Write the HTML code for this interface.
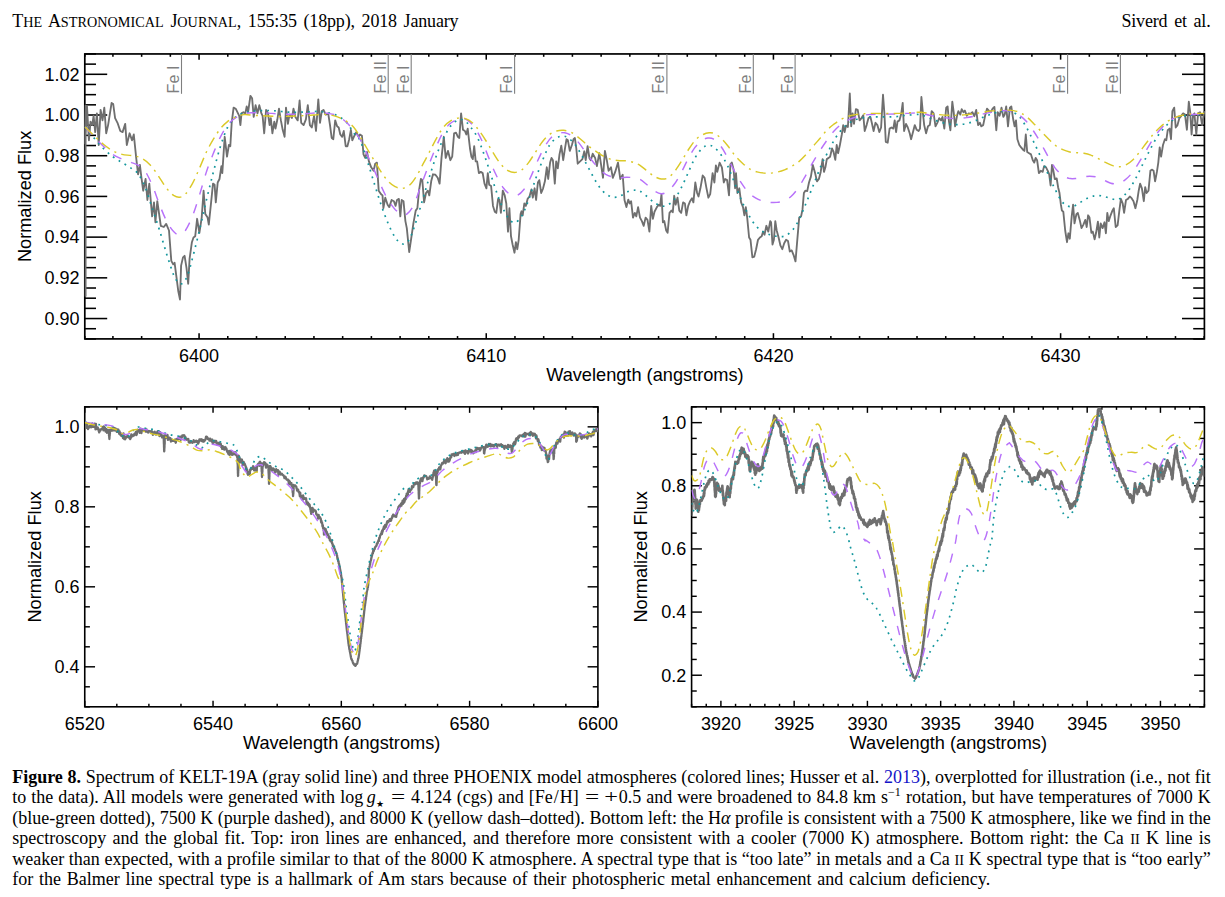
<!DOCTYPE html>
<html><head><meta charset="utf-8"><title>Figure 8</title>
<style>
html,body{margin:0;padding:0;background:#fff;}
body{width:1225px;height:897px;position:relative;overflow:hidden;font-family:"Liberation Serif",serif;color:#000;}
svg{position:absolute;left:0;top:0;}
svg text{font-family:"Liberation Sans",sans-serif;}
.hdr{position:absolute;top:11.1px;font-size:18px;line-height:20px;white-space:nowrap;word-spacing:2.4px;letter-spacing:-0.17px;}
.hdr .c{font-size:14.2px;letter-spacing:0.05px;}
.cl{position:absolute;left:12.2px;width:1198.6px;font-size:18px;letter-spacing:0;line-height:20px;height:20px;white-space:nowrap;text-align:justify;text-align-last:justify;}
.cl.last{text-align:left;text-align-last:left;word-spacing:1.3px;}
.m{display:inline-block;transform:scaleX(1.4);margin:0 3px;}
.st{font-size:8.5px;position:relative;top:4px;margin-left:0;font-family:"Liberation Sans",sans-serif;}
.cl sub,.cl sup{font-size:12px;line-height:0;}
.sc{font-size:14.4px;}
</style></head><body>
<div class="hdr" style="left:12.3px">T<span class="c">HE</span> A<span class="c">STRONOMICAL</span> J<span class="c">OURNAL</span>, 155:35 (18pp), 2018 January</div>
<div class="hdr" style="right:14.5px">Siverd et al.</div>
<svg width="1225" height="897" viewBox="0 0 1225 897">
<defs>
<clipPath id="ct"><rect x="84.0" y="54.0" width="1121.2" height="284.9"/></clipPath>
<clipPath id="cbl"><rect x="84.8" y="406.9" width="513.1" height="299.9"/></clipPath>
<clipPath id="cbr"><rect x="691.6" y="406.9" width="512.8" height="299.9"/></clipPath>
</defs>
<rect x="84.80" y="53.95" width="1119.60" height="284.95" fill="none" stroke="#000" stroke-width="1.70"/>
<line x1="84.80" y1="338.90" x2="84.80" y2="336.05" stroke="#000" stroke-width="1.55"/>
<line x1="84.80" y1="53.95" x2="84.80" y2="56.80" stroke="#000" stroke-width="1.55"/>
<line x1="112.92" y1="338.90" x2="112.92" y2="336.05" stroke="#000" stroke-width="1.55"/>
<line x1="112.92" y1="53.95" x2="112.92" y2="56.80" stroke="#000" stroke-width="1.55"/>
<line x1="141.64" y1="338.90" x2="141.64" y2="336.05" stroke="#000" stroke-width="1.55"/>
<line x1="141.64" y1="53.95" x2="141.64" y2="56.80" stroke="#000" stroke-width="1.55"/>
<line x1="170.35" y1="338.90" x2="170.35" y2="336.05" stroke="#000" stroke-width="1.55"/>
<line x1="170.35" y1="53.95" x2="170.35" y2="56.80" stroke="#000" stroke-width="1.55"/>
<line x1="199.07" y1="338.90" x2="199.07" y2="333.20" stroke="#000" stroke-width="1.55"/>
<line x1="199.07" y1="53.95" x2="199.07" y2="59.65" stroke="#000" stroke-width="1.55"/>
<text x="199.07" y="362.30" text-anchor="middle" font-size="18.00" fill="#000">6400</text>
<line x1="227.79" y1="338.90" x2="227.79" y2="336.05" stroke="#000" stroke-width="1.55"/>
<line x1="227.79" y1="53.95" x2="227.79" y2="56.80" stroke="#000" stroke-width="1.55"/>
<line x1="256.51" y1="338.90" x2="256.51" y2="336.05" stroke="#000" stroke-width="1.55"/>
<line x1="256.51" y1="53.95" x2="256.51" y2="56.80" stroke="#000" stroke-width="1.55"/>
<line x1="285.23" y1="338.90" x2="285.23" y2="336.05" stroke="#000" stroke-width="1.55"/>
<line x1="285.23" y1="53.95" x2="285.23" y2="56.80" stroke="#000" stroke-width="1.55"/>
<line x1="313.94" y1="338.90" x2="313.94" y2="336.05" stroke="#000" stroke-width="1.55"/>
<line x1="313.94" y1="53.95" x2="313.94" y2="56.80" stroke="#000" stroke-width="1.55"/>
<line x1="342.66" y1="338.90" x2="342.66" y2="336.05" stroke="#000" stroke-width="1.55"/>
<line x1="342.66" y1="53.95" x2="342.66" y2="56.80" stroke="#000" stroke-width="1.55"/>
<line x1="371.38" y1="338.90" x2="371.38" y2="336.05" stroke="#000" stroke-width="1.55"/>
<line x1="371.38" y1="53.95" x2="371.38" y2="56.80" stroke="#000" stroke-width="1.55"/>
<line x1="400.10" y1="338.90" x2="400.10" y2="336.05" stroke="#000" stroke-width="1.55"/>
<line x1="400.10" y1="53.95" x2="400.10" y2="56.80" stroke="#000" stroke-width="1.55"/>
<line x1="428.82" y1="338.90" x2="428.82" y2="336.05" stroke="#000" stroke-width="1.55"/>
<line x1="428.82" y1="53.95" x2="428.82" y2="56.80" stroke="#000" stroke-width="1.55"/>
<line x1="457.53" y1="338.90" x2="457.53" y2="336.05" stroke="#000" stroke-width="1.55"/>
<line x1="457.53" y1="53.95" x2="457.53" y2="56.80" stroke="#000" stroke-width="1.55"/>
<line x1="486.25" y1="338.90" x2="486.25" y2="333.20" stroke="#000" stroke-width="1.55"/>
<line x1="486.25" y1="53.95" x2="486.25" y2="59.65" stroke="#000" stroke-width="1.55"/>
<text x="486.25" y="362.30" text-anchor="middle" font-size="18.00" fill="#000">6410</text>
<line x1="514.97" y1="338.90" x2="514.97" y2="336.05" stroke="#000" stroke-width="1.55"/>
<line x1="514.97" y1="53.95" x2="514.97" y2="56.80" stroke="#000" stroke-width="1.55"/>
<line x1="543.69" y1="338.90" x2="543.69" y2="336.05" stroke="#000" stroke-width="1.55"/>
<line x1="543.69" y1="53.95" x2="543.69" y2="56.80" stroke="#000" stroke-width="1.55"/>
<line x1="572.41" y1="338.90" x2="572.41" y2="336.05" stroke="#000" stroke-width="1.55"/>
<line x1="572.41" y1="53.95" x2="572.41" y2="56.80" stroke="#000" stroke-width="1.55"/>
<line x1="601.12" y1="338.90" x2="601.12" y2="336.05" stroke="#000" stroke-width="1.55"/>
<line x1="601.12" y1="53.95" x2="601.12" y2="56.80" stroke="#000" stroke-width="1.55"/>
<line x1="629.84" y1="338.90" x2="629.84" y2="336.05" stroke="#000" stroke-width="1.55"/>
<line x1="629.84" y1="53.95" x2="629.84" y2="56.80" stroke="#000" stroke-width="1.55"/>
<line x1="658.56" y1="338.90" x2="658.56" y2="336.05" stroke="#000" stroke-width="1.55"/>
<line x1="658.56" y1="53.95" x2="658.56" y2="56.80" stroke="#000" stroke-width="1.55"/>
<line x1="687.28" y1="338.90" x2="687.28" y2="336.05" stroke="#000" stroke-width="1.55"/>
<line x1="687.28" y1="53.95" x2="687.28" y2="56.80" stroke="#000" stroke-width="1.55"/>
<line x1="715.99" y1="338.90" x2="715.99" y2="336.05" stroke="#000" stroke-width="1.55"/>
<line x1="715.99" y1="53.95" x2="715.99" y2="56.80" stroke="#000" stroke-width="1.55"/>
<line x1="744.71" y1="338.90" x2="744.71" y2="336.05" stroke="#000" stroke-width="1.55"/>
<line x1="744.71" y1="53.95" x2="744.71" y2="56.80" stroke="#000" stroke-width="1.55"/>
<line x1="773.43" y1="338.90" x2="773.43" y2="333.20" stroke="#000" stroke-width="1.55"/>
<line x1="773.43" y1="53.95" x2="773.43" y2="59.65" stroke="#000" stroke-width="1.55"/>
<text x="773.43" y="362.30" text-anchor="middle" font-size="18.00" fill="#000">6420</text>
<line x1="802.15" y1="338.90" x2="802.15" y2="336.05" stroke="#000" stroke-width="1.55"/>
<line x1="802.15" y1="53.95" x2="802.15" y2="56.80" stroke="#000" stroke-width="1.55"/>
<line x1="830.87" y1="338.90" x2="830.87" y2="336.05" stroke="#000" stroke-width="1.55"/>
<line x1="830.87" y1="53.95" x2="830.87" y2="56.80" stroke="#000" stroke-width="1.55"/>
<line x1="859.58" y1="338.90" x2="859.58" y2="336.05" stroke="#000" stroke-width="1.55"/>
<line x1="859.58" y1="53.95" x2="859.58" y2="56.80" stroke="#000" stroke-width="1.55"/>
<line x1="888.30" y1="338.90" x2="888.30" y2="336.05" stroke="#000" stroke-width="1.55"/>
<line x1="888.30" y1="53.95" x2="888.30" y2="56.80" stroke="#000" stroke-width="1.55"/>
<line x1="917.02" y1="338.90" x2="917.02" y2="336.05" stroke="#000" stroke-width="1.55"/>
<line x1="917.02" y1="53.95" x2="917.02" y2="56.80" stroke="#000" stroke-width="1.55"/>
<line x1="945.74" y1="338.90" x2="945.74" y2="336.05" stroke="#000" stroke-width="1.55"/>
<line x1="945.74" y1="53.95" x2="945.74" y2="56.80" stroke="#000" stroke-width="1.55"/>
<line x1="974.46" y1="338.90" x2="974.46" y2="336.05" stroke="#000" stroke-width="1.55"/>
<line x1="974.46" y1="53.95" x2="974.46" y2="56.80" stroke="#000" stroke-width="1.55"/>
<line x1="1003.17" y1="338.90" x2="1003.17" y2="336.05" stroke="#000" stroke-width="1.55"/>
<line x1="1003.17" y1="53.95" x2="1003.17" y2="56.80" stroke="#000" stroke-width="1.55"/>
<line x1="1031.89" y1="338.90" x2="1031.89" y2="336.05" stroke="#000" stroke-width="1.55"/>
<line x1="1031.89" y1="53.95" x2="1031.89" y2="56.80" stroke="#000" stroke-width="1.55"/>
<line x1="1060.61" y1="338.90" x2="1060.61" y2="333.20" stroke="#000" stroke-width="1.55"/>
<line x1="1060.61" y1="53.95" x2="1060.61" y2="59.65" stroke="#000" stroke-width="1.55"/>
<text x="1060.61" y="362.30" text-anchor="middle" font-size="18.00" fill="#000">6430</text>
<line x1="1089.33" y1="338.90" x2="1089.33" y2="336.05" stroke="#000" stroke-width="1.55"/>
<line x1="1089.33" y1="53.95" x2="1089.33" y2="56.80" stroke="#000" stroke-width="1.55"/>
<line x1="1118.05" y1="338.90" x2="1118.05" y2="336.05" stroke="#000" stroke-width="1.55"/>
<line x1="1118.05" y1="53.95" x2="1118.05" y2="56.80" stroke="#000" stroke-width="1.55"/>
<line x1="1146.76" y1="338.90" x2="1146.76" y2="336.05" stroke="#000" stroke-width="1.55"/>
<line x1="1146.76" y1="53.95" x2="1146.76" y2="56.80" stroke="#000" stroke-width="1.55"/>
<line x1="1175.48" y1="338.90" x2="1175.48" y2="336.05" stroke="#000" stroke-width="1.55"/>
<line x1="1175.48" y1="53.95" x2="1175.48" y2="56.80" stroke="#000" stroke-width="1.55"/>
<line x1="1204.20" y1="338.90" x2="1204.20" y2="336.05" stroke="#000" stroke-width="1.55"/>
<line x1="1204.20" y1="53.95" x2="1204.20" y2="56.80" stroke="#000" stroke-width="1.55"/>
<line x1="84.80" y1="338.90" x2="96.00" y2="338.90" stroke="#000" stroke-width="1.55"/>
<line x1="1204.40" y1="338.90" x2="1193.20" y2="338.90" stroke="#000" stroke-width="1.55"/>
<line x1="84.80" y1="328.72" x2="96.00" y2="328.72" stroke="#000" stroke-width="1.55"/>
<line x1="1204.40" y1="328.72" x2="1193.20" y2="328.72" stroke="#000" stroke-width="1.55"/>
<line x1="84.80" y1="318.55" x2="107.20" y2="318.55" stroke="#000" stroke-width="1.55"/>
<line x1="1204.40" y1="318.55" x2="1182.00" y2="318.55" stroke="#000" stroke-width="1.55"/>
<text x="79.60" y="324.85" text-anchor="end" font-size="18.00" fill="#000">0.90</text>
<line x1="84.80" y1="308.37" x2="96.00" y2="308.37" stroke="#000" stroke-width="1.55"/>
<line x1="1204.40" y1="308.37" x2="1193.20" y2="308.37" stroke="#000" stroke-width="1.55"/>
<line x1="84.80" y1="298.19" x2="96.00" y2="298.19" stroke="#000" stroke-width="1.55"/>
<line x1="1204.40" y1="298.19" x2="1193.20" y2="298.19" stroke="#000" stroke-width="1.55"/>
<line x1="84.80" y1="288.02" x2="96.00" y2="288.02" stroke="#000" stroke-width="1.55"/>
<line x1="1204.40" y1="288.02" x2="1193.20" y2="288.02" stroke="#000" stroke-width="1.55"/>
<line x1="84.80" y1="277.84" x2="107.20" y2="277.84" stroke="#000" stroke-width="1.55"/>
<line x1="1204.40" y1="277.84" x2="1182.00" y2="277.84" stroke="#000" stroke-width="1.55"/>
<text x="79.60" y="284.14" text-anchor="end" font-size="18.00" fill="#000">0.92</text>
<line x1="84.80" y1="267.66" x2="96.00" y2="267.66" stroke="#000" stroke-width="1.55"/>
<line x1="1204.40" y1="267.66" x2="1193.20" y2="267.66" stroke="#000" stroke-width="1.55"/>
<line x1="84.80" y1="257.49" x2="96.00" y2="257.49" stroke="#000" stroke-width="1.55"/>
<line x1="1204.40" y1="257.49" x2="1193.20" y2="257.49" stroke="#000" stroke-width="1.55"/>
<line x1="84.80" y1="247.31" x2="96.00" y2="247.31" stroke="#000" stroke-width="1.55"/>
<line x1="1204.40" y1="247.31" x2="1193.20" y2="247.31" stroke="#000" stroke-width="1.55"/>
<line x1="84.80" y1="237.13" x2="107.20" y2="237.13" stroke="#000" stroke-width="1.55"/>
<line x1="1204.40" y1="237.13" x2="1182.00" y2="237.13" stroke="#000" stroke-width="1.55"/>
<text x="79.60" y="243.43" text-anchor="end" font-size="18.00" fill="#000">0.94</text>
<line x1="84.80" y1="226.96" x2="96.00" y2="226.96" stroke="#000" stroke-width="1.55"/>
<line x1="1204.40" y1="226.96" x2="1193.20" y2="226.96" stroke="#000" stroke-width="1.55"/>
<line x1="84.80" y1="216.78" x2="96.00" y2="216.78" stroke="#000" stroke-width="1.55"/>
<line x1="1204.40" y1="216.78" x2="1193.20" y2="216.78" stroke="#000" stroke-width="1.55"/>
<line x1="84.80" y1="206.60" x2="96.00" y2="206.60" stroke="#000" stroke-width="1.55"/>
<line x1="1204.40" y1="206.60" x2="1193.20" y2="206.60" stroke="#000" stroke-width="1.55"/>
<line x1="84.80" y1="196.42" x2="107.20" y2="196.42" stroke="#000" stroke-width="1.55"/>
<line x1="1204.40" y1="196.42" x2="1182.00" y2="196.42" stroke="#000" stroke-width="1.55"/>
<text x="79.60" y="202.72" text-anchor="end" font-size="18.00" fill="#000">0.96</text>
<line x1="84.80" y1="186.25" x2="96.00" y2="186.25" stroke="#000" stroke-width="1.55"/>
<line x1="1204.40" y1="186.25" x2="1193.20" y2="186.25" stroke="#000" stroke-width="1.55"/>
<line x1="84.80" y1="176.07" x2="96.00" y2="176.07" stroke="#000" stroke-width="1.55"/>
<line x1="1204.40" y1="176.07" x2="1193.20" y2="176.07" stroke="#000" stroke-width="1.55"/>
<line x1="84.80" y1="165.89" x2="96.00" y2="165.89" stroke="#000" stroke-width="1.55"/>
<line x1="1204.40" y1="165.89" x2="1193.20" y2="165.89" stroke="#000" stroke-width="1.55"/>
<line x1="84.80" y1="155.72" x2="107.20" y2="155.72" stroke="#000" stroke-width="1.55"/>
<line x1="1204.40" y1="155.72" x2="1182.00" y2="155.72" stroke="#000" stroke-width="1.55"/>
<text x="79.60" y="162.02" text-anchor="end" font-size="18.00" fill="#000">0.98</text>
<line x1="84.80" y1="145.54" x2="96.00" y2="145.54" stroke="#000" stroke-width="1.55"/>
<line x1="1204.40" y1="145.54" x2="1193.20" y2="145.54" stroke="#000" stroke-width="1.55"/>
<line x1="84.80" y1="135.36" x2="96.00" y2="135.36" stroke="#000" stroke-width="1.55"/>
<line x1="1204.40" y1="135.36" x2="1193.20" y2="135.36" stroke="#000" stroke-width="1.55"/>
<line x1="84.80" y1="125.19" x2="96.00" y2="125.19" stroke="#000" stroke-width="1.55"/>
<line x1="1204.40" y1="125.19" x2="1193.20" y2="125.19" stroke="#000" stroke-width="1.55"/>
<line x1="84.80" y1="115.01" x2="107.20" y2="115.01" stroke="#000" stroke-width="1.55"/>
<line x1="1204.40" y1="115.01" x2="1182.00" y2="115.01" stroke="#000" stroke-width="1.55"/>
<text x="79.60" y="121.31" text-anchor="end" font-size="18.00" fill="#000">1.00</text>
<line x1="84.80" y1="104.83" x2="96.00" y2="104.83" stroke="#000" stroke-width="1.55"/>
<line x1="1204.40" y1="104.83" x2="1193.20" y2="104.83" stroke="#000" stroke-width="1.55"/>
<line x1="84.80" y1="94.66" x2="96.00" y2="94.66" stroke="#000" stroke-width="1.55"/>
<line x1="1204.40" y1="94.66" x2="1193.20" y2="94.66" stroke="#000" stroke-width="1.55"/>
<line x1="84.80" y1="84.48" x2="96.00" y2="84.48" stroke="#000" stroke-width="1.55"/>
<line x1="1204.40" y1="84.48" x2="1193.20" y2="84.48" stroke="#000" stroke-width="1.55"/>
<line x1="84.80" y1="74.30" x2="107.20" y2="74.30" stroke="#000" stroke-width="1.55"/>
<line x1="1204.40" y1="74.30" x2="1182.00" y2="74.30" stroke="#000" stroke-width="1.55"/>
<text x="79.60" y="80.60" text-anchor="end" font-size="18.00" fill="#000">1.02</text>
<line x1="84.80" y1="64.13" x2="96.00" y2="64.13" stroke="#000" stroke-width="1.55"/>
<line x1="1204.40" y1="64.13" x2="1193.20" y2="64.13" stroke="#000" stroke-width="1.55"/>
<line x1="84.80" y1="53.95" x2="96.00" y2="53.95" stroke="#000" stroke-width="1.55"/>
<line x1="1204.40" y1="53.95" x2="1193.20" y2="53.95" stroke="#000" stroke-width="1.55"/>
<text x="644.90" y="381.00" text-anchor="middle" font-size="18.20" fill="#000">Wavelength (angstroms)</text>
<text x="31.00" y="196.42" text-anchor="middle" font-size="18.20" fill="#000" transform="rotate(-90 31.00 196.42)">Normalized Flux</text>
<rect x="84.75" y="406.85" width="513.15" height="299.95" fill="none" stroke="#000" stroke-width="1.60"/>
<line x1="84.75" y1="706.80" x2="84.75" y2="700.80" stroke="#000" stroke-width="1.45"/>
<line x1="84.75" y1="406.85" x2="84.75" y2="412.85" stroke="#000" stroke-width="1.45"/>
<text x="84.75" y="729.60" text-anchor="middle" font-size="18.00" fill="#000">6520</text>
<line x1="116.82" y1="706.80" x2="116.82" y2="703.80" stroke="#000" stroke-width="1.45"/>
<line x1="116.82" y1="406.85" x2="116.82" y2="409.85" stroke="#000" stroke-width="1.45"/>
<line x1="148.89" y1="706.80" x2="148.89" y2="703.80" stroke="#000" stroke-width="1.45"/>
<line x1="148.89" y1="406.85" x2="148.89" y2="409.85" stroke="#000" stroke-width="1.45"/>
<line x1="180.97" y1="706.80" x2="180.97" y2="703.80" stroke="#000" stroke-width="1.45"/>
<line x1="180.97" y1="406.85" x2="180.97" y2="409.85" stroke="#000" stroke-width="1.45"/>
<line x1="213.04" y1="706.80" x2="213.04" y2="700.80" stroke="#000" stroke-width="1.45"/>
<line x1="213.04" y1="406.85" x2="213.04" y2="412.85" stroke="#000" stroke-width="1.45"/>
<text x="213.04" y="729.60" text-anchor="middle" font-size="18.00" fill="#000">6540</text>
<line x1="245.11" y1="706.80" x2="245.11" y2="703.80" stroke="#000" stroke-width="1.45"/>
<line x1="245.11" y1="406.85" x2="245.11" y2="409.85" stroke="#000" stroke-width="1.45"/>
<line x1="277.18" y1="706.80" x2="277.18" y2="703.80" stroke="#000" stroke-width="1.45"/>
<line x1="277.18" y1="406.85" x2="277.18" y2="409.85" stroke="#000" stroke-width="1.45"/>
<line x1="309.25" y1="706.80" x2="309.25" y2="703.80" stroke="#000" stroke-width="1.45"/>
<line x1="309.25" y1="406.85" x2="309.25" y2="409.85" stroke="#000" stroke-width="1.45"/>
<line x1="341.32" y1="706.80" x2="341.32" y2="700.80" stroke="#000" stroke-width="1.45"/>
<line x1="341.32" y1="406.85" x2="341.32" y2="412.85" stroke="#000" stroke-width="1.45"/>
<text x="341.32" y="729.60" text-anchor="middle" font-size="18.00" fill="#000">6560</text>
<line x1="373.40" y1="706.80" x2="373.40" y2="703.80" stroke="#000" stroke-width="1.45"/>
<line x1="373.40" y1="406.85" x2="373.40" y2="409.85" stroke="#000" stroke-width="1.45"/>
<line x1="405.47" y1="706.80" x2="405.47" y2="703.80" stroke="#000" stroke-width="1.45"/>
<line x1="405.47" y1="406.85" x2="405.47" y2="409.85" stroke="#000" stroke-width="1.45"/>
<line x1="437.54" y1="706.80" x2="437.54" y2="703.80" stroke="#000" stroke-width="1.45"/>
<line x1="437.54" y1="406.85" x2="437.54" y2="409.85" stroke="#000" stroke-width="1.45"/>
<line x1="469.61" y1="706.80" x2="469.61" y2="700.80" stroke="#000" stroke-width="1.45"/>
<line x1="469.61" y1="406.85" x2="469.61" y2="412.85" stroke="#000" stroke-width="1.45"/>
<text x="469.61" y="729.60" text-anchor="middle" font-size="18.00" fill="#000">6580</text>
<line x1="501.68" y1="706.80" x2="501.68" y2="703.80" stroke="#000" stroke-width="1.45"/>
<line x1="501.68" y1="406.85" x2="501.68" y2="409.85" stroke="#000" stroke-width="1.45"/>
<line x1="533.76" y1="706.80" x2="533.76" y2="703.80" stroke="#000" stroke-width="1.45"/>
<line x1="533.76" y1="406.85" x2="533.76" y2="409.85" stroke="#000" stroke-width="1.45"/>
<line x1="565.83" y1="706.80" x2="565.83" y2="703.80" stroke="#000" stroke-width="1.45"/>
<line x1="565.83" y1="406.85" x2="565.83" y2="409.85" stroke="#000" stroke-width="1.45"/>
<line x1="597.90" y1="706.80" x2="597.90" y2="700.80" stroke="#000" stroke-width="1.45"/>
<line x1="597.90" y1="406.85" x2="597.90" y2="412.85" stroke="#000" stroke-width="1.45"/>
<text x="597.90" y="729.60" text-anchor="middle" font-size="18.00" fill="#000">6600</text>
<line x1="84.75" y1="706.80" x2="89.90" y2="706.80" stroke="#000" stroke-width="1.45"/>
<line x1="597.90" y1="706.80" x2="592.75" y2="706.80" stroke="#000" stroke-width="1.45"/>
<line x1="84.75" y1="686.80" x2="89.90" y2="686.80" stroke="#000" stroke-width="1.45"/>
<line x1="597.90" y1="686.80" x2="592.75" y2="686.80" stroke="#000" stroke-width="1.45"/>
<line x1="84.75" y1="666.81" x2="95.05" y2="666.81" stroke="#000" stroke-width="1.45"/>
<line x1="597.90" y1="666.81" x2="587.60" y2="666.81" stroke="#000" stroke-width="1.45"/>
<text x="79.55" y="673.11" text-anchor="end" font-size="18.00" fill="#000">0.4</text>
<line x1="84.75" y1="646.81" x2="89.90" y2="646.81" stroke="#000" stroke-width="1.45"/>
<line x1="597.90" y1="646.81" x2="592.75" y2="646.81" stroke="#000" stroke-width="1.45"/>
<line x1="84.75" y1="626.81" x2="89.90" y2="626.81" stroke="#000" stroke-width="1.45"/>
<line x1="597.90" y1="626.81" x2="592.75" y2="626.81" stroke="#000" stroke-width="1.45"/>
<line x1="84.75" y1="606.82" x2="89.90" y2="606.82" stroke="#000" stroke-width="1.45"/>
<line x1="597.90" y1="606.82" x2="592.75" y2="606.82" stroke="#000" stroke-width="1.45"/>
<line x1="84.75" y1="586.82" x2="95.05" y2="586.82" stroke="#000" stroke-width="1.45"/>
<line x1="597.90" y1="586.82" x2="587.60" y2="586.82" stroke="#000" stroke-width="1.45"/>
<text x="79.55" y="593.12" text-anchor="end" font-size="18.00" fill="#000">0.6</text>
<line x1="84.75" y1="566.82" x2="89.90" y2="566.82" stroke="#000" stroke-width="1.45"/>
<line x1="597.90" y1="566.82" x2="592.75" y2="566.82" stroke="#000" stroke-width="1.45"/>
<line x1="84.75" y1="546.83" x2="89.90" y2="546.83" stroke="#000" stroke-width="1.45"/>
<line x1="597.90" y1="546.83" x2="592.75" y2="546.83" stroke="#000" stroke-width="1.45"/>
<line x1="84.75" y1="526.83" x2="89.90" y2="526.83" stroke="#000" stroke-width="1.45"/>
<line x1="597.90" y1="526.83" x2="592.75" y2="526.83" stroke="#000" stroke-width="1.45"/>
<line x1="84.75" y1="506.83" x2="95.05" y2="506.83" stroke="#000" stroke-width="1.45"/>
<line x1="597.90" y1="506.83" x2="587.60" y2="506.83" stroke="#000" stroke-width="1.45"/>
<text x="79.55" y="513.13" text-anchor="end" font-size="18.00" fill="#000">0.8</text>
<line x1="84.75" y1="486.84" x2="89.90" y2="486.84" stroke="#000" stroke-width="1.45"/>
<line x1="597.90" y1="486.84" x2="592.75" y2="486.84" stroke="#000" stroke-width="1.45"/>
<line x1="84.75" y1="466.84" x2="89.90" y2="466.84" stroke="#000" stroke-width="1.45"/>
<line x1="597.90" y1="466.84" x2="592.75" y2="466.84" stroke="#000" stroke-width="1.45"/>
<line x1="84.75" y1="446.84" x2="89.90" y2="446.84" stroke="#000" stroke-width="1.45"/>
<line x1="597.90" y1="446.84" x2="592.75" y2="446.84" stroke="#000" stroke-width="1.45"/>
<line x1="84.75" y1="426.85" x2="95.05" y2="426.85" stroke="#000" stroke-width="1.45"/>
<line x1="597.90" y1="426.85" x2="587.60" y2="426.85" stroke="#000" stroke-width="1.45"/>
<text x="79.55" y="433.15" text-anchor="end" font-size="18.00" fill="#000">1.0</text>
<line x1="84.75" y1="406.85" x2="89.90" y2="406.85" stroke="#000" stroke-width="1.45"/>
<line x1="597.90" y1="406.85" x2="592.75" y2="406.85" stroke="#000" stroke-width="1.45"/>
<text x="341.62" y="748.50" text-anchor="middle" font-size="18.20" fill="#000">Wavelength (angstroms)</text>
<text x="41.00" y="556.83" text-anchor="middle" font-size="18.20" fill="#000" transform="rotate(-90 41.00 556.83)">Normalized Flux</text>
<rect x="691.60" y="406.85" width="512.80" height="299.95" fill="none" stroke="#000" stroke-width="1.60"/>
<line x1="691.60" y1="706.80" x2="691.60" y2="703.80" stroke="#000" stroke-width="1.45"/>
<line x1="691.60" y1="406.85" x2="691.60" y2="409.85" stroke="#000" stroke-width="1.45"/>
<line x1="706.25" y1="706.80" x2="706.25" y2="703.80" stroke="#000" stroke-width="1.45"/>
<line x1="706.25" y1="406.85" x2="706.25" y2="409.85" stroke="#000" stroke-width="1.45"/>
<line x1="720.90" y1="706.80" x2="720.90" y2="700.80" stroke="#000" stroke-width="1.45"/>
<line x1="720.90" y1="406.85" x2="720.90" y2="412.85" stroke="#000" stroke-width="1.45"/>
<text x="720.90" y="729.60" text-anchor="middle" font-size="18.00" fill="#000">3920</text>
<line x1="735.55" y1="706.80" x2="735.55" y2="703.80" stroke="#000" stroke-width="1.45"/>
<line x1="735.55" y1="406.85" x2="735.55" y2="409.85" stroke="#000" stroke-width="1.45"/>
<line x1="750.21" y1="706.80" x2="750.21" y2="703.80" stroke="#000" stroke-width="1.45"/>
<line x1="750.21" y1="406.85" x2="750.21" y2="409.85" stroke="#000" stroke-width="1.45"/>
<line x1="764.86" y1="706.80" x2="764.86" y2="703.80" stroke="#000" stroke-width="1.45"/>
<line x1="764.86" y1="406.85" x2="764.86" y2="409.85" stroke="#000" stroke-width="1.45"/>
<line x1="779.51" y1="706.80" x2="779.51" y2="703.80" stroke="#000" stroke-width="1.45"/>
<line x1="779.51" y1="406.85" x2="779.51" y2="409.85" stroke="#000" stroke-width="1.45"/>
<line x1="794.16" y1="706.80" x2="794.16" y2="700.80" stroke="#000" stroke-width="1.45"/>
<line x1="794.16" y1="406.85" x2="794.16" y2="412.85" stroke="#000" stroke-width="1.45"/>
<text x="794.16" y="729.60" text-anchor="middle" font-size="18.00" fill="#000">3925</text>
<line x1="808.81" y1="706.80" x2="808.81" y2="703.80" stroke="#000" stroke-width="1.45"/>
<line x1="808.81" y1="406.85" x2="808.81" y2="409.85" stroke="#000" stroke-width="1.45"/>
<line x1="823.46" y1="706.80" x2="823.46" y2="703.80" stroke="#000" stroke-width="1.45"/>
<line x1="823.46" y1="406.85" x2="823.46" y2="409.85" stroke="#000" stroke-width="1.45"/>
<line x1="838.11" y1="706.80" x2="838.11" y2="703.80" stroke="#000" stroke-width="1.45"/>
<line x1="838.11" y1="406.85" x2="838.11" y2="409.85" stroke="#000" stroke-width="1.45"/>
<line x1="852.77" y1="706.80" x2="852.77" y2="703.80" stroke="#000" stroke-width="1.45"/>
<line x1="852.77" y1="406.85" x2="852.77" y2="409.85" stroke="#000" stroke-width="1.45"/>
<line x1="867.42" y1="706.80" x2="867.42" y2="700.80" stroke="#000" stroke-width="1.45"/>
<line x1="867.42" y1="406.85" x2="867.42" y2="412.85" stroke="#000" stroke-width="1.45"/>
<text x="867.42" y="729.60" text-anchor="middle" font-size="18.00" fill="#000">3930</text>
<line x1="882.07" y1="706.80" x2="882.07" y2="703.80" stroke="#000" stroke-width="1.45"/>
<line x1="882.07" y1="406.85" x2="882.07" y2="409.85" stroke="#000" stroke-width="1.45"/>
<line x1="896.72" y1="706.80" x2="896.72" y2="703.80" stroke="#000" stroke-width="1.45"/>
<line x1="896.72" y1="406.85" x2="896.72" y2="409.85" stroke="#000" stroke-width="1.45"/>
<line x1="911.37" y1="706.80" x2="911.37" y2="703.80" stroke="#000" stroke-width="1.45"/>
<line x1="911.37" y1="406.85" x2="911.37" y2="409.85" stroke="#000" stroke-width="1.45"/>
<line x1="926.02" y1="706.80" x2="926.02" y2="703.80" stroke="#000" stroke-width="1.45"/>
<line x1="926.02" y1="406.85" x2="926.02" y2="409.85" stroke="#000" stroke-width="1.45"/>
<line x1="940.67" y1="706.80" x2="940.67" y2="700.80" stroke="#000" stroke-width="1.45"/>
<line x1="940.67" y1="406.85" x2="940.67" y2="412.85" stroke="#000" stroke-width="1.45"/>
<text x="940.67" y="729.60" text-anchor="middle" font-size="18.00" fill="#000">3935</text>
<line x1="955.33" y1="706.80" x2="955.33" y2="703.80" stroke="#000" stroke-width="1.45"/>
<line x1="955.33" y1="406.85" x2="955.33" y2="409.85" stroke="#000" stroke-width="1.45"/>
<line x1="969.98" y1="706.80" x2="969.98" y2="703.80" stroke="#000" stroke-width="1.45"/>
<line x1="969.98" y1="406.85" x2="969.98" y2="409.85" stroke="#000" stroke-width="1.45"/>
<line x1="984.63" y1="706.80" x2="984.63" y2="703.80" stroke="#000" stroke-width="1.45"/>
<line x1="984.63" y1="406.85" x2="984.63" y2="409.85" stroke="#000" stroke-width="1.45"/>
<line x1="999.28" y1="706.80" x2="999.28" y2="703.80" stroke="#000" stroke-width="1.45"/>
<line x1="999.28" y1="406.85" x2="999.28" y2="409.85" stroke="#000" stroke-width="1.45"/>
<line x1="1013.93" y1="706.80" x2="1013.93" y2="700.80" stroke="#000" stroke-width="1.45"/>
<line x1="1013.93" y1="406.85" x2="1013.93" y2="412.85" stroke="#000" stroke-width="1.45"/>
<text x="1013.93" y="729.60" text-anchor="middle" font-size="18.00" fill="#000">3940</text>
<line x1="1028.58" y1="706.80" x2="1028.58" y2="703.80" stroke="#000" stroke-width="1.45"/>
<line x1="1028.58" y1="406.85" x2="1028.58" y2="409.85" stroke="#000" stroke-width="1.45"/>
<line x1="1043.23" y1="706.80" x2="1043.23" y2="703.80" stroke="#000" stroke-width="1.45"/>
<line x1="1043.23" y1="406.85" x2="1043.23" y2="409.85" stroke="#000" stroke-width="1.45"/>
<line x1="1057.89" y1="706.80" x2="1057.89" y2="703.80" stroke="#000" stroke-width="1.45"/>
<line x1="1057.89" y1="406.85" x2="1057.89" y2="409.85" stroke="#000" stroke-width="1.45"/>
<line x1="1072.54" y1="706.80" x2="1072.54" y2="703.80" stroke="#000" stroke-width="1.45"/>
<line x1="1072.54" y1="406.85" x2="1072.54" y2="409.85" stroke="#000" stroke-width="1.45"/>
<line x1="1087.19" y1="706.80" x2="1087.19" y2="700.80" stroke="#000" stroke-width="1.45"/>
<line x1="1087.19" y1="406.85" x2="1087.19" y2="412.85" stroke="#000" stroke-width="1.45"/>
<text x="1087.19" y="729.60" text-anchor="middle" font-size="18.00" fill="#000">3945</text>
<line x1="1101.84" y1="706.80" x2="1101.84" y2="703.80" stroke="#000" stroke-width="1.45"/>
<line x1="1101.84" y1="406.85" x2="1101.84" y2="409.85" stroke="#000" stroke-width="1.45"/>
<line x1="1116.49" y1="706.80" x2="1116.49" y2="703.80" stroke="#000" stroke-width="1.45"/>
<line x1="1116.49" y1="406.85" x2="1116.49" y2="409.85" stroke="#000" stroke-width="1.45"/>
<line x1="1131.14" y1="706.80" x2="1131.14" y2="703.80" stroke="#000" stroke-width="1.45"/>
<line x1="1131.14" y1="406.85" x2="1131.14" y2="409.85" stroke="#000" stroke-width="1.45"/>
<line x1="1145.79" y1="706.80" x2="1145.79" y2="703.80" stroke="#000" stroke-width="1.45"/>
<line x1="1145.79" y1="406.85" x2="1145.79" y2="409.85" stroke="#000" stroke-width="1.45"/>
<line x1="1160.45" y1="706.80" x2="1160.45" y2="700.80" stroke="#000" stroke-width="1.45"/>
<line x1="1160.45" y1="406.85" x2="1160.45" y2="412.85" stroke="#000" stroke-width="1.45"/>
<text x="1160.45" y="729.60" text-anchor="middle" font-size="18.00" fill="#000">3950</text>
<line x1="1175.10" y1="706.80" x2="1175.10" y2="703.80" stroke="#000" stroke-width="1.45"/>
<line x1="1175.10" y1="406.85" x2="1175.10" y2="409.85" stroke="#000" stroke-width="1.45"/>
<line x1="1189.75" y1="706.80" x2="1189.75" y2="703.80" stroke="#000" stroke-width="1.45"/>
<line x1="1189.75" y1="406.85" x2="1189.75" y2="409.85" stroke="#000" stroke-width="1.45"/>
<line x1="1204.40" y1="706.80" x2="1204.40" y2="703.80" stroke="#000" stroke-width="1.45"/>
<line x1="1204.40" y1="406.85" x2="1204.40" y2="409.85" stroke="#000" stroke-width="1.45"/>
<line x1="691.60" y1="706.80" x2="696.75" y2="706.80" stroke="#000" stroke-width="1.45"/>
<line x1="1204.40" y1="706.80" x2="1199.25" y2="706.80" stroke="#000" stroke-width="1.45"/>
<line x1="691.60" y1="691.01" x2="696.75" y2="691.01" stroke="#000" stroke-width="1.45"/>
<line x1="1204.40" y1="691.01" x2="1199.25" y2="691.01" stroke="#000" stroke-width="1.45"/>
<line x1="691.60" y1="675.23" x2="701.90" y2="675.23" stroke="#000" stroke-width="1.45"/>
<line x1="1204.40" y1="675.23" x2="1194.10" y2="675.23" stroke="#000" stroke-width="1.45"/>
<text x="686.40" y="681.53" text-anchor="end" font-size="18.00" fill="#000">0.2</text>
<line x1="691.60" y1="659.44" x2="696.75" y2="659.44" stroke="#000" stroke-width="1.45"/>
<line x1="1204.40" y1="659.44" x2="1199.25" y2="659.44" stroke="#000" stroke-width="1.45"/>
<line x1="691.60" y1="643.65" x2="696.75" y2="643.65" stroke="#000" stroke-width="1.45"/>
<line x1="1204.40" y1="643.65" x2="1199.25" y2="643.65" stroke="#000" stroke-width="1.45"/>
<line x1="691.60" y1="627.87" x2="696.75" y2="627.87" stroke="#000" stroke-width="1.45"/>
<line x1="1204.40" y1="627.87" x2="1199.25" y2="627.87" stroke="#000" stroke-width="1.45"/>
<line x1="691.60" y1="612.08" x2="701.90" y2="612.08" stroke="#000" stroke-width="1.45"/>
<line x1="1204.40" y1="612.08" x2="1194.10" y2="612.08" stroke="#000" stroke-width="1.45"/>
<text x="686.40" y="618.38" text-anchor="end" font-size="18.00" fill="#000">0.4</text>
<line x1="691.60" y1="596.29" x2="696.75" y2="596.29" stroke="#000" stroke-width="1.45"/>
<line x1="1204.40" y1="596.29" x2="1199.25" y2="596.29" stroke="#000" stroke-width="1.45"/>
<line x1="691.60" y1="580.51" x2="696.75" y2="580.51" stroke="#000" stroke-width="1.45"/>
<line x1="1204.40" y1="580.51" x2="1199.25" y2="580.51" stroke="#000" stroke-width="1.45"/>
<line x1="691.60" y1="564.72" x2="696.75" y2="564.72" stroke="#000" stroke-width="1.45"/>
<line x1="1204.40" y1="564.72" x2="1199.25" y2="564.72" stroke="#000" stroke-width="1.45"/>
<line x1="691.60" y1="548.93" x2="701.90" y2="548.93" stroke="#000" stroke-width="1.45"/>
<line x1="1204.40" y1="548.93" x2="1194.10" y2="548.93" stroke="#000" stroke-width="1.45"/>
<text x="686.40" y="555.23" text-anchor="end" font-size="18.00" fill="#000">0.6</text>
<line x1="691.60" y1="533.14" x2="696.75" y2="533.14" stroke="#000" stroke-width="1.45"/>
<line x1="1204.40" y1="533.14" x2="1199.25" y2="533.14" stroke="#000" stroke-width="1.45"/>
<line x1="691.60" y1="517.36" x2="696.75" y2="517.36" stroke="#000" stroke-width="1.45"/>
<line x1="1204.40" y1="517.36" x2="1199.25" y2="517.36" stroke="#000" stroke-width="1.45"/>
<line x1="691.60" y1="501.57" x2="696.75" y2="501.57" stroke="#000" stroke-width="1.45"/>
<line x1="1204.40" y1="501.57" x2="1199.25" y2="501.57" stroke="#000" stroke-width="1.45"/>
<line x1="691.60" y1="485.78" x2="701.90" y2="485.78" stroke="#000" stroke-width="1.45"/>
<line x1="1204.40" y1="485.78" x2="1194.10" y2="485.78" stroke="#000" stroke-width="1.45"/>
<text x="686.40" y="492.08" text-anchor="end" font-size="18.00" fill="#000">0.8</text>
<line x1="691.60" y1="470.00" x2="696.75" y2="470.00" stroke="#000" stroke-width="1.45"/>
<line x1="1204.40" y1="470.00" x2="1199.25" y2="470.00" stroke="#000" stroke-width="1.45"/>
<line x1="691.60" y1="454.21" x2="696.75" y2="454.21" stroke="#000" stroke-width="1.45"/>
<line x1="1204.40" y1="454.21" x2="1199.25" y2="454.21" stroke="#000" stroke-width="1.45"/>
<line x1="691.60" y1="438.42" x2="696.75" y2="438.42" stroke="#000" stroke-width="1.45"/>
<line x1="1204.40" y1="438.42" x2="1199.25" y2="438.42" stroke="#000" stroke-width="1.45"/>
<line x1="691.60" y1="422.64" x2="701.90" y2="422.64" stroke="#000" stroke-width="1.45"/>
<line x1="1204.40" y1="422.64" x2="1194.10" y2="422.64" stroke="#000" stroke-width="1.45"/>
<text x="686.40" y="428.94" text-anchor="end" font-size="18.00" fill="#000">1.0</text>
<line x1="691.60" y1="406.85" x2="696.75" y2="406.85" stroke="#000" stroke-width="1.45"/>
<line x1="1204.40" y1="406.85" x2="1199.25" y2="406.85" stroke="#000" stroke-width="1.45"/>
<text x="948.30" y="748.50" text-anchor="middle" font-size="18.20" fill="#000">Wavelength (angstroms)</text>
<text x="647.50" y="556.83" text-anchor="middle" font-size="18.20" fill="#000" transform="rotate(-90 647.50 556.83)">Normalized Flux</text>
<line x1="181.50" y1="53.95" x2="181.50" y2="93.80" stroke="#7f7f7f" stroke-width="1.10"/>
<text x="178.90" y="93.50" font-size="16.2" fill="#7f7f7f" transform="rotate(-90 178.90 93.50)">Fe I</text>
<line x1="388.20" y1="53.95" x2="388.20" y2="93.80" stroke="#7f7f7f" stroke-width="1.10"/>
<text x="385.60" y="93.50" font-size="16.2" fill="#7f7f7f" transform="rotate(-90 385.60 93.50)">Fe II</text>
<line x1="411.20" y1="53.95" x2="411.20" y2="93.80" stroke="#7f7f7f" stroke-width="1.10"/>
<text x="408.60" y="93.50" font-size="16.2" fill="#7f7f7f" transform="rotate(-90 408.60 93.50)">Fe I</text>
<line x1="514.60" y1="53.95" x2="514.60" y2="93.80" stroke="#7f7f7f" stroke-width="1.10"/>
<text x="512.00" y="93.50" font-size="16.2" fill="#7f7f7f" transform="rotate(-90 512.00 93.50)">Fe I</text>
<line x1="666.90" y1="53.95" x2="666.90" y2="93.80" stroke="#7f7f7f" stroke-width="1.10"/>
<text x="664.30" y="93.50" font-size="16.2" fill="#7f7f7f" transform="rotate(-90 664.30 93.50)">Fe II</text>
<line x1="753.30" y1="53.95" x2="753.30" y2="93.80" stroke="#7f7f7f" stroke-width="1.10"/>
<text x="750.70" y="93.50" font-size="16.2" fill="#7f7f7f" transform="rotate(-90 750.70 93.50)">Fe I</text>
<line x1="795.10" y1="53.95" x2="795.10" y2="93.80" stroke="#7f7f7f" stroke-width="1.10"/>
<text x="792.50" y="93.50" font-size="16.2" fill="#7f7f7f" transform="rotate(-90 792.50 93.50)">Fe I</text>
<line x1="1067.60" y1="53.95" x2="1067.60" y2="93.80" stroke="#7f7f7f" stroke-width="1.10"/>
<text x="1065.00" y="93.50" font-size="16.2" fill="#7f7f7f" transform="rotate(-90 1065.00 93.50)">Fe I</text>
<line x1="1120.40" y1="53.95" x2="1120.40" y2="93.80" stroke="#7f7f7f" stroke-width="1.10"/>
<text x="1117.80" y="93.50" font-size="16.2" fill="#7f7f7f" transform="rotate(-90 1117.80 93.50)">Fe II</text>
<path d="M85.6 296.5 L85.6 105.5 L85.2 127.5 L85.2 143.8 L87.0 106.4 L88.9 140.3 L90.5 121.6 L92.2 125.1 L93.6 115.8 L95.2 132.1 L96.9 113.4 L98.7 145.0 L100.6 109.9 L102.5 120.4 L104.3 107.6 L106.2 133.3 L108.1 125.1 L111.6 102.9 L113.2 104.0 L115.1 118.1 L117.5 122.8 L120.3 131.0 L122.6 132.1 L125.2 123.9 L126.8 145.0 L129.6 133.3 L132.0 140.3 L133.8 134.5 L136.2 157.9 L138.1 174.3 L139.9 164.9 L141.3 176.6 L143.2 190.7 L145.6 179.0 L147.4 200.0 L149.3 183.6 L152.1 216.4 L154.0 202.4 L155.4 222.3 L157.3 201.2 L160.8 225.8 L163.8 227.0 L166.2 223.9 L169.0 230.5 L171.3 260.9 L173.2 264.4 L174.6 262.8 L176.5 277.3 L178.3 291.3 L180.0 299.5 L181.1 265.6 L183.0 257.4 L184.6 255.8 L186.5 267.9 L188.2 283.8 L189.6 258.6 L191.9 242.2 L193.5 237.5 L195.2 236.3 L197.1 218.8 L199.4 232.8 L201.7 217.6 L203.6 190.7 L205.3 214.1 L207.6 217.6 L208.8 224.6 L211.1 202.4 L213.0 183.6 L214.6 184.8 L215.8 202.4 L217.7 182.5 L219.5 179.0 L221.4 166.1 L222.3 173.1 L224.7 136.8 L227.0 156.7 L228.9 145.0 L230.3 146.2 L231.7 122.8 L233.6 107.6 L235.7 108.7 L238.0 113.4 L239.2 115.8 L240.4 125.1 L241.5 113.4 L243.4 112.2 L245.3 113.4 L246.7 106.4 L248.1 112.2 L250.4 95.9 L252.1 98.2 L253.7 116.9 L255.6 105.2 L257.5 113.4 L259.3 105.2 L261.4 113.4 L262.6 115.8 L264.2 133.3 L266.1 109.9 L268.0 113.4 L269.6 125.1 L270.8 118.1 L272.4 133.3 L274.3 121.6 L275.5 128.6 L277.4 119.3 L279.0 108.7 L280.9 120.4 L282.7 129.8 L284.6 136.8 L286.0 107.6 L287.9 123.9 L289.5 114.6 L291.9 118.1 L293.5 108.7 L295.4 116.9 L297.7 120.4 L299.6 100.5 L301.2 122.8 L303.6 125.1 L305.9 119.3 L307.8 105.2 L309.9 125.1 L311.8 127.5 L314.1 115.8 L316.0 131.0 L318.3 99.4 L320.0 122.8 L321.8 111.1 L323.5 109.9 L325.8 114.6 L328.2 113.4 L330.0 125.1 L331.7 138.0 L333.3 139.2 L335.2 120.4 L337.1 126.3 L338.7 127.5 L340.3 134.5 L342.2 136.8 L343.8 131.0 L345.7 146.2 L347.4 146.2 L349.2 139.2 L350.9 129.8 L352.3 140.3 L354.4 135.7 L356.3 132.1 L358.6 136.8 L360.0 134.5 L361.9 135.7 L363.5 154.4 L365.2 157.9 L367.0 152.0 L368.9 161.4 L371.2 167.3 L373.6 170.8 L375.2 163.7 L376.9 162.6 L378.7 190.7 L381.1 194.2 L382.5 195.4 L383.4 208.2 L385.3 197.7 L387.6 204.7 L389.3 207.1 L391.6 200.0 L393.9 201.2 L395.6 205.9 L397.0 200.0 L398.9 198.9 L400.3 216.4 L401.7 200.0 L403.5 201.2 L405.4 221.1 L406.8 228.1 L409.2 252.0 L411.0 239.8 L413.4 223.4 L415.7 210.6 L417.4 208.2 L419.0 190.7 L420.9 179.0 L422.3 180.1 L424.1 202.4 L426.0 193.0 L427.9 190.7 L429.3 195.4 L431.2 181.3 L433.0 174.3 L435.4 174.7 L437.7 177.8 L439.6 183.6 L441.5 157.9 L443.8 136.8 L445.7 157.9 L448.0 150.9 L450.4 160.2 L452.2 156.7 L454.1 133.3 L456.0 132.6 L457.9 136.8 L459.3 138.0 L461.1 113.4 L463.0 129.8 L464.9 131.0 L466.3 134.5 L467.7 128.6 L470.0 148.5 L471.4 156.7 L472.8 159.1 L474.2 146.2 L475.7 161.4 L477.1 161.4 L478.9 173.1 L480.8 171.9 L482.7 173.1 L484.5 183.6 L486.4 188.3 L487.8 173.1 L489.2 184.8 L491.1 186.0 L493.0 205.9 L494.8 211.7 L496.3 212.9 L498.1 198.9 L499.5 200.0 L500.9 212.9 L502.8 190.7 L504.7 195.4 L506.3 203.5 L508.0 231.6 L509.4 208.2 L511.0 236.3 L512.6 244.5 L514.5 252.7 L515.9 242.2 L517.3 249.2 L518.7 239.8 L520.6 214.1 L521.5 211.3 L522.7 215.3 L524.3 203.5 L525.8 205.9 L527.6 198.9 L529.5 196.5 L531.4 189.5 L532.8 197.7 L534.6 188.3 L536.1 200.0 L537.9 182.5 L539.3 180.1 L541.2 193.0 L543.1 188.3 L544.9 181.3 L546.8 167.3 L548.2 179.0 L550.1 162.6 L551.5 157.9 L552.9 160.2 L554.8 183.6 L556.2 161.4 L557.8 168.4 L559.5 154.4 L561.3 145.7 L563.2 160.2 L564.8 149.7 L566.5 139.2 L567.9 140.3 L569.8 150.9 L571.9 145.0 L573.5 139.2 L574.9 138.0 L576.3 148.5 L577.7 163.7 L580.1 161.4 L582.4 159.1 L584.3 151.3 L585.7 160.2 L587.6 146.2 L589.4 157.9 L590.8 160.2 L592.7 153.7 L595.1 157.9 L596.9 166.1 L599.3 153.2 L601.1 164.9 L603.0 177.8 L604.9 150.9 L606.8 160.2 L608.6 170.8 L611.0 167.3 L612.8 177.8 L615.2 171.9 L618.0 162.6 L620.3 179.0 L622.7 174.7 L624.5 200.0 L626.4 207.1 L628.3 199.6 L629.7 203.5 L631.1 201.2 L633.0 217.6 L634.8 212.9 L636.3 216.4 L638.1 207.1 L640.0 217.6 L641.9 221.1 L643.7 225.8 L645.6 217.6 L647.5 219.9 L649.4 231.6 L651.2 205.9 L652.9 218.8 L654.5 211.7 L656.9 207.1 L658.7 204.7 L660.1 205.9 L661.5 194.2 L662.9 222.3 L664.3 221.1 L666.2 230.5 L667.6 232.8 L669.5 212.9 L671.4 210.6 L672.8 212.2 L674.2 195.8 L675.6 204.7 L677.5 197.7 L679.3 210.6 L681.2 212.9 L683.1 202.4 L684.9 203.5 L686.4 215.3 L688.2 205.9 L690.1 201.2 L692.0 198.2 L693.4 202.4 L695.3 182.5 L697.1 193.0 L698.5 196.5 L700.4 188.3 L702.7 175.5 L704.6 177.8 L706.5 188.3 L708.4 197.7 L710.2 194.2 L712.6 173.1 L714.4 182.5 L715.9 165.4 L717.3 171.9 L719.6 162.6 L721.9 167.3 L723.8 182.5 L725.2 179.0 L727.1 180.1 L729.0 195.4 L730.4 164.4 L731.8 162.6 L733.6 169.6 L735.1 188.3 L736.0 173.1 L737.4 193.0 L739.3 188.3 L741.1 202.4 L743.0 207.1 L744.4 215.3 L745.8 207.1 L747.2 217.6 L749.1 237.5 L750.5 239.8 L752.4 257.4 L754.2 256.7 L756.1 249.2 L758.0 239.8 L759.9 237.5 L761.7 236.3 L763.1 231.6 L764.5 234.7 L766.4 225.8 L768.3 231.6 L770.2 221.1 L771.1 222.3 L772.5 244.5 L773.9 239.8 L775.3 221.1 L776.7 230.5 L778.6 237.5 L780.5 245.7 L782.3 249.2 L784.2 243.3 L786.1 239.8 L788.0 241.0 L789.8 251.5 L791.7 250.4 L793.6 255.1 L795.5 261.4 L797.3 239.8 L799.2 217.6 L801.1 216.4 L802.5 209.4 L803.9 193.0 L805.3 190.7 L807.2 191.1 L809.0 182.5 L810.9 176.6 L812.8 164.9 L815.1 173.1 L817.0 181.3 L818.9 179.0 L820.7 171.9 L822.6 159.1 L824.0 171.9 L825.4 167.3 L826.8 159.1 L828.7 157.9 L830.1 156.7 L832.0 148.5 L833.4 151.3 L835.3 159.8 L836.7 145.0 L838.1 153.2 L839.9 145.0 L841.8 134.5 L843.2 125.1 L844.6 132.1 L846.0 125.6 L847.9 127.0 L849.8 93.5 L851.2 126.3 L852.6 113.4 L854.0 123.9 L855.9 109.2 L857.7 109.9 L859.6 120.4 L861.5 118.1 L863.3 115.3 L864.7 131.0 L866.6 125.1 L868.5 118.1 L870.4 116.9 L871.8 122.8 L873.6 131.0 L875.5 122.8 L877.4 125.1 L879.3 132.1 L881.1 127.5 L883.0 94.7 L884.4 113.4 L885.8 142.0 L887.7 142.7 L889.6 128.6 L891.4 127.5 L893.3 128.6 L894.7 120.4 L896.1 132.1 L897.5 121.6 L899.4 120.4 L901.3 113.4 L902.7 102.9 L904.1 131.0 L906.0 123.9 L907.8 127.5 L909.7 133.3 L911.1 139.2 L913.0 132.1 L914.8 125.1 L916.7 129.8 L918.6 131.0 L920.0 128.6 L921.4 97.0 L922.8 112.2 L924.2 125.1 L926.1 133.3 L928.0 126.3 L929.8 125.1 L931.7 111.1 L933.6 113.4 L935.5 126.3 L937.3 122.8 L939.2 118.1 L941.1 120.4 L942.5 116.9 L944.3 128.6 L946.2 107.6 L947.6 106.4 L949.0 121.6 L950.4 130.3 L952.3 101.7 L953.7 112.2 L955.1 126.3 L957.0 115.8 L958.4 111.1 L960.3 114.6 L961.7 109.2 L963.5 112.2 L964.9 110.6 L966.8 115.8 L968.7 113.4 L970.6 113.9 L972.4 112.2 L974.3 116.2 L976.2 109.9 L978.1 125.1 L979.9 122.8 L981.3 126.3 L983.2 125.1 L985.1 115.8 L987.0 108.7 L988.8 110.6 L990.7 112.2 L992.6 108.7 L994.4 106.9 L996.3 130.3 L997.7 112.2 L999.6 115.8 L1001.5 107.6 L1003.3 116.9 L1004.7 114.6 L1006.2 106.4 L1008.0 126.3 L1009.9 107.6 L1011.3 106.4 L1013.2 119.3 L1014.6 126.3 L1016.0 120.4 L1017.4 139.2 L1019.3 145.0 L1021.1 147.4 L1023.0 149.7 L1024.4 150.9 L1025.8 134.5 L1027.2 152.0 L1029.1 153.2 L1031.0 154.4 L1032.8 160.2 L1034.2 162.6 L1035.7 157.9 L1037.1 160.2 L1038.9 173.1 L1040.8 170.8 L1042.7 171.9 L1044.1 166.1 L1046.0 167.3 L1047.8 170.8 L1049.2 174.3 L1050.6 185.5 L1052.0 164.9 L1053.4 170.8 L1054.8 179.0 L1056.7 178.5 L1058.1 187.2 L1059.5 193.0 L1060.9 204.7 L1061.9 210.6 L1063.3 211.7 L1065.2 230.5 L1067.0 242.2 L1068.4 233.3 L1069.8 238.7 L1071.7 216.4 L1073.1 204.7 L1074.5 223.4 L1076.4 214.1 L1077.8 212.9 L1079.7 219.9 L1081.5 228.1 L1083.4 224.6 L1085.3 219.9 L1086.7 227.0 L1088.1 215.3 L1089.5 217.6 L1091.4 232.8 L1092.8 231.6 L1094.6 239.4 L1096.1 232.8 L1097.9 221.6 L1099.3 237.5 L1100.7 223.4 L1102.6 228.1 L1104.5 222.3 L1105.9 233.3 L1107.3 212.9 L1108.7 221.1 L1110.6 215.3 L1112.4 210.6 L1113.8 208.2 L1115.7 227.0 L1117.6 225.3 L1119.5 209.4 L1120.9 198.9 L1122.7 203.5 L1124.1 212.9 L1126.0 200.0 L1127.9 198.9 L1129.8 196.5 L1131.6 198.2 L1133.5 201.2 L1135.4 208.2 L1137.3 200.0 L1138.7 190.7 L1140.1 183.6 L1141.9 188.3 L1143.8 201.2 L1145.2 187.2 L1146.6 193.0 L1148.5 190.7 L1150.4 170.8 L1151.8 169.6 L1153.6 170.8 L1155.1 181.3 L1156.9 171.9 L1158.3 162.6 L1159.7 147.4 L1161.1 156.7 L1163.0 145.0 L1164.9 139.2 L1166.3 140.3 L1167.7 130.3 L1169.6 128.6 L1171.0 139.2 L1172.4 111.1 L1174.2 107.6 L1175.7 127.5 L1177.5 125.1 L1179.4 118.1 L1181.3 115.8 L1183.1 113.4 L1185.0 114.6 L1186.9 129.8 L1188.8 101.7 L1190.2 112.2 L1191.6 134.5 L1193.0 115.8 L1194.4 113.4 L1196.3 134.5 L1198.1 113.4 L1200.0 112.2 L1202.1 125.1 L1204.2 111.1" fill="none" stroke="#6f6f6f" stroke-width="1.85" stroke-linejoin="round" clip-path="url(#ct)"/>
<path d="M85.2 127.0 C86.6 128.8 91.0 134.4 94.0 138.0 C97.1 141.6 100.3 145.4 103.4 148.5 C106.5 151.6 109.7 154.4 112.8 156.7 C115.9 159.1 119.0 160.6 122.1 162.6 C125.3 164.5 128.8 166.5 131.5 168.4 C134.2 170.4 136.2 171.0 138.5 174.3 C140.9 177.6 143.2 182.5 145.6 188.3 C147.9 194.2 150.2 202.4 152.6 209.4 C154.9 216.4 157.3 223.1 159.6 230.5 C161.9 237.9 164.3 246.5 166.6 253.9 C169.0 261.3 171.7 270.2 173.6 274.9 C175.6 279.7 176.8 281.1 178.3 282.4 C179.9 283.8 181.4 284.4 183.0 283.1 C184.6 281.9 186.1 279.0 187.7 274.9 C189.3 270.9 190.4 266.0 192.4 258.6 C194.3 251.1 197.1 240.2 199.4 230.5 C201.7 220.7 204.1 209.8 206.4 200.0 C208.8 190.3 211.1 180.9 213.4 171.9 C215.8 163.0 218.1 153.6 220.5 146.2 C222.8 138.8 225.2 132.1 227.5 127.5 C229.8 122.8 231.8 120.5 234.5 118.1 C237.2 115.7 240.8 114.1 243.9 112.9 C247.0 111.8 250.1 111.5 253.2 111.1 C256.4 110.7 259.5 110.7 262.6 110.6 C265.7 110.5 268.9 110.4 272.0 110.6 C275.1 110.8 278.2 111.3 281.3 111.5 C284.5 111.8 287.6 112.1 290.7 112.2 C293.8 112.4 296.9 112.3 300.1 112.2 C303.2 112.2 306.3 111.9 309.4 111.8 C312.6 111.7 315.7 111.3 318.8 111.5 C321.9 111.7 325.0 112.2 328.2 112.9 C331.3 113.6 334.4 114.1 337.5 115.8 C340.6 117.4 344.2 119.8 346.9 122.8 C349.6 125.7 351.7 130.4 353.9 133.3 C356.1 136.2 357.8 135.8 360.0 140.3 C362.2 144.8 364.7 153.2 367.0 160.2 C369.4 167.3 371.7 175.1 374.0 182.5 C376.4 189.9 378.7 197.9 381.1 204.7 C383.4 211.5 385.8 218.0 388.1 223.4 C390.4 228.9 393.0 234.2 395.1 237.5 C397.3 240.8 399.2 242.4 401.0 243.3 C402.7 244.3 404.1 244.3 405.7 243.3 C407.2 242.4 408.6 241.2 410.3 237.5 C412.1 233.8 414.0 227.7 416.2 221.1 C418.3 214.5 420.9 205.5 423.2 197.7 C425.6 189.9 427.9 181.7 430.2 174.3 C432.6 166.9 434.9 159.5 437.3 153.2 C439.6 147.0 441.9 141.5 444.3 136.8 C446.6 132.1 449.0 127.9 451.3 125.1 C453.6 122.3 456.2 120.7 458.3 120.0 C460.5 119.2 462.2 119.4 464.2 120.4 C466.1 121.5 467.9 123.6 470.0 126.3 C472.2 129.0 474.7 132.1 477.1 136.8 C479.4 141.5 481.7 147.9 484.1 154.4 C486.4 160.8 488.8 168.4 491.1 175.5 C493.4 182.5 495.8 190.3 498.1 196.5 C500.5 202.8 503.0 208.8 505.2 212.9 C507.3 217.0 509.2 219.5 511.0 221.1 C512.8 222.7 513.9 223.1 515.7 222.3 C517.4 221.5 519.4 220.1 521.5 216.4 C523.7 212.7 526.2 206.3 528.6 200.0 C530.9 193.8 533.2 185.6 535.6 179.0 C537.9 172.3 540.3 165.9 542.6 160.2 C544.9 154.6 547.3 148.7 549.6 145.0 C552.0 141.3 554.5 139.5 556.7 138.0 C558.8 136.5 560.6 136.1 562.5 136.1 C564.5 136.1 566.2 136.5 568.4 138.0 C570.5 139.5 573.0 141.9 575.4 145.0 C577.7 148.1 580.1 152.6 582.4 156.7 C584.7 160.8 587.1 165.3 589.4 169.6 C591.8 173.9 594.1 178.8 596.5 182.5 C598.8 186.2 601.1 189.5 603.5 191.8 C605.8 194.2 608.4 195.6 610.5 196.5 C612.6 197.4 614.4 197.5 616.4 197.2 C618.3 197.0 620.1 195.9 622.2 194.9 C624.4 193.9 627.1 191.9 629.2 191.1 C631.4 190.4 633.3 190.2 635.1 190.2 C636.9 190.2 638.0 190.1 640.0 191.1 C642.0 192.2 644.7 194.6 647.0 196.5 C649.4 198.4 651.7 200.8 654.0 202.4 C656.4 203.9 658.9 205.4 661.1 205.9 C663.2 206.4 664.8 206.4 666.9 205.4 C669.1 204.4 671.6 202.9 673.9 200.0 C676.3 197.2 678.6 192.8 681.0 188.3 C683.3 183.8 685.7 178.2 688.0 173.1 C690.3 168.0 692.7 162.0 695.0 157.9 C697.4 153.8 699.9 150.6 702.0 148.5 C704.2 146.5 705.9 145.8 707.9 145.5 C709.8 145.2 711.6 145.4 713.7 146.9 C715.9 148.4 718.4 151.2 720.8 154.4 C723.1 157.6 725.5 161.2 727.8 166.1 C730.1 171.0 732.5 177.8 734.8 183.6 C737.2 189.5 739.5 195.9 741.8 201.2 C744.2 206.5 746.5 211.2 748.9 215.3 C751.2 219.3 753.5 223.1 755.9 225.8 C758.2 228.5 760.6 230.2 762.9 231.6 C765.3 233.1 767.6 233.9 769.9 234.7 C772.3 235.5 774.6 236.0 777.0 236.3 C779.3 236.6 781.8 236.9 784.0 236.3 C786.1 235.7 787.9 234.6 789.8 232.8 C791.8 231.1 793.7 228.9 795.7 225.8 C797.6 222.7 799.6 218.4 801.5 214.1 C803.5 209.8 805.2 205.3 807.4 200.0 C809.5 194.8 812.1 188.3 814.4 182.5 C816.8 176.6 819.1 170.2 821.4 164.9 C823.8 159.6 826.1 155.4 828.5 150.9 C830.8 146.4 833.1 141.7 835.5 138.0 C837.8 134.3 840.2 131.2 842.5 128.6 C844.8 126.1 847.2 124.3 849.5 122.8 C851.9 121.2 854.2 120.1 856.6 119.3 C858.9 118.4 861.2 118.0 863.6 117.6 C865.9 117.2 868.1 117.0 870.6 116.9 C873.1 116.8 875.9 116.9 878.8 116.9 C881.7 116.9 885.0 117.0 888.2 116.9 C891.3 116.8 894.4 116.7 897.5 116.5 C900.6 116.2 903.1 115.6 906.9 115.3 C910.6 115.0 916.3 114.1 920.0 114.6 C923.7 115.1 926.2 116.9 929.4 118.1 C932.5 119.3 935.6 120.6 938.7 121.6 C941.9 122.6 945.0 123.4 948.1 123.9 C951.2 124.5 954.3 124.7 957.5 124.6 C960.6 124.6 963.7 124.2 966.8 123.5 C969.9 122.8 973.1 121.6 976.2 120.4 C979.3 119.2 982.4 117.5 985.6 116.2 C988.7 115.0 991.8 113.8 994.9 112.9 C998.0 112.1 1001.4 111.2 1004.3 111.1 C1007.2 111.0 1009.9 111.3 1012.5 112.2 C1015.0 113.2 1017.2 114.4 1019.5 116.9 C1021.8 119.5 1024.2 123.4 1026.5 127.5 C1028.9 131.6 1031.2 136.6 1033.5 141.5 C1035.9 146.4 1038.2 151.5 1040.6 156.7 C1042.9 162.0 1045.3 167.8 1047.6 173.1 C1049.9 178.4 1052.3 183.6 1054.6 188.3 C1057.0 193.0 1059.5 198.3 1061.6 201.2 C1063.8 204.1 1065.5 205.0 1067.5 205.9 C1069.4 206.7 1071.2 206.9 1073.3 206.4 C1075.5 205.8 1078.0 203.7 1080.4 202.4 C1082.7 201.0 1085.1 199.3 1087.4 198.2 C1089.7 197.1 1092.1 196.2 1094.4 195.8 C1096.8 195.4 1099.1 195.5 1101.4 195.8 C1103.8 196.1 1106.1 197.1 1108.5 197.7 C1110.8 198.3 1113.3 199.6 1115.5 199.6 C1117.6 199.6 1119.2 199.2 1121.3 197.7 C1123.5 196.2 1126.0 193.8 1128.4 190.7 C1130.7 187.5 1133.0 183.3 1135.4 179.0 C1137.7 174.7 1140.1 169.6 1142.4 164.9 C1144.7 160.2 1147.1 155.4 1149.4 150.9 C1151.8 146.4 1154.1 141.7 1156.5 138.0 C1158.8 134.3 1161.1 131.4 1163.5 128.6 C1165.8 125.9 1168.2 123.4 1170.5 121.6 C1172.8 119.8 1175.2 118.6 1177.5 117.6 C1179.9 116.6 1182.2 116.2 1184.5 115.8 C1186.9 115.3 1189.0 115.2 1191.6 115.1 C1194.1 114.9 1197.9 114.7 1200.0 114.6 C1202.1 114.5 1203.5 114.6 1204.2 114.6" fill="none" stroke="#14979d" stroke-width="1.70" stroke-dasharray="1.8 5" stroke-linecap="butt" clip-path="url(#ct)"/>
<path d="M85.2 127.0 C86.6 128.6 91.0 133.6 94.0 136.8 C97.1 140.0 100.3 143.3 103.4 146.2 C106.5 149.1 109.7 152.2 112.8 154.4 C115.9 156.5 119.0 157.7 122.1 159.1 C125.3 160.4 128.8 161.5 131.5 162.6 C134.2 163.6 136.2 163.8 138.5 165.4 C140.9 166.9 143.2 168.5 145.6 171.9 C147.9 175.4 150.2 180.5 152.6 186.0 C154.9 191.4 157.3 198.9 159.6 204.7 C161.9 210.6 164.3 216.6 166.6 221.1 C169.0 225.6 171.5 229.4 173.6 231.6 C175.8 233.9 177.5 234.9 179.5 234.7 C181.4 234.5 183.2 233.5 185.4 230.5 C187.5 227.4 190.0 222.3 192.4 216.4 C194.7 210.6 197.1 202.8 199.4 195.4 C201.7 187.9 204.1 179.0 206.4 171.9 C208.8 164.9 211.1 159.1 213.4 153.2 C215.8 147.4 218.1 141.5 220.5 136.8 C222.8 132.1 225.2 128.2 227.5 125.1 C229.8 122.1 231.8 120.4 234.5 118.6 C237.2 116.7 240.8 114.9 243.9 113.9 C247.0 112.9 250.1 112.9 253.2 112.7 C256.4 112.5 259.5 112.6 262.6 112.7 C265.7 112.8 268.9 113.2 272.0 113.4 C275.1 113.6 278.2 114.0 281.3 114.1 C284.5 114.3 287.6 114.3 290.7 114.3 C293.8 114.3 296.9 114.3 300.1 114.1 C303.2 114.0 306.3 113.6 309.4 113.4 C312.6 113.2 315.7 112.9 318.8 112.9 C321.9 112.9 325.0 112.9 328.2 113.4 C331.3 113.9 334.4 114.2 337.5 115.8 C340.6 117.3 344.2 120.2 346.9 122.8 C349.6 125.3 351.7 128.2 353.9 131.0 C356.1 133.7 357.8 135.3 360.0 139.2 C362.2 143.1 364.7 149.3 367.0 154.4 C369.4 159.5 371.7 164.3 374.0 169.6 C376.4 174.9 378.7 180.9 381.1 186.0 C383.4 191.1 385.8 196.1 388.1 200.0 C390.4 203.9 393.0 207.1 395.1 209.4 C397.3 211.7 399.0 213.3 401.0 214.1 C402.9 214.9 404.7 215.6 406.8 214.1 C409.0 212.5 411.5 209.4 413.8 204.7 C416.2 200.0 418.5 192.2 420.9 186.0 C423.2 179.7 425.6 173.3 427.9 167.3 C430.2 161.2 432.6 155.2 434.9 149.7 C437.3 144.2 439.6 138.7 441.9 134.5 C444.3 130.3 446.6 127.1 449.0 124.6 C451.3 122.2 453.8 121.0 456.0 120.0 C458.1 119.0 459.9 118.5 461.8 118.6 C463.8 118.6 465.5 119.0 467.7 120.4 C469.8 121.9 472.4 124.1 474.7 127.5 C477.1 130.8 479.4 135.3 481.7 140.3 C484.1 145.4 486.4 152.2 488.8 157.9 C491.1 163.6 493.4 169.4 495.8 174.3 C498.1 179.2 500.5 183.8 502.8 187.2 C505.2 190.5 507.5 192.8 509.8 194.2 C512.2 195.5 514.5 196.1 516.9 195.4 C519.2 194.6 521.5 192.6 523.9 189.5 C526.2 186.4 528.6 181.5 530.9 176.6 C533.2 171.7 535.6 165.3 537.9 160.2 C540.3 155.2 542.6 150.1 544.9 146.2 C547.3 142.3 549.6 139.0 552.0 136.8 C554.3 134.7 556.9 134.0 559.0 133.3 C561.1 132.6 562.9 132.5 564.8 132.8 C566.8 133.2 568.6 133.7 570.7 135.2 C572.8 136.6 575.4 138.9 577.7 141.5 C580.1 144.1 582.4 147.7 584.7 150.9 C587.1 154.0 589.4 157.3 591.8 160.2 C594.1 163.2 596.5 166.1 598.8 168.4 C601.1 170.8 603.5 172.8 605.8 174.3 C608.2 175.7 610.5 176.5 612.8 177.1 C615.2 177.7 617.5 177.8 619.9 177.8 C622.2 177.8 624.5 177.3 626.9 177.3 C629.2 177.3 631.7 177.4 633.9 177.8 C636.1 178.1 637.8 178.3 640.0 179.4 C642.2 180.6 644.7 182.9 647.0 184.8 C649.4 186.7 651.7 189.2 654.0 190.7 C656.4 192.2 658.9 193.5 661.1 193.7 C663.2 193.9 664.8 193.3 666.9 191.8 C669.1 190.4 671.6 187.9 673.9 184.8 C676.3 181.7 678.6 177.4 681.0 173.1 C683.3 168.8 685.7 163.4 688.0 159.1 C690.3 154.8 692.7 150.5 695.0 147.4 C697.4 144.2 699.9 141.9 702.0 140.3 C704.2 138.8 705.9 138.2 707.9 138.0 C709.8 137.8 711.6 137.8 713.7 139.2 C715.9 140.5 718.4 143.1 720.8 146.2 C723.1 149.3 725.5 153.6 727.8 157.9 C730.1 162.2 732.5 167.6 734.8 171.9 C737.2 176.2 739.5 180.1 741.8 183.6 C744.2 187.2 746.5 190.6 748.9 193.0 C751.2 195.4 753.5 196.8 755.9 198.2 C758.2 199.5 760.6 200.5 762.9 201.2 C765.3 201.9 767.6 202.2 769.9 202.4 C772.3 202.6 774.6 202.6 777.0 202.4 C779.3 202.1 781.6 201.7 784.0 200.7 C786.3 199.8 788.7 198.6 791.0 196.5 C793.3 194.5 795.7 191.6 798.0 188.3 C800.4 185.0 802.7 180.7 805.1 176.6 C807.4 172.5 809.7 167.8 812.1 163.7 C814.4 159.6 816.8 155.7 819.1 152.0 C821.4 148.3 823.8 144.8 826.1 141.5 C828.5 138.2 830.8 134.9 833.1 132.1 C835.5 129.4 837.8 127.1 840.2 125.1 C842.5 123.2 844.8 121.7 847.2 120.4 C849.5 119.2 851.9 118.4 854.2 117.6 C856.6 116.8 858.9 116.3 861.2 115.8 C863.6 115.2 865.3 114.9 868.3 114.6 C871.2 114.3 875.5 114.2 878.8 114.1 C882.1 114.0 885.0 114.2 888.2 114.1 C891.3 114.1 894.4 114.0 897.5 113.9 C900.6 113.8 903.1 113.6 906.9 113.4 C910.6 113.3 916.3 112.6 920.0 112.9 C923.7 113.3 926.2 114.6 929.4 115.3 C932.5 115.9 935.6 116.5 938.7 116.9 C941.9 117.4 945.0 117.8 948.1 118.1 C951.2 118.4 954.3 118.6 957.5 118.6 C960.6 118.5 963.7 118.1 966.8 117.6 C969.9 117.2 973.1 116.5 976.2 115.8 C979.3 115.1 982.4 114.1 985.6 113.4 C988.7 112.7 991.8 112.0 994.9 111.5 C998.0 111.1 1001.4 110.6 1004.3 110.6 C1007.2 110.6 1009.9 110.8 1012.5 111.5 C1015.0 112.3 1017.2 113.6 1019.5 115.3 C1021.8 117.0 1024.2 119.0 1026.5 121.6 C1028.9 124.2 1031.2 127.5 1033.5 131.0 C1035.9 134.5 1038.2 138.6 1040.6 142.7 C1042.9 146.8 1045.3 151.5 1047.6 155.6 C1049.9 159.6 1052.3 164.1 1054.6 167.3 C1057.0 170.5 1059.3 172.9 1061.6 174.7 C1064.0 176.6 1066.3 177.6 1068.7 178.3 C1071.0 178.9 1073.3 178.7 1075.7 178.5 C1078.0 178.3 1080.4 177.5 1082.7 177.1 C1085.1 176.7 1087.4 176.2 1089.7 176.2 C1092.1 176.2 1094.4 176.4 1096.8 177.1 C1099.1 177.8 1101.4 179.1 1103.8 180.1 C1106.1 181.1 1108.5 182.6 1110.8 183.2 C1113.1 183.8 1115.5 184.2 1117.8 183.6 C1120.2 183.1 1122.5 181.9 1124.8 180.1 C1127.2 178.4 1129.5 176.0 1131.9 173.1 C1134.2 170.2 1136.6 166.3 1138.9 162.6 C1141.2 158.9 1143.6 154.8 1145.9 150.9 C1148.3 147.0 1150.6 142.7 1152.9 139.2 C1155.3 135.7 1157.6 132.5 1160.0 129.8 C1162.3 127.1 1164.6 124.7 1167.0 122.8 C1169.3 120.8 1171.7 119.3 1174.0 118.1 C1176.4 116.9 1178.5 116.3 1181.0 115.8 C1183.6 115.2 1186.1 114.9 1189.2 114.6 C1192.4 114.3 1197.5 114.2 1200.0 114.1 C1202.5 114.0 1203.5 114.1 1204.2 114.1" fill="none" stroke="#b872fa" stroke-width="1.45" stroke-dasharray="9.4 10.2" stroke-linecap="butt" clip-path="url(#ct)"/>
<path d="M85.2 127.0 C86.6 128.4 91.0 132.8 94.0 135.7 C97.1 138.5 100.3 141.8 103.4 144.3 C106.5 146.9 109.7 149.2 112.8 150.9 C115.9 152.5 119.0 153.6 122.1 154.4 C125.3 155.2 128.4 155.0 131.5 155.6 C134.6 156.1 137.7 156.3 140.9 157.9 C144.0 159.5 147.1 161.6 150.2 164.9 C153.4 168.2 156.9 173.9 159.6 177.8 C162.3 181.7 164.3 185.4 166.6 188.3 C169.0 191.3 171.5 193.9 173.6 195.4 C175.8 196.8 177.5 197.4 179.5 197.2 C181.4 197.0 183.2 196.4 185.4 194.2 C187.5 191.9 190.0 187.9 192.4 183.6 C194.7 179.4 197.1 173.7 199.4 168.4 C201.7 163.2 204.1 156.9 206.4 152.0 C208.8 147.2 211.1 143.1 213.4 139.2 C215.8 135.3 218.1 131.6 220.5 128.6 C222.8 125.7 225.2 123.4 227.5 121.6 C229.8 119.8 231.8 118.8 234.5 117.6 C237.2 116.5 240.8 115.0 243.9 114.6 C247.0 114.2 250.1 115.1 253.2 115.3 C256.4 115.5 259.5 115.6 262.6 115.8 C265.7 115.9 268.9 116.1 272.0 116.2 C275.1 116.3 278.2 116.5 281.3 116.5 C284.5 116.5 287.6 116.3 290.7 116.2 C293.8 116.1 296.9 115.9 300.1 115.8 C303.2 115.6 306.3 115.5 309.4 115.3 C312.6 115.1 315.7 114.7 318.8 114.6 C321.9 114.5 325.0 114.2 328.2 114.6 C331.3 115.0 334.4 115.8 337.5 116.9 C340.6 118.1 344.2 119.8 346.9 121.6 C349.6 123.4 351.7 124.9 353.9 127.5 C356.1 130.0 357.8 133.3 360.0 136.8 C362.2 140.3 364.7 144.6 367.0 148.5 C369.4 152.4 371.7 156.3 374.0 160.2 C376.4 164.1 378.7 168.4 381.1 171.9 C383.4 175.5 385.8 178.8 388.1 181.3 C390.4 183.8 392.8 185.5 395.1 186.7 C397.5 187.9 399.8 188.5 402.1 188.3 C404.5 188.1 406.8 187.5 409.2 185.5 C411.5 183.6 413.8 180.3 416.2 176.6 C418.5 173.0 420.9 168.1 423.2 163.7 C425.6 159.4 427.9 154.9 430.2 150.4 C432.6 145.9 434.9 140.8 437.3 136.8 C439.6 132.8 441.9 129.0 444.3 126.3 C446.6 123.6 449.0 121.8 451.3 120.4 C453.6 119.1 456.0 118.4 458.3 118.1 C460.7 117.8 463.0 117.8 465.4 118.6 C467.7 119.3 470.0 120.7 472.4 122.8 C474.7 124.8 477.1 127.8 479.4 131.0 C481.7 134.1 484.1 137.8 486.4 141.5 C488.8 145.2 491.1 149.5 493.4 153.2 C495.8 156.9 498.1 160.9 500.5 163.7 C502.8 166.6 505.2 168.9 507.5 170.3 C509.8 171.7 512.2 172.4 514.5 172.4 C516.9 172.4 519.2 171.7 521.5 170.1 C523.9 168.4 526.2 165.6 528.6 162.6 C530.9 159.6 533.2 155.6 535.6 152.0 C537.9 148.5 540.3 144.4 542.6 141.5 C544.9 138.6 547.3 136.2 549.6 134.5 C552.0 132.7 554.3 131.7 556.7 131.0 C559.0 130.3 561.3 130.1 563.7 130.3 C566.0 130.5 568.4 131.0 570.7 132.1 C573.0 133.2 575.4 135.1 577.7 136.8 C580.1 138.6 582.4 140.7 584.7 142.7 C587.1 144.6 589.4 146.8 591.8 148.5 C594.1 150.3 596.5 151.7 598.8 153.2 C601.1 154.7 603.5 156.3 605.8 157.4 C608.2 158.5 610.5 159.2 612.8 159.8 C615.2 160.3 617.5 160.5 619.9 160.7 C622.2 160.9 624.5 160.6 626.9 160.9 C629.2 161.2 631.7 161.8 633.9 162.6 C636.1 163.3 637.8 164.0 640.0 165.4 C642.2 166.8 644.7 169.0 647.0 170.8 C649.4 172.6 651.7 174.8 654.0 176.2 C656.4 177.5 658.7 178.7 661.1 179.0 C663.4 179.2 665.8 179.2 668.1 177.8 C670.4 176.4 672.8 173.7 675.1 170.8 C677.5 167.8 679.8 163.9 682.1 160.2 C684.5 156.5 686.8 152.0 689.2 148.5 C691.5 145.0 693.8 141.5 696.2 139.2 C698.5 136.8 701.1 135.5 703.2 134.5 C705.4 133.4 707.1 133.0 709.1 132.8 C711.0 132.7 712.8 132.7 714.9 133.8 C717.1 134.8 719.6 136.9 721.9 139.2 C724.3 141.4 726.6 144.4 729.0 147.4 C731.3 150.3 733.6 154.0 736.0 156.7 C738.3 159.5 740.7 161.7 743.0 163.7 C745.4 165.8 747.7 167.8 750.0 169.1 C752.4 170.5 754.7 171.3 757.1 171.9 C759.4 172.6 761.7 172.9 764.1 173.1 C766.4 173.3 768.8 173.3 771.1 173.1 C773.4 172.9 775.8 172.5 778.1 171.9 C780.5 171.4 782.8 170.6 785.2 169.6 C787.5 168.6 789.8 167.5 792.2 166.1 C794.5 164.7 796.9 163.4 799.2 161.4 C801.5 159.5 803.9 156.9 806.2 154.4 C808.6 151.8 810.9 148.9 813.2 146.2 C815.6 143.5 817.9 140.7 820.3 138.0 C822.6 135.3 824.9 132.1 827.3 129.8 C829.6 127.5 832.0 125.7 834.3 123.9 C836.7 122.2 839.0 120.6 841.3 119.3 C843.7 118.0 846.0 117.0 848.4 116.2 C850.7 115.4 853.0 115.0 855.4 114.6 C857.7 114.2 860.1 114.1 862.4 113.9 C864.7 113.7 866.7 113.5 869.4 113.4 C872.2 113.3 875.7 113.4 878.8 113.4 C881.9 113.4 885.0 113.4 888.2 113.4 C891.3 113.4 894.4 113.5 897.5 113.4 C900.6 113.3 903.1 113.1 906.9 112.9 C910.6 112.7 916.3 112.2 920.0 112.2 C923.7 112.3 926.2 113.0 929.4 113.4 C932.5 113.8 935.6 114.3 938.7 114.6 C941.9 114.9 945.0 115.2 948.1 115.3 C951.2 115.4 954.3 115.4 957.5 115.3 C960.6 115.2 963.7 114.9 966.8 114.6 C969.9 114.3 973.1 113.9 976.2 113.4 C979.3 112.9 982.4 112.2 985.6 111.8 C988.7 111.3 991.8 110.9 994.9 110.6 C998.0 110.3 1001.2 110.1 1004.3 110.1 C1007.4 110.1 1010.9 110.1 1013.6 110.6 C1016.4 111.1 1018.3 111.8 1020.7 112.9 C1023.0 114.1 1025.4 115.7 1027.7 117.6 C1030.0 119.6 1032.4 122.2 1034.7 124.6 C1037.1 127.1 1039.4 129.7 1041.7 132.1 C1044.1 134.6 1046.4 136.9 1048.8 139.2 C1051.1 141.4 1053.4 144.0 1055.8 145.7 C1058.1 147.5 1060.5 148.6 1062.8 149.7 C1065.2 150.8 1067.5 151.5 1069.8 152.0 C1072.2 152.5 1074.5 152.5 1076.9 152.7 C1079.2 152.9 1081.5 152.8 1083.9 153.2 C1086.2 153.6 1088.6 154.2 1090.9 155.1 C1093.2 155.9 1095.6 157.2 1097.9 158.4 C1100.3 159.5 1102.6 160.9 1104.9 162.1 C1107.3 163.3 1109.6 164.6 1112.0 165.4 C1114.3 166.2 1116.7 166.9 1119.0 166.8 C1121.3 166.7 1123.7 166.1 1126.0 164.9 C1128.4 163.7 1130.7 162.0 1133.0 159.8 C1135.4 157.5 1137.7 154.3 1140.1 151.3 C1142.4 148.4 1144.7 145.0 1147.1 142.0 C1149.4 139.0 1151.8 135.9 1154.1 133.3 C1156.5 130.7 1158.8 128.4 1161.1 126.3 C1163.5 124.2 1165.8 122.4 1168.2 120.9 C1170.5 119.4 1172.8 118.3 1175.2 117.4 C1177.5 116.5 1179.9 115.8 1182.2 115.3 C1184.5 114.7 1186.3 114.4 1189.2 114.1 C1192.2 113.8 1197.5 113.5 1200.0 113.4 C1202.5 113.3 1203.5 113.4 1204.2 113.4" fill="none" stroke="#dbc928" stroke-width="1.45" stroke-dasharray="10.2 5.3 2 5.3" stroke-linecap="butt" clip-path="url(#ct)"/>
<path d="M84.9 426.1 L85.5 426.1 L86.1 427.9 L86.7 423.6 L87.3 425.0 L88.0 429.0 L88.6 427.9 L89.2 427.4 L89.8 426.0 L90.4 425.9 L91.0 427.4 L91.6 426.9 L92.2 423.7 L92.9 426.9 L93.5 426.9 L94.1 426.8 L94.7 423.7 L95.1 424.4 L95.5 429.3 L95.9 423.8 L96.3 429.1 L96.7 427.8 L97.1 427.4 L97.6 427.3 L98.0 428.3 L98.6 430.3 L99.2 432.4 L99.8 429.7 L100.4 430.5 L101.0 429.3 L101.6 428.8 L102.2 428.8 L102.9 426.9 L103.4 430.4 L103.9 426.4 L104.5 427.8 L105.0 427.7 L105.6 431.5 L106.1 429.0 L106.6 430.5 L107.0 432.8 L107.5 430.3 L107.9 429.8 L108.3 431.8 L108.8 431.0 L108.8 432.8 L108.9 430.9 L109.0 432.6 L109.0 435.8 L109.1 434.6 L109.1 436.0 L109.2 436.3 L109.3 438.2 L109.3 437.1 L109.4 437.5 L109.4 439.0 L109.5 437.0 L109.6 435.8 L109.6 434.1 L109.7 435.7 L109.7 434.5 L109.8 434.2 L109.9 433.9 L109.9 430.0 L110.0 431.6 L110.4 430.4 L110.7 431.0 L111.1 429.6 L111.5 429.2 L111.9 428.6 L112.3 430.7 L112.7 428.1 L113.3 427.7 L113.9 430.3 L114.5 428.0 L115.1 430.4 L115.7 428.7 L116.3 430.7 L116.9 431.9 L117.6 429.4 L118.0 431.8 L118.4 429.7 L118.8 431.5 L119.2 433.8 L119.6 431.3 L120.0 434.3 L120.4 434.8 L120.8 433.3 L121.4 435.9 L121.9 434.2 L122.4 434.8 L123.0 438.1 L123.5 433.5 L124.1 439.0 L124.6 436.1 L125.2 439.3 L125.7 437.4 L126.4 437.6 L127.0 436.2 L127.7 435.5 L128.3 437.0 L129.0 436.8 L129.6 438.3 L130.2 439.1 L130.8 437.7 L131.4 434.3 L132.0 434.8 L132.7 436.3 L133.3 435.2 L133.9 435.5 L134.3 434.0 L134.7 434.4 L135.1 433.4 L135.5 433.7 L135.9 431.8 L136.3 435.1 L136.7 434.5 L137.1 431.5 L137.8 429.8 L138.4 430.5 L139.0 430.7 L139.6 432.8 L140.2 428.6 L140.8 428.6 L141.4 433.2 L142.0 429.3 L142.7 429.4 L143.3 429.7 L144.0 430.7 L144.7 429.6 L145.3 430.1 L145.9 431.7 L146.5 429.3 L147.1 430.6 L147.8 432.3 L148.4 432.5 L149.0 431.0 L149.6 431.3 L150.2 431.1 L150.7 431.6 L151.3 432.2 L151.8 431.2 L152.4 432.2 L152.9 434.8 L153.5 433.6 L154.1 432.5 L154.7 431.7 L155.3 434.2 L155.9 434.5 L156.5 434.0 L157.1 432.1 L157.8 431.1 L158.4 433.5 L158.9 431.6 L159.5 436.0 L160.0 432.1 L160.5 432.7 L161.1 435.6 L161.6 435.0 L162.1 437.4 L162.6 436.5 L163.1 437.4 L163.6 436.7 L163.7 435.6 L163.7 438.0 L163.7 437.2 L163.7 438.1 L163.8 440.5 L163.8 439.6 L163.8 440.2 L163.8 440.4 L163.9 443.8 L163.9 444.0 L163.9 444.1 L163.9 444.2 L164.0 444.2 L164.0 447.5 L164.0 444.1 L164.0 447.5 L164.1 446.5 L164.1 446.2 L164.1 447.1 L164.1 447.8 L164.1 450.5 L164.2 449.1 L164.2 450.0 L164.2 451.4 L164.2 450.9 L164.3 450.9 L164.3 449.4 L164.3 449.1 L164.3 447.4 L164.4 448.4 L164.4 447.8 L164.4 448.5 L164.4 446.6 L164.5 447.6 L164.5 447.2 L164.5 444.7 L164.5 443.4 L164.6 444.9 L164.6 445.0 L164.6 441.4 L164.6 440.8 L164.7 443.7 L164.7 439.6 L164.7 439.5 L164.7 441.0 L164.7 437.2 L164.8 437.6 L164.8 438.0 L164.8 435.5 L164.8 436.1 L165.4 435.3 L166.0 437.8 L166.5 435.4 L167.0 435.3 L167.5 434.9 L167.9 439.8 L168.4 439.4 L168.9 439.4 L169.3 437.7 L169.8 438.8 L170.4 438.2 L171.0 441.5 L171.6 439.6 L172.2 439.6 L172.9 440.9 L173.5 440.4 L174.1 440.9 L174.7 439.8 L175.2 441.2 L175.8 442.7 L176.3 439.1 L176.9 439.7 L177.4 439.6 L178.0 438.4 L178.5 437.1 L179.0 439.0 L179.6 438.8 L180.1 436.7 L180.7 439.8 L181.2 436.6 L181.8 437.5 L182.3 435.5 L182.9 435.4 L183.3 435.4 L183.8 435.2 L184.3 435.3 L184.7 438.9 L185.2 436.7 L185.7 438.0 L186.1 439.1 L186.7 439.7 L187.2 439.0 L187.8 439.7 L188.3 438.9 L188.8 442.3 L189.4 442.5 L189.9 442.7 L190.5 441.2 L191.0 441.3 L191.7 442.4 L192.3 442.8 L193.0 442.3 L193.6 440.2 L194.3 442.0 L194.9 442.0 L195.6 441.1 L196.2 440.6 L196.9 442.0 L197.6 441.2 L198.2 443.7 L198.8 442.1 L199.4 439.4 L200.0 439.3 L200.6 440.5 L201.2 439.3 L201.8 441.1 L202.4 439.8 L203.1 441.7 L203.7 440.3 L204.3 441.2 L204.9 440.2 L205.5 439.5 L206.1 436.6 L206.7 436.6 L207.3 437.5 L207.9 439.1 L208.4 438.6 L209.0 438.8 L209.5 440.7 L210.1 438.7 L210.6 440.5 L211.2 440.4 L211.7 441.5 L212.2 439.5 L212.8 443.4 L213.3 441.6 L213.9 440.9 L214.4 442.0 L215.0 440.7 L215.5 442.4 L216.2 441.0 L216.8 443.1 L217.5 444.9 L218.1 443.3 L218.8 442.8 L219.3 442.9 L219.8 444.4 L220.2 445.5 L220.7 443.7 L221.2 447.0 L221.7 447.2 L222.2 448.8 L222.7 446.1 L223.2 448.8 L223.7 447.3 L224.2 449.6 L224.8 449.3 L225.3 447.0 L225.9 447.9 L226.4 448.5 L226.9 450.7 L227.5 452.2 L228.0 452.9 L228.6 454.4 L229.1 450.8 L229.7 454.8 L230.2 451.4 L230.8 450.9 L231.4 451.6 L232.0 454.9 L232.7 453.6 L233.3 453.7 L233.9 454.4 L234.5 452.3 L235.1 452.7 L235.5 452.3 L235.9 454.7 L236.3 455.2 L236.7 454.8 L237.1 457.0 L237.4 455.7 L237.5 457.8 L237.5 456.1 L237.5 458.7 L237.5 459.8 L237.5 461.1 L237.6 459.1 L237.6 459.1 L237.6 464.0 L237.6 461.9 L237.6 460.8 L237.7 461.4 L237.7 462.2 L237.7 464.5 L237.7 463.2 L237.7 464.4 L237.8 465.3 L237.8 466.9 L237.8 467.0 L237.8 466.1 L237.8 470.3 L237.8 466.5 L237.9 468.0 L237.9 468.9 L237.9 469.4 L237.9 471.6 L237.9 473.4 L238.0 471.9 L238.0 472.7 L238.0 474.9 L238.0 476.0 L238.0 474.5 L238.1 475.7 L238.1 473.2 L238.1 471.9 L238.1 473.2 L238.1 472.3 L238.2 470.3 L238.2 472.9 L238.2 469.6 L238.2 468.2 L238.2 471.0 L238.3 471.0 L238.3 468.3 L238.3 467.0 L238.3 469.4 L238.3 467.2 L238.4 466.2 L238.4 468.0 L238.4 462.9 L238.4 461.9 L238.4 463.8 L238.4 462.1 L238.5 459.8 L238.5 460.2 L238.5 459.7 L238.5 460.9 L238.5 457.7 L238.6 458.0 L238.6 456.6 L238.6 458.7 L238.6 459.8 L238.6 455.6 L238.9 456.1 L239.1 457.2 L239.3 457.1 L239.5 457.8 L239.8 461.2 L240.0 459.0 L240.5 462.3 L240.9 459.5 L241.4 461.0 L241.9 459.6 L242.3 462.7 L242.8 465.1 L243.3 463.5 L243.6 461.8 L244.0 463.6 L244.3 463.4 L244.7 463.8 L245.0 464.7 L245.4 465.9 L245.7 466.2 L245.9 468.0 L246.1 470.5 L246.3 467.6 L246.5 470.7 L246.7 469.9 L246.9 470.7 L247.1 469.5 L247.3 472.6 L247.6 473.8 L247.8 474.1 L248.0 474.8 L248.2 473.8 L248.4 472.3 L248.7 474.4 L249.0 472.7 L249.3 471.6 L249.5 472.5 L249.8 473.8 L250.1 469.9 L250.3 469.4 L250.6 469.7 L251.1 469.6 L251.6 468.5 L252.1 467.7 L252.6 468.7 L253.1 466.2 L253.6 466.7 L254.1 470.3 L254.7 468.4 L255.2 470.5 L255.8 467.7 L256.3 468.0 L256.7 471.1 L257.0 466.8 L257.3 465.8 L257.6 464.9 L258.0 464.1 L258.3 463.7 L258.6 464.5 L258.9 465.4 L259.3 465.7 L259.6 462.1 L260.1 461.7 L260.5 463.4 L261.0 464.2 L261.4 463.7 L261.5 463.4 L261.5 464.0 L261.5 467.0 L261.6 465.2 L261.6 469.1 L261.7 466.9 L261.7 471.5 L261.7 471.0 L261.8 469.4 L261.8 470.0 L261.8 470.3 L261.9 470.4 L261.9 471.8 L261.9 471.5 L262.0 477.1 L262.0 477.0 L262.0 474.5 L262.1 474.2 L262.1 472.8 L262.1 472.5 L262.2 473.5 L262.2 471.7 L262.3 471.0 L262.3 472.6 L262.3 470.6 L262.4 471.5 L262.4 471.7 L262.4 467.0 L262.5 466.1 L262.5 468.8 L262.5 468.7 L262.6 463.6 L262.6 467.2 L262.6 464.3 L263.1 465.8 L263.6 463.6 L264.0 462.2 L264.5 462.3 L265.0 462.8 L265.5 463.3 L266.0 467.7 L266.4 467.0 L266.9 464.6 L267.3 464.8 L267.7 466.3 L268.1 466.5 L268.5 467.0 L268.5 468.1 L268.5 469.0 L268.5 471.2 L268.6 469.9 L268.6 469.6 L268.6 473.3 L268.6 470.1 L268.7 471.9 L268.7 472.6 L268.7 474.0 L268.7 474.0 L268.8 475.9 L268.8 475.1 L268.8 475.9 L268.8 477.8 L268.9 477.9 L268.9 477.2 L268.9 479.3 L268.9 477.9 L269.0 478.8 L269.0 480.7 L269.0 481.2 L269.0 483.8 L269.1 482.5 L269.1 482.9 L269.1 482.7 L269.1 480.3 L269.2 479.0 L269.2 480.6 L269.2 476.7 L269.2 477.3 L269.3 479.4 L269.3 476.2 L269.3 476.2 L269.3 476.1 L269.4 474.6 L269.4 476.8 L269.4 472.7 L269.4 475.1 L269.5 470.4 L269.5 471.8 L269.5 473.7 L269.5 470.2 L269.6 470.6 L269.6 468.6 L269.6 467.6 L269.6 466.1 L269.7 467.4 L270.3 466.1 L271.0 467.3 L271.6 468.2 L272.1 470.7 L272.7 469.0 L273.2 468.4 L273.7 468.8 L274.3 470.0 L274.9 472.1 L275.6 472.3 L276.2 469.2 L276.9 470.5 L277.6 470.2 L278.0 470.2 L278.5 474.8 L279.0 474.0 L279.4 471.6 L279.9 472.2 L280.3 473.2 L280.8 474.6 L281.4 474.2 L281.9 473.8 L282.4 474.6 L283.0 475.1 L283.5 475.5 L284.1 476.4 L284.5 478.2 L285.0 478.2 L285.5 476.8 L285.9 478.2 L286.4 479.3 L286.9 479.1 L287.3 480.2 L287.8 480.2 L288.3 479.8 L288.7 482.3 L289.2 484.2 L289.7 481.4 L290.1 482.5 L290.6 483.2 L291.0 484.5 L291.4 483.2 L291.7 485.8 L292.1 485.3 L292.5 485.3 L292.5 486.7 L292.5 485.5 L292.6 488.4 L292.6 487.2 L292.6 490.1 L292.7 492.4 L292.7 491.2 L292.7 489.1 L292.8 492.3 L292.8 491.7 L292.8 491.6 L292.9 493.3 L292.9 492.7 L293.0 493.7 L293.0 494.0 L293.0 494.7 L293.1 496.1 L293.1 494.6 L293.1 494.3 L293.2 492.9 L293.2 493.9 L293.2 494.3 L293.3 491.9 L293.3 491.1 L293.3 494.2 L293.4 492.1 L293.4 489.7 L293.4 492.2 L293.5 488.9 L293.5 487.0 L293.6 490.3 L293.6 488.4 L293.6 484.9 L293.7 485.7 L294.2 485.6 L294.7 485.6 L295.3 485.5 L295.8 486.3 L296.3 486.8 L296.6 488.5 L296.9 489.0 L297.1 490.5 L297.4 489.5 L297.7 489.4 L298.0 489.5 L298.2 490.0 L298.5 491.5 L298.8 492.4 L299.1 492.0 L299.5 493.5 L299.9 496.3 L300.2 492.7 L300.6 495.6 L301.0 496.9 L301.3 496.1 L301.7 497.1 L302.0 496.4 L302.6 499.8 L303.1 495.4 L303.7 499.0 L304.2 497.8 L304.8 498.9 L305.3 498.8 L305.6 498.5 L306.0 498.2 L306.3 500.4 L306.6 504.2 L306.9 502.8 L307.3 503.2 L307.6 503.4 L307.9 502.5 L308.2 505.1 L308.6 503.9 L308.8 503.7 L309.1 505.7 L309.4 506.5 L309.6 504.6 L309.9 506.6 L310.2 508.1 L310.4 508.5 L310.5 509.8 L310.6 509.8 L310.7 509.6 L310.8 511.9 L310.9 510.2 L311.0 512.3 L311.1 511.5 L311.2 513.9 L311.3 509.8 L311.4 509.0 L311.5 509.0 L311.6 508.6 L312.1 507.8 L312.5 507.8 L313.0 511.9 L313.5 509.4 L313.9 510.1 L314.3 510.5 L314.7 510.6 L315.1 510.4 L315.5 510.7 L315.9 511.9 L316.3 514.3 L316.7 514.1 L317.2 515.3 L317.7 515.5 L318.1 518.5 L318.6 514.8 L319.1 517.8 L319.5 517.5 L320.0 517.1 L320.2 518.5 L320.4 518.0 L320.6 518.7 L320.8 519.2 L321.0 521.0 L321.2 522.2 L321.4 520.9 L321.6 521.7 L321.8 523.1 L322.0 522.6 L322.1 522.8 L322.3 524.6 L322.5 526.3 L322.6 525.5 L322.8 525.2 L323.0 527.8 L323.1 528.4 L323.3 527.4 L323.5 528.4 L323.6 529.8 L323.6 529.0 L323.7 530.5 L323.8 531.1 L323.9 531.2 L323.9 532.9 L324.0 534.6 L324.1 533.9 L324.2 534.0 L324.2 531.5 L324.3 533.6 L324.4 531.6 L324.5 530.0 L324.5 531.0 L324.6 528.4 L324.7 528.8 L325.0 528.9 L325.3 531.4 L325.6 528.9 L325.9 530.5 L326.2 533.1 L326.5 531.5 L326.8 531.9 L327.1 534.7 L327.3 534.8 L327.6 533.7 L327.9 534.8 L328.2 535.1 L328.4 535.3 L328.7 537.8 L329.0 537.1 L329.3 536.8 L329.5 537.0 L329.8 540.2 L330.1 539.2 L330.3 539.4 L330.6 541.4 L330.9 540.1 L331.2 540.4 L331.4 541.5 L331.7 541.4 L331.9 542.7 L332.2 543.8 L332.4 543.4 L332.7 544.9 L332.9 546.1 L333.1 545.2 L333.4 545.7 L333.6 546.9 L333.9 547.2 L334.1 547.9 L334.4 548.4 L334.6 549.1 L334.9 549.1 L335.1 550.2 L335.3 550.9 L335.6 551.2 L335.8 551.7 L336.1 552.6 L336.3 553.0 L336.5 553.7 L336.6 553.7 L336.8 554.2 L336.9 555.0 L337.1 555.6 L337.2 556.8 L337.4 558.2 L337.5 559.2 L337.7 558.2 L337.8 559.4 L338.0 559.7 L338.1 561.1 L338.3 561.4 L338.4 560.9 L338.6 561.5 L338.7 563.3 L338.9 563.8 L339.0 563.7 L339.2 564.3 L339.3 566.1 L339.5 566.2 L339.6 566.7 L339.8 567.6 L339.9 567.6 L340.0 569.1 L340.1 569.1 L340.2 569.9 L340.3 570.2 L340.4 570.5 L340.5 571.9 L340.6 571.8 L340.7 572.3 L340.8 573.2 L340.9 573.9 L341.0 574.3 L341.1 575.4 L341.2 575.5 L341.3 576.8 L341.4 577.0 L341.6 577.6 L341.6 577.9 L341.7 578.6 L341.7 579.2 L341.8 580.0 L341.8 580.7 L341.9 581.2 L341.9 581.7 L342.0 582.7 L342.1 583.2 L342.1 584.0 L342.2 584.1 L342.2 585.0 L342.3 585.1 L342.3 586.0 L342.4 586.1 L342.4 586.8 L342.5 587.7 L342.6 588.2 L342.6 589.2 L342.7 589.2 L342.7 590.1 L342.8 591.0 L342.8 591.2 L342.9 591.9 L342.9 592.8 L343.0 592.9 L343.1 593.7 L343.1 594.3 L343.2 594.7 L343.2 595.2 L343.3 596.4 L343.4 596.5 L343.4 597.5 L343.5 598.3 L343.5 599.3 L343.6 599.0 L343.7 600.3 L343.7 600.5 L343.8 601.0 L343.8 601.2 L343.9 602.8 L344.0 603.0 L344.0 604.0 L344.1 603.9 L344.2 604.4 L344.2 605.0 L344.3 605.8 L344.3 606.8 L344.4 607.7 L344.5 607.6 L344.5 608.3 L344.6 609.4 L344.6 609.7 L344.7 610.1 L344.8 611.1 L344.8 611.3 L344.9 612.2 L345.0 613.3 L345.1 613.4 L345.1 613.7 L345.2 614.4 L345.3 615.4 L345.3 616.2 L345.4 616.0 L345.5 617.5 L345.5 617.8 L345.6 617.9 L345.7 618.5 L345.7 619.4 L345.8 619.9 L345.9 621.0 L345.9 621.1 L346.0 621.7 L346.1 622.4 L346.1 623.7 L346.2 623.9 L346.3 624.0 L346.3 625.2 L346.4 625.2 L346.5 626.1 L346.5 626.7 L346.6 627.3 L346.7 628.6 L346.8 628.6 L346.8 629.3 L346.9 630.3 L347.0 630.6 L347.0 631.1 L347.1 631.8 L347.2 632.2 L347.3 633.4 L347.3 633.4 L347.4 634.0 L347.5 634.4 L347.6 635.6 L347.6 635.6 L347.7 636.3 L347.8 637.1 L347.8 637.7 L347.9 638.5 L348.0 639.3 L348.1 640.0 L348.1 639.8 L348.2 640.5 L348.3 641.9 L348.4 642.1 L348.4 642.8 L348.5 643.7 L348.6 643.9 L348.7 644.4 L348.8 645.9 L348.9 645.3 L349.0 646.1 L349.1 646.7 L349.2 647.9 L349.3 648.5 L349.4 649.3 L349.5 649.1 L349.6 649.8 L349.7 650.2 L349.8 651.2 L350.0 652.1 L350.1 652.3 L350.2 652.8 L350.3 653.5 L350.4 653.9 L350.5 654.5 L350.6 654.9 L350.7 656.0 L350.8 656.3 L350.9 656.9 L351.0 657.5 L351.3 658.7 L351.5 659.3 L351.8 659.5 L352.0 660.2 L352.2 660.5 L352.5 660.9 L352.7 661.8 L353.0 662.8 L353.2 663.3 L353.5 663.4 L353.9 664.6 L354.3 664.3 L354.7 665.5 L355.0 665.5 L355.4 665.9 L355.8 665.4 L356.1 664.5 L356.4 663.8 L356.7 663.5 L357.1 663.7 L357.4 662.5 L357.5 661.8 L357.7 661.0 L357.8 660.9 L357.9 660.6 L358.1 659.2 L358.2 658.5 L358.3 658.6 L358.5 657.8 L358.6 657.3 L358.7 656.3 L358.9 655.6 L358.9 654.9 L359.0 654.4 L359.1 653.9 L359.2 653.1 L359.2 652.9 L359.3 652.4 L359.4 651.4 L359.5 651.1 L359.6 650.3 L359.6 649.9 L359.7 649.1 L359.8 648.4 L359.9 648.4 L359.9 647.7 L360.0 646.9 L360.1 646.8 L360.2 645.1 L360.2 644.8 L360.3 644.3 L360.4 643.6 L360.5 643.4 L360.5 642.8 L360.6 642.0 L360.7 641.6 L360.8 640.2 L360.8 640.0 L360.9 639.4 L361.0 638.6 L361.1 638.5 L361.1 637.3 L361.2 636.9 L361.3 636.6 L361.4 636.0 L361.4 635.0 L361.5 634.4 L361.6 633.7 L361.7 633.4 L361.7 632.9 L361.8 632.7 L361.9 631.2 L362.0 631.4 L362.0 630.0 L362.1 630.0 L362.2 629.1 L362.3 628.5 L362.3 628.5 L362.4 627.5 L362.5 626.6 L362.6 626.3 L362.6 625.5 L362.7 624.7 L362.8 624.5 L362.9 623.5 L362.9 622.8 L363.0 622.6 L363.1 622.1 L363.1 621.7 L363.2 621.3 L363.3 619.9 L363.3 619.2 L363.4 618.5 L363.5 617.9 L363.5 617.5 L363.6 617.0 L363.7 616.3 L363.7 615.7 L363.8 615.6 L363.9 614.3 L363.9 613.8 L364.0 613.7 L364.1 612.6 L364.1 612.4 L364.2 611.4 L364.3 610.7 L364.4 610.1 L364.4 609.8 L364.5 609.1 L364.6 608.2 L364.6 608.2 L364.7 607.0 L364.8 606.5 L364.8 606.2 L364.9 605.6 L365.0 605.5 L365.1 604.1 L365.2 604.0 L365.3 602.7 L365.4 602.4 L365.4 602.3 L365.5 601.1 L365.6 601.1 L365.7 599.9 L365.8 599.4 L365.9 599.4 L366.0 598.6 L366.0 597.9 L366.1 597.1 L366.2 596.3 L366.3 596.3 L366.4 594.9 L366.5 594.7 L366.6 594.0 L366.6 593.4 L366.7 592.8 L366.8 592.1 L366.9 591.5 L367.1 590.8 L367.2 590.5 L367.3 589.9 L367.4 589.2 L367.5 589.3 L367.6 588.0 L367.7 587.6 L367.9 587.6 L368.0 585.9 L368.1 585.6 L368.2 585.0 L368.2 584.9 L368.3 583.6 L368.3 583.1 L368.3 582.5 L368.3 582.3 L368.4 581.3 L368.4 581.2 L368.4 580.1 L368.5 579.6 L368.5 579.2 L368.5 578.8 L368.6 577.6 L368.6 576.9 L368.6 576.9 L368.6 575.9 L368.7 576.0 L368.7 574.6 L368.7 574.2 L368.8 573.5 L368.8 572.8 L368.8 572.5 L368.9 571.8 L368.9 571.5 L368.9 570.9 L368.9 569.8 L369.0 569.4 L369.1 568.4 L369.2 568.1 L369.4 567.2 L369.5 566.6 L369.6 566.3 L369.7 566.0 L369.9 564.6 L370.0 564.0 L370.1 564.7 L370.2 563.4 L370.4 562.2 L370.5 561.7 L370.6 561.1 L370.8 560.5 L370.9 560.5 L371.1 559.6 L371.2 558.7 L371.4 557.8 L371.5 557.6 L371.7 556.6 L371.8 556.1 L372.0 555.6 L372.1 555.0 L372.3 554.3 L372.4 553.9 L372.6 552.9 L372.8 552.3 L372.9 553.4 L373.1 551.5 L373.3 550.2 L373.6 551.5 L373.9 550.3 L374.1 549.4 L374.4 549.3 L374.7 549.1 L375.0 547.3 L375.2 547.3 L375.5 546.8 L375.8 546.4 L376.1 546.1 L376.3 546.1 L376.6 545.4 L376.9 543.4 L377.1 543.5 L377.4 543.6 L377.7 543.1 L378.0 541.6 L378.2 541.4 L378.5 540.4 L378.8 539.7 L379.0 540.8 L379.2 537.9 L379.4 538.1 L379.7 538.0 L379.9 536.7 L380.1 535.3 L380.3 535.6 L380.6 534.9 L380.8 534.6 L381.0 533.7 L381.2 533.8 L381.5 534.2 L381.7 531.8 L382.0 534.0 L382.2 530.4 L382.4 532.3 L382.7 531.2 L382.9 530.3 L383.2 528.9 L383.4 529.0 L383.7 527.5 L384.0 526.4 L384.4 528.8 L384.8 527.9 L385.1 525.0 L385.5 527.3 L385.9 526.9 L386.2 525.0 L386.6 524.8 L386.9 522.5 L387.4 521.3 L387.9 522.4 L388.3 520.8 L388.8 520.9 L389.3 521.2 L389.7 519.1 L390.2 519.1 L390.6 519.7 L390.9 520.7 L391.3 519.7 L391.7 518.0 L392.0 518.1 L392.4 515.9 L392.7 516.7 L393.1 514.6 L393.5 514.8 L394.1 515.8 L394.7 516.4 L395.3 515.4 L395.9 516.7 L396.1 514.2 L396.2 516.8 L396.4 515.4 L396.5 514.4 L396.7 514.2 L396.8 512.3 L397.0 513.8 L397.1 511.3 L397.3 512.7 L397.4 512.0 L397.6 510.2 L397.9 509.0 L398.2 508.5 L398.5 506.8 L398.9 509.5 L399.2 505.9 L399.5 505.7 L399.8 505.3 L400.2 505.7 L400.5 506.2 L400.8 504.1 L401.2 503.4 L401.5 505.7 L401.9 502.8 L402.3 502.7 L402.6 500.6 L403.0 503.8 L403.4 502.7 L403.7 502.9 L404.1 498.9 L404.5 501.9 L404.9 499.6 L405.3 498.0 L405.7 499.3 L406.1 495.9 L406.5 496.5 L406.7 493.7 L406.9 495.5 L407.1 496.3 L407.3 495.0 L407.6 493.2 L407.8 495.4 L408.0 491.4 L408.2 492.0 L408.6 489.2 L409.0 491.5 L409.4 491.3 L409.9 491.9 L410.3 490.2 L410.7 490.0 L411.2 489.6 L411.6 489.2 L412.0 486.1 L412.4 487.4 L412.9 486.3 L413.3 487.0 L413.7 485.3 L414.1 483.2 L414.5 483.5 L414.9 483.5 L415.5 484.2 L416.1 482.3 L416.7 482.4 L417.3 482.4 L417.7 483.9 L418.0 482.5 L418.4 483.3 L418.4 485.4 L418.4 486.4 L418.5 485.3 L418.5 487.7 L418.5 485.5 L418.5 488.9 L418.6 490.1 L418.6 489.5 L418.6 488.6 L418.6 490.4 L418.7 490.5 L418.7 493.4 L418.7 490.9 L418.7 492.5 L418.8 495.3 L418.8 493.4 L418.8 493.3 L418.8 494.4 L418.9 497.3 L418.9 498.5 L418.9 495.8 L419.0 495.2 L419.0 496.8 L419.0 497.0 L419.0 494.7 L419.1 498.3 L419.1 496.8 L419.1 493.8 L419.1 493.2 L419.2 492.8 L419.2 490.8 L419.2 494.3 L419.2 491.2 L419.3 491.2 L419.3 489.9 L419.3 490.0 L419.3 488.4 L419.4 488.1 L419.4 487.0 L419.4 486.1 L419.4 487.6 L419.5 486.0 L419.5 485.1 L419.5 486.8 L419.6 485.8 L419.6 483.6 L419.7 483.5 L419.9 483.6 L420.0 482.7 L420.2 481.2 L420.3 480.3 L420.5 480.5 L420.6 479.1 L421.2 478.3 L421.8 478.6 L422.4 481.2 L423.1 477.4 L423.7 477.5 L424.3 475.3 L424.9 475.9 L425.5 475.9 L426.1 476.1 L426.7 477.3 L427.3 479.4 L428.0 478.3 L428.6 478.8 L429.2 478.5 L429.8 476.3 L430.4 477.2 L431.0 478.2 L431.6 478.7 L432.2 479.8 L432.9 476.5 L433.0 474.8 L433.2 474.0 L433.4 472.9 L433.6 475.3 L433.8 475.4 L433.9 471.2 L434.1 473.8 L434.3 470.6 L434.5 470.4 L434.9 470.5 L435.4 472.5 L435.8 471.8 L435.9 473.9 L435.9 474.5 L435.9 475.1 L436.0 475.9 L436.0 474.8 L436.0 475.6 L436.0 477.9 L436.1 477.5 L436.1 478.2 L436.1 480.3 L436.2 477.1 L436.2 478.2 L436.2 483.2 L436.2 480.1 L436.3 483.9 L436.3 485.1 L436.3 482.3 L436.4 483.0 L436.4 483.8 L436.4 484.3 L436.4 485.2 L436.5 484.6 L436.5 484.3 L436.5 485.1 L436.6 481.4 L436.6 481.9 L436.6 482.0 L436.6 483.7 L436.7 479.6 L436.7 479.9 L436.7 479.8 L436.8 478.1 L436.8 476.9 L436.8 478.8 L436.8 478.4 L436.9 477.4 L436.9 475.3 L436.9 472.8 L437.0 472.9 L437.0 475.1 L437.0 473.5 L437.0 472.4 L437.3 471.0 L437.6 472.1 L437.8 469.9 L438.1 469.1 L438.4 470.3 L438.8 469.1 L439.2 467.3 L439.6 468.9 L439.9 468.6 L440.3 469.2 L440.7 466.7 L441.0 465.3 L441.4 465.0 L441.8 463.9 L442.2 463.0 L442.7 463.6 L443.1 463.5 L443.5 462.7 L444.0 461.1 L444.6 460.8 L445.1 461.6 L445.6 463.2 L446.2 459.6 L446.7 461.0 L447.3 458.2 L447.8 461.6 L448.4 459.2 L448.9 461.6 L449.5 460.7 L450.0 458.9 L450.4 457.7 L450.8 455.9 L451.2 457.4 L451.6 454.5 L452.0 455.2 L452.4 454.9 L453.1 453.9 L453.8 454.0 L454.4 456.0 L455.1 453.9 L455.7 454.0 L456.3 455.3 L456.8 453.6 L457.3 453.3 L457.9 455.0 L458.4 452.9 L459.0 452.9 L459.6 452.3 L460.3 452.6 L460.9 451.9 L461.6 452.7 L462.2 451.8 L462.8 452.0 L463.3 451.6 L463.9 450.9 L464.4 453.1 L465.0 453.9 L465.5 450.4 L466.2 451.0 L466.8 452.4 L467.5 451.3 L468.1 453.5 L468.8 450.5 L469.4 451.5 L470.1 450.4 L470.7 449.8 L471.4 452.5 L472.0 450.5 L472.7 452.3 L473.3 453.3 L474.0 451.6 L474.7 452.2 L475.3 450.3 L475.9 452.1 L476.4 448.3 L476.9 447.8 L477.5 449.3 L478.0 448.6 L478.6 448.3 L479.2 448.1 L479.9 450.6 L480.5 449.7 L481.2 447.6 L481.8 447.4 L482.5 446.7 L483.1 447.3 L483.7 448.2 L483.8 447.2 L483.8 448.8 L483.9 449.3 L484.0 453.1 L484.0 453.1 L484.1 451.3 L484.2 450.5 L484.2 452.1 L484.3 453.5 L484.4 452.5 L484.4 450.8 L484.5 451.3 L484.6 450.1 L484.6 451.3 L484.7 448.0 L484.8 448.0 L484.8 450.2 L484.9 447.4 L485.3 448.7 L485.8 446.4 L486.3 444.6 L486.7 446.5 L487.3 446.8 L487.8 446.7 L488.4 446.0 L488.9 444.0 L489.5 445.9 L490.0 443.8 L490.7 446.4 L491.3 444.6 L492.0 446.1 L492.6 444.9 L493.3 445.1 L493.9 446.6 L494.6 444.9 L495.2 445.2 L495.9 444.2 L496.5 444.2 L497.2 446.8 L497.8 445.1 L498.5 444.7 L499.1 444.7 L499.8 445.7 L500.4 444.7 L501.1 444.3 L501.8 446.2 L502.4 445.1 L503.1 447.0 L503.7 446.1 L504.4 448.8 L505.0 445.8 L505.7 446.3 L506.3 447.1 L506.9 447.9 L507.4 447.6 L508.0 444.9 L508.5 445.2 L509.0 447.2 L509.6 445.7 L510.1 445.5 L510.5 446.9 L511.0 445.8 L511.4 446.5 L511.5 449.2 L511.6 450.2 L511.7 448.2 L511.8 452.0 L511.9 450.7 L512.0 450.9 L512.1 449.7 L512.2 447.6 L512.3 450.5 L512.4 449.2 L512.5 449.1 L512.6 447.0 L512.9 446.1 L513.1 444.9 L513.3 443.5 L513.6 443.5 L513.8 444.3 L514.0 443.0 L514.3 442.0 L514.5 442.7 L515.0 444.4 L515.5 442.9 L516.0 439.0 L516.4 438.3 L516.9 438.8 L517.3 439.0 L517.8 439.0 L518.2 436.7 L518.6 436.6 L519.0 437.5 L519.4 435.6 L520.0 435.4 L520.7 435.7 L521.3 435.5 L522.0 436.3 L522.7 435.0 L523.2 436.3 L523.7 434.2 L524.3 436.5 L524.8 433.0 L525.4 436.7 L525.9 433.4 L526.6 434.4 L527.2 433.8 L527.9 434.1 L528.5 434.0 L529.2 435.1 L529.7 433.0 L530.3 435.4 L530.8 432.0 L531.4 433.3 L531.9 434.2 L532.4 433.5 L532.9 435.8 L533.4 433.6 L533.8 434.5 L534.3 434.2 L534.8 433.7 L535.2 435.1 L535.7 436.8 L536.1 438.4 L536.4 435.5 L536.8 437.3 L537.1 438.5 L537.5 439.4 L537.8 441.0 L538.2 440.0 L538.4 439.4 L538.7 440.7 L538.9 442.6 L539.1 445.1 L539.4 442.9 L539.6 444.7 L539.9 445.1 L540.1 445.3 L540.4 447.5 L540.6 446.5 L541.2 445.8 L541.8 450.0 L542.4 446.9 L543.1 447.9 L543.4 447.4 L543.8 450.4 L544.1 448.1 L544.5 448.0 L544.8 449.5 L545.2 450.9 L545.5 451.7 L545.7 450.8 L545.8 452.8 L546.0 452.8 L546.2 454.7 L546.3 454.1 L546.5 458.7 L546.7 455.1 L546.8 456.0 L547.0 456.5 L547.1 458.2 L547.3 457.8 L547.5 460.5 L547.6 460.4 L547.8 462.1 L548.0 460.7 L548.1 461.3 L548.3 461.4 L548.4 458.5 L548.6 459.6 L548.7 457.5 L548.8 455.9 L549.0 459.4 L549.1 458.5 L549.3 455.1 L549.4 454.1 L549.6 454.8 L549.8 452.2 L550.1 454.2 L550.3 450.5 L550.5 452.9 L550.8 451.3 L551.0 450.2 L551.2 449.9 L551.8 449.7 L552.5 448.9 L553.1 450.0 L553.1 451.3 L553.1 449.6 L553.2 453.4 L553.2 450.2 L553.3 453.9 L553.3 451.5 L553.3 453.8 L553.4 452.9 L553.4 456.0 L553.4 454.9 L553.5 454.9 L553.5 456.1 L553.6 459.1 L553.6 457.4 L553.6 458.5 L553.7 458.9 L553.7 457.1 L553.7 458.7 L553.8 456.0 L553.8 456.3 L553.9 457.0 L553.9 456.6 L553.9 454.4 L554.0 453.6 L554.0 452.5 L554.0 452.2 L554.1 450.9 L554.1 451.0 L554.2 453.7 L554.2 449.4 L554.2 450.8 L554.3 449.8 L554.5 448.3 L554.6 447.4 L554.8 446.6 L555.0 446.3 L555.2 445.3 L555.4 446.9 L555.6 447.0 L555.8 447.7 L555.9 445.8 L556.1 443.4 L556.5 442.2 L556.8 442.6 L557.2 441.5 L557.5 443.7 L557.9 440.7 L558.2 440.5 L558.6 440.0 L559.1 441.2 L559.7 438.7 L560.2 441.5 L560.7 437.0 L561.3 436.4 L561.8 436.8 L562.2 436.5 L562.7 435.7 L563.1 435.0 L563.5 434.1 L563.9 437.6 L564.3 433.8 L564.7 431.7 L565.1 432.9 L565.7 432.3 L566.3 435.8 L566.9 434.2 L567.6 434.1 L568.0 435.7 L568.5 431.7 L569.0 432.7 L569.5 431.3 L570.0 431.2 L570.5 434.6 L570.9 434.7 L571.4 433.6 L571.9 433.1 L572.3 432.5 L572.8 433.9 L573.3 435.0 L573.9 435.6 L574.6 433.5 L575.3 433.6 L575.9 435.3 L576.0 435.7 L576.1 437.8 L576.1 437.3 L576.2 437.6 L576.2 441.7 L576.3 439.2 L576.4 441.5 L576.4 441.8 L576.5 440.0 L576.5 441.3 L576.6 440.4 L576.7 439.0 L576.7 441.2 L576.8 437.7 L576.8 437.8 L576.9 437.2 L577.0 438.1 L577.0 440.1 L577.1 435.5 L577.1 435.7 L577.7 437.4 L578.2 436.1 L578.7 435.3 L579.3 434.9 L579.8 433.4 L580.3 433.7 L580.7 437.7 L581.2 434.6 L581.7 438.9 L582.1 436.6 L582.6 435.7 L583.1 437.3 L583.7 436.8 L584.4 437.5 L585.0 435.6 L585.7 436.3 L586.3 436.6 L586.9 437.7 L587.4 438.6 L588.0 435.3 L588.5 436.5 L589.0 433.3 L589.6 434.4 L590.1 434.7 L590.7 434.1 L591.2 436.4 L591.8 433.8 L592.3 433.6 L592.9 431.8 L593.4 435.1 L593.9 433.4 L594.5 430.4 L595.0 431.1 L595.6 430.7 L596.1 429.5 L596.7 428.4 L597.2 431.2 L597.8 428.7" fill="none" stroke="#6f6f6f" stroke-width="2.3" stroke-linejoin="round" clip-path="url(#cbl)"/>
<path d="M84.9 422.1 C86.8 422.5 92.8 423.7 96.3 424.3 C99.9 424.8 103.4 424.9 106.1 425.4 C108.8 425.9 110.5 425.8 112.7 427.0 C114.8 428.3 117.3 431.1 119.2 432.8 C121.1 434.4 122.4 436.3 124.1 436.8 C125.7 437.4 127.3 437.2 129.0 436.0 C130.6 434.8 132.2 431.0 133.9 429.5 C135.5 428.0 136.9 427.2 138.8 427.0 C140.7 426.9 142.9 427.9 145.3 428.3 C147.8 428.8 150.7 428.9 153.5 429.5 C156.2 430.1 158.9 431.1 161.6 431.9 C164.4 432.8 167.1 434.0 169.8 434.7 C172.5 435.4 175.2 435.4 178.0 436.0 C180.7 436.6 183.7 437.5 186.1 438.5 C188.6 439.4 190.7 440.5 192.7 441.7 C194.6 443.0 196.1 444.8 197.6 445.8 C199.0 446.8 200.3 447.9 201.6 447.8 C203.0 447.6 204.2 446.1 205.7 445.0 C207.2 443.9 208.7 441.5 210.6 440.9 C212.5 440.3 215.0 441.0 217.1 441.2 C219.3 441.5 221.5 442.1 223.7 442.6 C225.9 443.0 228.3 443.2 230.2 443.9 C232.1 444.5 233.5 444.2 235.1 446.6 C236.7 449.0 238.6 455.5 240.0 458.3 C241.4 461.0 242.0 461.1 243.3 463.2 C244.5 465.2 246.0 469.8 247.3 470.5 C248.7 471.2 250.1 469.1 251.4 467.2 C252.8 465.3 253.9 460.9 255.5 459.1 C257.1 457.3 259.2 456.2 261.2 456.6 C263.3 457.0 265.3 459.9 267.8 461.5 C270.2 463.2 273.2 464.9 275.9 466.4 C278.6 467.9 281.4 468.6 284.1 470.5 C286.8 472.4 289.5 475.1 292.2 477.9 C295.0 480.6 297.7 483.6 300.4 486.8 C303.1 490.1 305.9 494.0 308.6 497.4 C311.3 500.9 314.3 504.1 316.7 507.2 C319.2 510.4 321.2 512.6 323.3 516.2 C325.3 519.9 327.3 524.9 329.0 529.3 C330.6 533.6 331.7 537.9 333.1 542.3 C334.4 546.8 335.9 551.7 337.1 556.2 C338.4 560.7 339.4 564.9 340.4 569.3 C341.4 573.6 342.6 579.7 343.2 582.3 C343.7 585.0 343.4 582.8 343.7 585.0 C344.0 587.2 344.5 592.0 344.9 595.8 C345.4 599.6 345.8 603.6 346.3 607.6 C346.8 611.5 347.3 615.4 347.9 619.3 C348.4 623.3 348.9 627.4 349.6 631.1 C350.2 634.9 350.9 638.9 351.5 641.9 C352.2 644.9 352.9 647.8 353.5 649.3 C354.0 650.8 354.5 651.5 354.9 650.9 C355.4 650.4 355.9 647.9 356.4 645.8 C356.9 643.8 357.4 642.0 357.9 638.5 C358.4 635.0 358.9 628.7 359.4 624.7 C359.9 620.7 360.3 618.0 360.8 614.4 C361.3 610.9 361.8 607.6 362.3 603.6 C362.8 599.7 363.4 594.0 363.8 590.9 C364.1 587.8 363.7 588.9 364.5 585.0 C365.2 581.1 367.0 573.0 368.2 567.7 C369.3 562.3 370.2 557.9 371.4 553.0 C372.7 548.1 374.0 542.9 375.5 538.3 C377.0 533.6 378.6 529.4 380.4 525.2 C382.2 521.0 384.2 516.5 386.1 513.0 C388.0 509.4 389.8 507.0 391.8 504.0 C393.9 501.0 396.2 497.7 398.4 495.0 C400.5 492.3 403.0 488.8 404.9 487.7 C406.8 486.5 408.6 489.1 410.0 488.3 C411.4 487.4 411.9 484.2 413.3 482.6 C414.6 480.9 416.3 479.6 418.2 478.5 C420.1 477.4 422.5 476.6 424.7 476.0 C426.9 475.5 429.3 476.3 431.2 475.2 C433.1 474.1 434.8 471.4 436.1 469.5 C437.5 467.6 438.0 465.5 439.4 463.8 C440.7 462.0 442.7 460.2 444.3 458.9 C445.9 457.5 447.6 456.6 449.2 455.6 C450.8 454.7 452.4 453.8 454.1 453.2 C455.7 452.5 457.1 452.1 459.0 451.5 C460.9 451.0 463.3 450.4 465.5 449.9 C467.7 449.4 469.9 448.8 472.0 448.3 C474.2 447.7 476.4 447.2 478.6 446.6 C480.7 446.1 482.9 445.4 485.1 445.0 C487.3 444.6 489.5 444.2 491.6 444.2 C493.8 444.2 496.3 444.5 498.2 445.0 C500.1 445.5 501.6 446.8 503.1 447.4 C504.6 448.1 505.8 448.9 507.1 449.1 C508.5 449.2 509.7 449.2 511.2 448.3 C512.7 447.3 514.5 445.1 516.1 443.4 C517.8 441.6 519.4 439.0 521.0 437.7 C522.7 436.3 524.3 435.7 525.9 435.2 C527.6 434.7 529.2 434.4 530.8 434.7 C532.4 435.0 534.1 435.3 535.7 436.8 C537.3 438.4 539.1 441.5 540.6 444.2 C542.1 446.9 543.5 450.6 544.7 453.2 C545.9 455.7 546.9 459.7 548.0 459.7 C549.0 459.7 550.0 455.9 551.2 453.2 C552.4 450.4 553.8 446.1 555.3 443.4 C556.8 440.6 558.6 438.6 560.2 436.8 C561.8 435.1 563.2 433.2 565.1 432.8 C567.0 432.3 569.5 434.0 571.6 434.4 C573.8 434.8 576.0 435.3 578.2 435.2 C580.3 435.1 582.5 434.4 584.7 433.6 C586.9 432.8 589.0 431.3 591.2 430.3 C593.4 429.4 596.7 428.3 597.8 427.9" fill="none" stroke="#14979d" stroke-width="1.70" stroke-dasharray="1.8 5" stroke-linecap="butt" clip-path="url(#cbl)"/>
<path d="M84.9 422.1 C86.8 422.4 92.8 423.3 96.3 423.8 C99.9 424.2 103.4 424.5 106.1 424.9 C108.8 425.3 110.5 425.2 112.7 426.2 C114.8 427.3 117.3 429.8 119.2 431.1 C121.1 432.5 122.4 434.0 124.1 434.4 C125.7 434.8 127.3 434.4 129.0 433.6 C130.6 432.8 132.2 430.4 133.9 429.5 C135.5 428.6 136.9 428.2 138.8 428.2 C140.7 428.2 142.9 429.1 145.3 429.5 C147.8 429.8 150.7 429.8 153.5 430.3 C156.2 430.9 158.9 431.9 161.6 432.8 C164.4 433.6 167.1 434.4 169.8 435.2 C172.5 436.0 175.2 436.7 178.0 437.7 C180.7 438.6 183.7 439.8 186.1 440.9 C188.6 442.0 190.7 443.0 192.7 444.2 C194.6 445.3 196.1 447.0 197.6 447.8 C199.0 448.6 200.0 449.5 201.6 449.1 C203.3 448.6 205.6 445.8 207.3 445.0 C209.1 444.2 210.3 444.0 212.2 444.2 C214.1 444.3 216.3 445.1 218.8 445.8 C221.2 446.5 224.5 447.3 226.9 448.3 C229.4 449.2 231.6 450.3 233.5 451.5 C235.4 452.8 237.3 453.8 238.4 455.6 C239.5 457.4 239.2 460.3 240.0 462.3 C240.8 464.4 242.0 466.3 243.3 468.1 C244.5 469.8 246.0 472.7 247.3 473.0 C248.7 473.2 249.9 470.9 251.4 469.7 C252.9 468.5 254.7 466.4 256.3 465.6 C258.0 464.8 259.3 464.3 261.2 464.8 C263.1 465.3 265.3 467.2 267.8 468.9 C270.2 470.5 273.2 472.6 275.9 474.6 C278.6 476.6 281.4 478.7 284.1 481.1 C286.8 483.6 289.5 486.4 292.2 489.3 C295.0 492.1 297.7 495.1 300.4 498.3 C303.1 501.4 305.9 504.5 308.6 508.1 C311.3 511.6 314.3 515.8 316.7 519.5 C319.2 523.2 321.2 526.4 323.3 530.1 C325.3 533.8 327.2 537.7 329.0 541.5 C330.7 545.3 332.4 549.0 333.9 553.0 C335.4 556.9 336.6 559.9 338.0 565.2 C339.3 570.5 341.2 579.7 342.2 585.0 C343.2 590.3 343.4 592.5 344.0 596.8 C344.5 601.0 345.1 605.9 345.6 610.5 C346.2 615.1 346.8 619.7 347.4 624.2 C348.0 628.8 348.6 633.9 349.4 638.0 C350.1 642.1 351.0 646.4 351.7 648.8 C352.4 651.1 352.9 651.5 353.5 652.2 C354.0 652.9 354.4 653.3 354.9 652.9 C355.5 652.5 356.1 651.6 356.6 649.8 C357.2 647.9 357.6 645.3 358.2 641.9 C358.7 638.5 359.3 633.6 359.9 629.2 C360.4 624.7 361.0 620.0 361.6 615.4 C362.2 610.8 362.9 605.9 363.6 601.7 C364.2 597.4 365.0 592.7 365.5 589.9 C366.1 587.1 365.6 589.0 366.7 585.0 C367.8 581.0 370.5 571.6 372.2 566.0 C374.0 560.4 375.2 556.2 377.1 551.3 C379.0 546.4 381.5 541.3 383.7 536.6 C385.9 532.0 388.0 527.7 390.2 523.6 C392.4 519.5 394.3 516.0 396.7 512.1 C399.2 508.3 402.7 503.6 404.9 500.7 C407.1 497.8 408.1 496.6 410.0 494.8 C411.9 493.0 414.4 491.4 416.5 489.9 C418.7 488.4 420.9 487.0 423.1 485.8 C425.2 484.6 427.4 484.0 429.6 482.6 C431.8 481.1 433.9 478.9 436.1 476.8 C438.3 474.8 440.5 472.2 442.7 470.3 C444.8 468.4 447.0 466.9 449.2 465.4 C451.4 463.9 453.5 462.6 455.7 461.3 C457.9 460.1 460.1 459.1 462.2 458.1 C464.4 457.0 466.6 455.7 468.8 454.8 C471.0 453.8 473.1 453.0 475.3 452.3 C477.5 451.7 479.7 451.3 481.8 450.7 C484.0 450.2 486.2 449.5 488.4 449.1 C490.5 448.7 493.1 448.3 494.9 448.3 C496.7 448.2 497.6 448.3 499.0 448.8 C500.3 449.2 501.6 450.0 503.1 450.7 C504.6 451.4 506.5 452.8 508.0 453.2 C509.5 453.6 510.7 453.8 512.0 453.2 C513.4 452.5 514.6 450.7 516.1 449.1 C517.6 447.4 519.4 444.9 521.0 443.4 C522.7 441.8 524.3 440.4 525.9 439.6 C527.6 438.8 529.2 438.5 530.8 438.5 C532.4 438.5 534.1 438.5 535.7 439.6 C537.3 440.7 539.1 443.0 540.6 445.0 C542.1 447.0 543.5 449.5 544.7 451.5 C545.9 453.6 546.9 457.1 548.0 457.2 C549.0 457.4 550.0 454.5 551.2 452.3 C552.4 450.2 553.8 446.6 555.3 444.2 C556.8 441.7 558.6 439.3 560.2 437.7 C561.8 436.0 563.2 434.8 565.1 434.4 C567.0 434.0 569.5 435.1 571.6 435.2 C573.8 435.3 576.0 435.3 578.2 435.2 C580.3 435.1 582.5 434.9 584.7 434.4 C586.9 433.8 589.0 432.9 591.2 431.9 C593.4 431.0 596.7 429.2 597.8 428.7" fill="none" stroke="#b872fa" stroke-width="1.45" stroke-dasharray="9.4 10.2" stroke-linecap="butt" clip-path="url(#cbl)"/>
<path d="M84.9 422.6 C86.8 423.1 92.8 424.7 96.3 425.4 C99.9 426.1 102.9 426.4 106.1 427.0 C109.4 427.7 113.2 428.4 115.9 429.5 C118.6 430.6 120.5 433.0 122.4 433.6 C124.4 434.1 125.7 433.3 127.3 432.8 C129.0 432.2 130.6 430.9 132.2 430.3 C133.9 429.8 135.0 429.2 137.1 429.5 C139.3 429.8 142.6 431.2 145.3 431.9 C148.0 432.7 150.7 433.4 153.5 434.1 C156.2 434.7 158.9 435.3 161.6 436.0 C164.4 436.8 167.1 437.7 169.8 438.5 C172.5 439.3 175.2 440.0 178.0 440.9 C180.7 441.9 183.7 443.0 186.1 444.2 C188.6 445.3 190.7 446.7 192.7 447.8 C194.6 448.8 195.6 449.9 197.6 450.4 C199.5 450.9 201.9 450.8 204.1 450.7 C206.3 450.6 208.2 449.6 210.6 449.9 C213.1 450.2 216.1 451.4 218.8 452.3 C221.5 453.3 224.5 454.5 226.9 455.6 C229.4 456.7 231.6 457.7 233.5 458.9 C235.4 460.1 237.3 461.4 238.4 463.0 C239.5 464.5 239.2 466.3 240.0 468.1 C240.8 469.9 242.0 472.3 243.3 473.8 C244.5 475.3 246.0 476.9 247.3 477.0 C248.7 477.2 249.9 475.4 251.4 474.6 C252.9 473.8 254.7 472.4 256.3 472.1 C258.0 471.9 259.3 471.7 261.2 473.0 C263.1 474.2 265.3 477.3 267.8 479.5 C270.2 481.7 273.2 483.8 275.9 486.0 C278.6 488.2 281.4 490.2 284.1 492.6 C286.8 494.9 289.5 497.0 292.2 499.9 C295.0 502.8 297.7 506.3 300.4 509.7 C303.1 513.1 305.9 516.6 308.6 520.3 C311.3 524.0 314.3 527.8 316.7 531.7 C319.2 535.7 321.2 540.2 323.3 544.0 C325.3 547.8 327.2 550.9 329.0 554.6 C330.7 558.3 332.4 562.2 333.9 566.0 C335.4 569.8 336.5 574.3 338.0 577.4 C339.4 580.6 341.6 581.8 342.7 585.0 C343.7 588.2 343.7 592.7 344.2 596.8 C344.6 600.9 345.1 605.0 345.6 609.5 C346.1 614.1 346.7 619.5 347.3 624.2 C347.9 629.0 348.4 633.6 349.1 638.0 C349.8 642.4 350.8 648.0 351.5 650.7 C352.2 653.5 352.9 653.8 353.5 654.7 C354.0 655.5 354.4 656.0 354.9 655.6 C355.5 655.3 356.1 654.5 356.7 652.7 C357.3 650.9 357.8 648.3 358.4 644.9 C358.9 641.4 359.5 636.7 360.0 632.1 C360.6 627.5 361.2 622.3 361.8 617.4 C362.4 612.5 363.1 607.1 363.8 602.7 C364.4 598.2 365.2 593.8 365.7 590.9 C366.3 587.9 366.1 587.8 367.2 585.0 C368.3 582.2 370.6 578.2 372.2 574.2 C373.9 570.2 375.2 565.7 377.1 561.1 C379.0 556.5 381.5 550.8 383.7 546.4 C385.9 542.1 388.0 538.5 390.2 535.0 C392.4 531.5 394.3 528.7 396.7 525.2 C399.2 521.7 402.7 516.5 404.9 513.8 C407.1 511.0 408.1 510.7 410.0 508.7 C411.9 506.6 414.4 503.4 416.5 501.3 C418.7 499.3 420.9 498.1 423.1 496.4 C425.2 494.8 427.4 493.4 429.6 491.5 C431.8 489.6 433.9 487.2 436.1 485.0 C438.3 482.8 440.5 480.4 442.7 478.5 C444.8 476.6 447.0 475.1 449.2 473.6 C451.4 472.1 453.5 470.7 455.7 469.5 C457.9 468.3 460.1 467.3 462.2 466.2 C464.4 465.1 466.6 464.0 468.8 463.0 C471.0 462.0 473.1 461.0 475.3 460.2 C477.5 459.4 479.7 458.8 481.8 458.1 C484.0 457.4 486.2 456.6 488.4 455.9 C490.5 455.3 493.1 454.3 494.9 454.0 C496.7 453.7 497.6 453.6 499.0 454.0 C500.3 454.4 501.6 455.7 503.1 456.4 C504.6 457.1 506.3 457.9 508.0 458.1 C509.6 458.2 511.2 458.2 512.9 457.2 C514.5 456.3 516.1 454.0 517.8 452.3 C519.4 450.7 521.0 448.8 522.7 447.4 C524.3 446.1 525.9 444.9 527.6 444.2 C529.2 443.5 530.8 443.4 532.4 443.4 C534.1 443.4 535.7 443.5 537.3 444.2 C539.0 444.9 540.6 446.5 542.2 447.4 C543.9 448.4 545.8 449.8 547.1 449.9 C548.5 450.0 549.2 449.4 550.4 448.3 C551.6 447.2 552.9 445.0 554.5 443.4 C556.1 441.7 558.2 439.7 560.2 438.5 C562.2 437.2 564.6 436.4 566.7 436.0 C568.9 435.6 571.1 436.0 573.3 436.0 C575.4 436.0 577.6 436.2 579.8 436.0 C582.0 435.9 584.1 435.6 586.3 435.2 C588.5 434.8 591.0 434.1 592.9 433.6 C594.8 433.0 596.9 432.2 597.8 431.9" fill="none" stroke="#dbc928" stroke-width="1.45" stroke-dasharray="10.2 5.3 2 5.3" stroke-linecap="butt" clip-path="url(#cbl)"/>
<path d="M691.6 513.1 L691.6 514.6 L691.7 513.6 L691.7 510.2 L691.8 512.7 L691.8 512.7 L691.9 509.2 L691.9 508.9 L692.0 506.4 L692.0 506.5 L692.1 508.6 L692.1 508.2 L692.2 506.4 L692.2 503.0 L692.2 503.3 L692.3 507.0 L692.3 502.2 L692.4 502.7 L692.4 500.6 L692.5 502.7 L692.5 502.7 L692.6 499.6 L692.7 497.9 L692.8 498.3 L692.9 496.7 L693.1 497.1 L693.2 498.1 L693.3 495.9 L693.4 497.2 L693.6 498.8 L693.7 496.1 L693.8 492.2 L693.9 492.9 L694.0 490.5 L694.2 490.6 L694.3 490.4 L694.4 494.0 L694.5 489.9 L694.6 491.0 L694.6 490.1 L694.7 494.0 L694.7 490.6 L694.8 492.1 L694.8 494.6 L694.9 493.8 L694.9 495.3 L695.0 495.0 L695.0 494.6 L695.1 498.4 L695.1 496.0 L695.2 499.9 L695.2 498.4 L695.3 499.9 L695.3 499.8 L695.4 498.6 L695.4 500.1 L695.4 504.0 L695.5 504.0 L695.5 503.7 L695.6 502.6 L695.6 502.8 L695.7 504.3 L695.7 508.6 L695.8 507.8 L695.8 506.3 L695.9 505.9 L696.0 505.0 L696.1 504.2 L696.3 506.3 L696.4 503.6 L696.5 501.6 L696.6 504.3 L696.7 501.3 L696.8 502.6 L696.9 501.5 L697.0 499.7 L697.1 500.2 L697.2 502.6 L697.3 500.9 L697.4 503.1 L697.5 502.0 L697.6 502.9 L697.7 504.2 L697.8 505.8 L697.9 505.1 L698.0 507.6 L698.1 506.2 L698.2 509.2 L698.3 511.6 L698.4 508.6 L698.5 507.9 L698.6 510.1 L698.7 510.2 L698.9 510.0 L699.0 509.1 L699.1 508.0 L699.2 507.4 L699.4 506.8 L699.5 503.6 L699.6 504.6 L699.7 503.3 L699.9 504.5 L700.0 502.8 L700.1 500.5 L700.2 501.2 L700.7 499.8 L701.2 500.6 L701.7 500.6 L702.2 498.6 L702.7 498.6 L702.8 498.0 L702.9 496.5 L703.1 496.8 L703.2 497.5 L703.3 496.4 L703.4 496.1 L703.6 496.2 L703.7 495.8 L703.8 493.2 L703.9 493.5 L704.0 496.0 L704.2 492.4 L704.3 494.4 L704.4 489.7 L704.5 490.8 L704.7 490.3 L704.8 488.5 L704.9 487.3 L705.0 489.7 L705.1 487.7 L705.6 486.9 L706.0 487.5 L706.4 485.1 L706.8 486.5 L707.2 483.8 L707.6 483.2 L707.9 482.9 L708.3 484.3 L708.6 480.9 L709.0 480.4 L709.3 482.4 L709.7 479.3 L710.0 480.2 L710.5 479.5 L711.0 479.3 L711.5 479.8 L712.0 479.0 L712.5 477.0 L712.9 477.3 L713.3 478.3 L713.7 480.0 L714.1 478.9 L714.2 480.0 L714.2 482.3 L714.3 479.7 L714.3 481.9 L714.4 483.6 L714.4 483.2 L714.4 483.6 L714.5 486.7 L714.5 484.3 L714.6 484.1 L714.6 487.1 L714.7 486.2 L714.7 490.3 L714.8 488.1 L714.8 488.8 L714.9 488.5 L714.9 492.3 L715.0 489.6 L715.0 492.7 L715.1 490.3 L715.1 496.3 L715.1 494.6 L715.2 495.7 L715.2 495.4 L715.3 496.3 L715.3 494.6 L715.4 495.2 L715.4 496.4 L715.5 497.0 L715.6 494.5 L715.7 493.0 L715.7 494.7 L715.8 496.2 L715.9 492.8 L716.0 492.7 L716.1 493.8 L716.1 489.8 L716.2 489.6 L716.3 489.9 L716.4 489.5 L716.4 488.1 L716.5 487.2 L716.6 487.5 L716.7 486.1 L716.8 487.7 L716.8 486.6 L716.9 483.7 L717.0 482.7 L717.1 483.6 L717.3 485.6 L717.6 484.2 L717.8 483.9 L718.1 484.3 L718.3 488.9 L718.6 486.1 L718.8 490.2 L719.1 490.6 L719.3 489.6 L719.6 488.8 L719.8 490.2 L720.2 489.2 L720.7 490.7 L721.1 489.8 L721.5 489.3 L721.9 487.9 L722.3 487.0 L722.3 485.7 L722.4 486.8 L722.5 490.2 L722.5 491.4 L722.6 489.8 L722.6 491.1 L722.7 491.0 L722.8 490.5 L722.8 492.1 L722.9 495.5 L723.0 492.8 L723.0 493.1 L723.1 494.2 L723.1 493.4 L723.2 495.4 L723.3 497.6 L723.3 497.1 L723.4 496.7 L723.4 497.8 L723.5 500.5 L723.6 498.3 L723.6 499.1 L723.7 500.4 L723.7 501.0 L723.8 502.0 L723.9 503.9 L723.9 502.7 L724.2 504.0 L724.5 502.7 L724.8 505.3 L725.0 499.4 L725.3 500.0 L725.6 500.2 L725.9 499.0 L726.0 496.8 L726.0 499.4 L726.1 500.6 L726.2 495.6 L726.3 495.7 L726.4 494.9 L726.4 494.0 L726.5 492.2 L726.6 493.0 L726.7 492.9 L726.8 491.2 L726.9 491.0 L726.9 493.0 L727.0 492.8 L727.1 488.9 L727.2 489.4 L727.3 488.5 L727.3 489.8 L727.4 487.1 L727.5 487.3 L727.6 486.4 L727.8 486.7 L727.9 490.4 L728.0 487.8 L728.2 488.9 L728.3 490.4 L728.4 490.1 L728.6 493.4 L728.7 491.5 L728.8 492.5 L729.0 493.4 L729.1 495.3 L729.2 496.8 L729.4 496.6 L729.5 495.9 L729.6 496.9 L729.7 497.3 L729.8 494.7 L729.8 494.4 L729.9 492.6 L730.0 493.0 L730.0 492.1 L730.1 493.5 L730.2 489.8 L730.2 490.2 L730.3 493.3 L730.4 490.7 L730.4 489.2 L730.5 488.0 L730.6 488.7 L730.7 489.2 L730.7 487.1 L730.8 487.2 L730.9 488.4 L730.9 484.0 L731.0 486.1 L731.1 483.7 L731.1 485.2 L731.2 482.9 L731.3 482.0 L731.4 482.8 L731.6 478.8 L731.8 479.2 L732.0 479.6 L732.1 478.8 L732.3 477.7 L732.5 478.3 L732.7 478.8 L732.8 476.3 L733.0 479.3 L733.2 477.2 L733.4 474.7 L733.5 475.6 L733.7 473.1 L733.8 472.0 L733.9 475.1 L734.0 473.6 L734.1 472.7 L734.1 471.6 L734.2 469.7 L734.3 469.7 L734.4 468.3 L734.5 467.6 L734.6 467.4 L734.7 467.2 L734.7 466.2 L734.8 468.4 L734.9 466.4 L735.0 465.1 L735.1 463.9 L735.2 464.3 L735.3 462.1 L735.3 461.9 L736.0 462.5 L736.6 462.7 L737.2 463.6 L737.8 461.1 L738.0 461.5 L738.2 462.8 L738.5 460.3 L738.7 459.5 L738.9 457.2 L739.1 459.5 L739.4 458.5 L739.6 455.6 L739.8 455.1 L740.0 456.0 L740.2 454.6 L740.4 453.2 L740.5 453.8 L740.7 453.5 L740.8 454.2 L741.0 450.7 L741.1 451.6 L741.3 449.2 L741.4 451.1 L741.6 447.9 L741.7 450.6 L741.9 447.8 L742.2 448.2 L742.6 451.0 L742.9 448.9 L743.3 453.0 L743.6 448.8 L744.0 451.5 L744.3 451.3 L744.6 452.9 L744.8 454.1 L745.0 452.7 L745.3 456.7 L745.5 454.1 L745.7 456.4 L746.0 455.5 L746.6 457.6 L747.2 455.3 L747.8 455.7 L748.4 457.1 L748.5 456.8 L748.6 460.3 L748.6 461.0 L748.7 463.2 L748.8 461.6 L748.9 459.6 L749.0 460.3 L749.0 462.3 L749.1 464.2 L749.2 462.7 L749.3 464.6 L749.3 464.1 L749.4 465.3 L749.5 466.2 L749.6 470.1 L749.7 468.9 L749.7 467.3 L749.8 468.7 L749.9 471.1 L750.0 469.6 L750.0 470.4 L750.2 471.2 L750.3 468.8 L750.4 470.0 L750.5 467.0 L750.7 466.7 L750.8 465.5 L750.9 465.4 L751.0 467.4 L751.2 464.5 L751.3 463.2 L751.4 466.2 L751.5 464.3 L751.7 461.8 L752.0 462.9 L752.4 463.7 L752.7 462.9 L753.1 464.7 L753.4 464.0 L753.8 468.3 L754.1 466.3 L754.2 466.8 L754.3 467.6 L754.4 470.3 L754.5 470.0 L754.6 468.0 L754.7 469.9 L754.8 473.2 L754.9 470.9 L755.0 473.8 L755.1 471.4 L755.2 472.9 L755.3 474.6 L755.4 473.0 L755.5 472.6 L755.7 473.2 L755.8 470.7 L756.0 469.8 L756.1 473.0 L756.3 468.3 L756.4 471.6 L756.5 469.2 L756.7 466.8 L756.8 470.7 L757.0 465.9 L757.1 465.3 L757.2 465.1 L757.4 464.5 L757.6 468.0 L757.9 464.4 L758.1 467.3 L758.4 466.9 L758.6 468.4 L758.9 467.7 L759.1 468.4 L759.3 471.0 L759.6 470.0 L759.8 469.9 L760.1 469.9 L760.4 470.2 L760.7 468.1 L760.9 467.2 L761.2 467.2 L761.5 466.9 L761.7 467.9 L762.0 466.0 L762.3 466.0 L762.4 468.6 L762.4 463.7 L762.5 466.9 L762.6 462.9 L762.7 462.6 L762.8 464.0 L762.9 461.5 L762.9 459.5 L763.0 459.8 L763.1 458.8 L763.3 456.7 L763.5 457.4 L763.8 460.0 L764.0 456.0 L764.2 457.6 L764.4 457.1 L764.7 454.7 L764.9 453.6 L765.1 455.3 L765.3 455.8 L765.6 452.0 L765.7 453.0 L765.9 449.3 L766.1 452.0 L766.3 453.1 L766.4 450.4 L766.6 450.1 L766.8 449.2 L767.0 451.1 L767.1 446.1 L767.3 445.1 L767.5 446.1 L767.7 447.8 L767.8 443.9 L768.0 445.0 L768.1 445.3 L768.3 442.4 L768.4 443.6 L768.5 443.6 L768.6 440.3 L768.8 439.8 L768.9 439.0 L769.0 439.1 L769.2 438.9 L769.3 439.4 L769.4 437.1 L769.5 438.0 L769.7 437.2 L769.8 434.9 L769.9 435.5 L770.1 436.4 L770.2 434.9 L770.3 435.5 L770.4 432.6 L770.6 431.8 L770.8 434.1 L771.0 431.9 L771.1 433.9 L771.3 431.5 L771.5 428.5 L771.7 430.4 L771.8 426.4 L772.0 427.5 L772.2 428.5 L772.4 426.4 L772.5 424.3 L772.7 426.4 L772.9 425.5 L773.0 423.6 L773.1 426.4 L773.2 424.5 L773.2 421.5 L773.3 420.7 L773.4 421.7 L773.5 419.9 L773.6 423.3 L773.7 419.4 L773.8 420.8 L773.9 418.6 L773.9 419.6 L774.0 416.9 L774.1 416.9 L774.2 415.6 L774.6 416.5 L775.0 416.6 L775.4 419.5 L775.8 419.0 L776.2 417.7 L776.4 420.6 L776.6 419.3 L776.9 420.4 L777.1 420.0 L777.3 420.8 L777.6 423.0 L777.8 421.8 L778.0 424.1 L778.3 421.7 L778.5 422.8 L778.8 423.8 L779.0 426.1 L779.3 424.8 L779.5 425.5 L779.8 426.3 L780.0 426.2 L780.2 427.6 L780.4 428.4 L780.5 429.9 L780.6 432.8 L780.8 430.1 L780.9 433.9 L781.0 431.8 L781.1 435.8 L781.3 434.1 L781.4 434.2 L782.1 436.4 L782.8 436.1 L783.5 434.4 L783.7 436.2 L783.8 436.7 L784.0 437.5 L784.1 439.1 L784.3 437.7 L784.4 440.1 L784.6 441.5 L784.7 439.7 L784.9 438.8 L785.0 444.0 L785.2 440.4 L785.3 442.7 L785.5 443.5 L785.7 442.2 L785.8 444.5 L786.0 444.5 L786.1 444.9 L786.2 446.8 L786.3 446.8 L786.4 446.7 L786.5 446.0 L786.6 450.3 L786.7 446.6 L786.8 451.1 L787.0 449.7 L787.1 451.5 L787.2 451.2 L787.3 453.3 L787.4 453.0 L787.5 453.4 L787.6 455.0 L787.7 452.0 L787.9 457.6 L788.0 453.9 L788.1 454.7 L788.2 454.9 L788.3 455.8 L788.4 457.1 L788.5 457.7 L788.6 461.9 L788.7 460.5 L788.9 459.7 L789.0 460.1 L789.1 461.0 L789.2 463.0 L789.3 463.4 L789.4 465.6 L789.5 464.7 L789.6 464.9 L789.7 466.7 L789.9 465.1 L790.0 465.3 L790.1 467.5 L790.2 466.4 L790.3 469.2 L790.4 467.2 L790.5 468.3 L790.6 468.4 L790.7 469.2 L790.9 469.8 L791.1 471.6 L791.3 473.5 L791.5 475.5 L791.7 471.4 L792.0 472.5 L792.2 475.1 L792.4 475.9 L792.6 477.2 L792.9 476.2 L793.1 476.4 L793.3 477.5 L793.5 477.0 L793.7 477.4 L793.9 478.2 L794.1 480.3 L794.3 481.2 L794.5 480.1 L794.7 482.9 L794.9 482.2 L795.1 482.8 L795.2 484.3 L795.3 485.0 L795.4 484.6 L795.6 485.0 L795.7 485.3 L795.8 485.2 L795.9 486.3 L796.1 486.4 L796.2 490.6 L796.3 487.8 L796.4 492.8 L796.6 489.8 L797.0 490.4 L797.4 487.5 L797.8 488.1 L798.2 487.8 L798.6 486.0 L799.0 486.5 L799.5 487.6 L800.0 485.8 L800.5 487.1 L801.0 485.1 L801.2 486.4 L801.5 486.2 L801.8 486.9 L802.0 487.2 L802.3 488.8 L802.6 488.2 L802.8 491.4 L803.1 489.6 L803.2 492.6 L803.2 487.9 L803.3 487.8 L803.4 486.7 L803.4 486.2 L803.5 487.2 L803.6 488.2 L803.6 486.1 L803.7 484.0 L803.8 483.6 L803.9 481.9 L803.9 482.4 L804.0 485.5 L804.1 481.2 L804.1 484.4 L804.2 481.8 L804.3 479.7 L804.3 478.4 L804.4 480.4 L804.5 477.3 L804.5 477.2 L804.6 476.6 L804.7 474.4 L804.7 475.6 L805.0 475.0 L805.3 474.5 L805.6 475.3 L805.8 472.9 L806.1 471.3 L806.4 471.3 L806.6 471.2 L806.9 469.6 L807.2 471.3 L807.4 469.4 L807.6 467.5 L807.9 467.4 L808.1 467.6 L808.3 465.9 L808.5 469.8 L808.7 469.2 L809.0 467.5 L809.2 464.2 L809.4 463.0 L809.6 464.1 L809.9 462.0 L810.2 465.3 L810.4 463.7 L810.7 463.5 L811.0 461.1 L811.3 459.8 L811.5 459.7 L811.8 458.1 L812.1 458.8 L812.2 460.2 L812.3 459.9 L812.4 457.9 L812.5 456.5 L812.6 457.1 L812.7 457.2 L812.9 453.4 L813.0 454.9 L813.1 452.3 L813.2 452.3 L813.3 453.3 L813.4 451.4 L813.5 450.2 L813.6 449.9 L813.8 451.4 L813.9 449.6 L814.0 449.8 L814.1 446.9 L814.2 447.8 L814.3 446.0 L814.4 446.4 L814.5 446.0 L815.0 445.2 L815.5 445.7 L816.0 444.1 L816.5 444.1 L817.0 443.8 L817.2 444.1 L817.4 443.6 L817.7 448.8 L817.9 446.0 L818.1 445.1 L818.4 446.3 L818.6 448.4 L818.7 447.9 L818.9 449.9 L819.0 448.7 L819.1 451.7 L819.3 450.3 L819.4 451.3 L819.5 452.9 L819.6 452.5 L819.8 455.2 L819.9 454.6 L820.0 454.4 L820.2 454.5 L820.3 455.2 L820.4 456.7 L820.5 459.0 L820.7 458.5 L820.8 457.3 L820.9 459.5 L821.1 459.4 L821.2 459.8 L821.4 461.7 L821.5 460.9 L821.7 461.5 L821.8 464.7 L822.0 464.5 L822.1 462.0 L822.3 464.7 L822.4 466.6 L822.6 464.6 L822.7 466.5 L822.9 469.4 L823.1 469.6 L823.2 467.5 L823.4 470.9 L823.5 468.6 L823.7 469.7 L824.0 471.1 L824.2 472.4 L824.4 471.3 L824.6 472.6 L824.8 470.5 L825.1 472.8 L825.3 472.1 L825.5 476.7 L825.7 474.2 L826.0 475.1 L826.2 476.6 L826.4 476.6 L826.6 476.6 L826.8 475.9 L827.1 477.4 L827.3 481.1 L827.5 479.2 L827.7 479.7 L828.0 480.8 L828.2 481.6 L828.4 481.5 L828.6 481.7 L828.9 484.2 L829.1 485.7 L829.3 487.8 L829.5 486.6 L829.7 484.0 L830.0 488.8 L830.2 488.3 L830.4 485.9 L830.6 487.8 L830.9 489.2 L831.5 490.1 L832.1 486.9 L832.7 487.2 L833.3 486.7 L833.4 489.2 L833.6 487.5 L833.7 488.2 L833.8 488.1 L833.9 492.3 L834.1 490.8 L834.2 492.0 L834.3 491.4 L834.4 490.7 L834.6 492.8 L834.7 494.7 L834.8 493.7 L834.9 494.9 L835.6 496.6 L836.2 493.7 L836.8 497.3 L837.4 495.5 L837.6 494.7 L837.7 499.3 L837.9 496.7 L838.1 499.8 L838.3 498.0 L838.4 498.7 L838.6 499.5 L838.8 503.6 L839.0 501.4 L839.2 500.4 L839.3 504.0 L839.5 503.7 L839.7 505.1 L839.9 504.8 L840.0 503.9 L840.2 499.5 L840.4 501.4 L840.6 501.1 L840.8 498.7 L840.9 497.4 L841.1 498.0 L841.3 496.8 L841.5 497.1 L841.9 498.0 L842.3 493.8 L842.7 493.6 L843.1 495.9 L843.5 494.4 L843.9 493.5 L844.1 491.8 L844.3 490.6 L844.4 495.1 L844.6 490.8 L844.8 489.8 L845.0 490.0 L845.1 492.2 L845.3 487.8 L845.5 487.5 L845.7 487.2 L845.8 486.6 L846.0 486.5 L846.2 486.6 L846.4 485.6 L846.5 486.8 L846.7 484.6 L846.9 485.0 L847.0 482.1 L847.2 480.7 L847.3 482.6 L847.5 479.9 L847.7 479.0 L847.8 479.5 L848.0 480.4 L848.2 479.8 L848.3 478.7 L849.0 478.6 L849.7 477.6 L850.4 478.7 L850.5 478.0 L850.6 479.4 L850.7 481.8 L850.8 480.5 L850.9 484.1 L851.0 482.3 L851.1 483.9 L851.1 481.9 L851.2 484.6 L851.3 486.9 L851.4 488.2 L851.5 486.0 L851.6 486.5 L851.7 488.3 L851.7 486.1 L851.8 488.6 L851.9 489.2 L852.0 490.1 L852.1 489.6 L852.3 490.2 L852.5 493.2 L852.8 493.1 L853.0 491.3 L853.2 492.3 L853.5 494.8 L853.7 493.7 L853.9 496.1 L854.0 498.3 L854.1 497.0 L854.3 497.1 L854.4 496.6 L854.5 498.6 L854.7 498.8 L854.8 499.7 L854.9 499.3 L855.1 501.0 L855.2 499.0 L855.3 500.9 L855.5 502.5 L855.6 504.1 L855.8 502.6 L855.9 504.5 L856.0 507.3 L856.2 504.8 L856.3 507.8 L856.5 507.2 L856.6 508.8 L856.8 508.1 L856.9 510.3 L857.1 508.0 L857.2 510.4 L857.4 512.0 L857.5 508.9 L857.6 510.8 L857.8 511.1 L858.0 511.4 L858.2 511.3 L858.4 515.1 L858.6 513.0 L858.8 516.1 L859.0 514.3 L859.2 517.5 L859.4 514.9 L859.6 517.8 L859.8 516.0 L860.0 517.6 L860.6 517.4 L861.2 519.7 L861.8 519.5 L862.4 519.7 L862.9 520.7 L863.3 523.0 L863.7 519.7 L864.1 524.4 L864.5 524.1 L864.9 523.2 L865.3 522.9 L865.7 525.4 L866.1 524.4 L866.5 524.5 L866.9 525.5 L867.3 527.0 L867.6 524.4 L867.8 526.0 L868.1 524.3 L868.3 523.3 L868.6 522.2 L868.8 522.9 L869.1 524.8 L869.3 523.9 L869.6 520.3 L869.8 519.9 L870.3 520.4 L870.8 523.9 L871.3 521.1 L871.8 521.3 L872.2 522.5 L872.5 523.0 L872.8 521.1 L873.1 519.8 L873.3 520.4 L873.6 520.3 L873.9 521.1 L874.1 521.7 L874.4 521.0 L874.7 518.2 L874.9 520.0 L875.1 519.4 L875.3 521.0 L875.5 522.4 L875.7 520.7 L875.9 521.1 L876.1 521.9 L876.3 522.3 L876.7 525.3 L877.1 522.7 L877.6 522.0 L878.0 521.8 L878.4 520.1 L878.8 519.4 L879.4 519.2 L880.0 520.0 L880.6 524.2 L881.2 521.2 L881.4 518.6 L881.5 520.5 L881.6 517.6 L881.7 517.0 L881.9 516.2 L882.0 515.7 L882.1 517.0 L882.3 517.2 L882.4 517.1 L882.5 515.7 L882.7 513.6 L882.8 512.8 L882.9 512.4 L883.1 513.0 L883.2 511.0 L883.3 513.7 L883.4 512.0 L883.5 513.2 L883.6 515.7 L883.7 513.9 L883.8 515.2 L883.9 515.3 L884.1 517.4 L884.2 518.7 L884.3 517.3 L884.4 518.5 L884.5 518.6 L884.7 518.7 L885.0 521.5 L885.2 519.9 L885.4 521.6 L885.7 521.3 L885.9 522.0 L886.1 523.2 L886.2 523.6 L886.3 525.0 L886.4 523.6 L886.5 524.3 L886.6 525.4 L886.7 526.4 L886.8 525.7 L886.9 525.9 L887.0 529.5 L887.1 527.9 L887.2 532.5 L887.3 531.1 L887.4 533.0 L887.6 533.4 L887.7 531.2 L887.8 532.8 L887.9 531.4 L888.0 535.9 L888.1 533.2 L888.3 538.1 L888.4 536.7 L888.5 537.4 L888.6 537.1 L888.8 536.1 L888.9 539.9 L889.0 537.5 L889.1 540.3 L889.3 540.1 L889.4 541.1 L889.5 542.3 L889.6 542.0 L889.7 542.5 L889.8 543.1 L890.0 545.9 L890.1 545.5 L890.2 544.4 L890.3 548.9 L890.4 546.8 L890.5 546.8 L890.6 549.1 L890.7 550.2 L890.9 549.9 L891.0 548.2 L891.1 550.3 L891.2 551.7 L891.3 552.3 L891.4 551.4 L891.5 552.5 L891.7 553.1 L891.8 554.4 L891.9 554.7 L892.0 554.3 L892.1 554.9 L892.2 555.5 L892.3 555.8 L892.4 556.5 L892.5 559.9 L892.7 558.0 L892.8 560.7 L892.9 558.8 L893.0 560.0 L893.1 560.0 L893.2 560.1 L893.3 562.1 L893.4 564.5 L893.5 563.5 L893.7 564.3 L893.8 565.1 L893.9 564.8 L894.0 566.0 L894.1 565.5 L894.2 566.2 L894.3 566.3 L894.4 567.5 L894.5 569.7 L894.6 567.9 L894.7 569.3 L894.8 570.1 L894.9 570.8 L895.0 571.2 L895.1 573.2 L895.2 571.9 L895.3 573.7 L895.4 574.5 L895.5 573.8 L895.6 574.5 L895.7 576.3 L895.8 576.0 L895.9 577.3 L896.0 577.4 L896.1 577.5 L896.2 579.8 L896.3 579.1 L896.4 579.8 L896.5 581.0 L896.6 581.5 L896.7 581.7 L896.7 581.9 L896.8 583.3 L896.9 584.1 L897.0 584.4 L897.1 584.9 L897.1 585.0 L897.2 586.2 L897.3 586.2 L897.4 587.5 L897.5 587.6 L897.6 588.3 L897.6 588.8 L897.7 589.9 L897.8 590.3 L897.9 590.5 L898.0 591.1 L898.0 592.3 L898.1 592.8 L898.2 592.9 L898.3 593.4 L898.4 594.4 L898.4 594.9 L898.5 595.6 L898.6 596.2 L898.7 596.7 L898.8 597.1 L898.9 597.5 L898.9 598.9 L899.0 599.1 L899.1 600.0 L899.2 600.2 L899.2 601.6 L899.3 601.2 L899.4 602.2 L899.5 602.9 L899.5 603.5 L899.6 604.1 L899.7 605.1 L899.8 605.4 L899.8 606.1 L899.9 606.4 L900.0 607.0 L900.1 607.4 L900.2 608.0 L900.2 608.7 L900.3 609.0 L900.4 609.7 L900.5 610.6 L900.5 611.3 L900.6 611.7 L900.7 612.2 L900.8 613.4 L900.8 613.6 L900.9 614.8 L901.0 614.7 L901.1 615.9 L901.1 616.4 L901.2 616.8 L901.3 617.4 L901.4 618.0 L901.5 619.1 L901.6 619.2 L901.6 619.8 L901.7 620.6 L901.8 620.8 L901.9 621.6 L902.0 622.1 L902.0 622.8 L902.1 623.4 L902.2 624.0 L902.3 624.7 L902.4 625.3 L902.4 626.0 L902.5 626.5 L902.6 627.0 L902.7 627.2 L902.8 628.1 L902.9 629.2 L902.9 629.8 L903.0 629.7 L903.1 630.3 L903.2 631.0 L903.3 631.5 L903.3 632.2 L903.4 633.1 L903.5 633.3 L903.6 634.2 L903.7 634.7 L903.8 635.8 L903.9 635.8 L903.9 636.5 L904.0 637.3 L904.1 638.1 L904.2 638.6 L904.3 638.9 L904.4 639.7 L904.5 640.5 L904.6 640.8 L904.7 641.6 L904.8 642.3 L904.9 642.6 L904.9 643.2 L905.0 644.2 L905.1 644.0 L905.2 645.0 L905.3 645.6 L905.4 646.1 L905.5 647.0 L905.6 647.3 L905.7 648.2 L905.8 648.6 L905.9 649.2 L905.9 650.3 L906.0 650.9 L906.1 651.0 L906.3 652.0 L906.4 652.2 L906.5 653.1 L906.6 653.3 L906.8 654.3 L906.9 655.0 L907.0 655.3 L907.2 655.7 L907.3 657.0 L907.4 656.8 L907.5 657.4 L907.7 658.2 L907.8 659.4 L907.9 659.4 L908.1 659.9 L908.2 660.6 L908.3 661.3 L908.4 662.5 L908.6 662.4 L908.7 663.0 L908.9 663.5 L909.1 664.6 L909.3 664.6 L909.4 665.6 L909.6 665.9 L909.8 666.4 L910.0 667.4 L910.1 667.7 L910.3 668.5 L910.5 668.8 L910.7 669.3 L910.8 670.2 L911.0 670.6 L911.2 671.5 L911.5 671.8 L911.7 672.4 L911.9 673.4 L912.1 674.0 L912.4 674.0 L912.6 674.7 L912.8 675.1 L913.0 676.5 L913.2 676.2 L913.5 677.1 L914.0 677.5 L914.6 677.9 L915.1 678.6 L915.4 677.9 L915.8 677.7 L916.1 677.0 L916.4 675.9 L916.7 675.4 L917.0 674.8 L917.2 674.2 L917.4 673.8 L917.6 673.2 L917.8 672.5 L918.1 672.0 L918.3 671.3 L918.5 670.7 L918.7 670.1 L919.0 669.4 L919.2 668.9 L919.3 668.5 L919.4 667.6 L919.5 667.1 L919.6 666.6 L919.7 666.4 L919.9 665.5 L920.0 664.9 L920.1 664.5 L920.2 664.2 L920.3 663.3 L920.4 662.4 L920.5 661.6 L920.6 661.3 L920.7 661.1 L920.9 659.9 L921.0 659.6 L921.1 659.3 L921.2 658.3 L921.3 657.6 L921.4 657.1 L921.5 656.3 L921.6 656.0 L921.7 655.8 L921.8 654.9 L921.9 654.1 L922.0 654.0 L922.0 653.1 L922.1 652.2 L922.2 652.2 L922.3 651.1 L922.4 650.2 L922.4 650.2 L922.5 649.4 L922.6 649.2 L922.7 648.0 L922.8 648.0 L922.9 647.0 L922.9 646.3 L923.0 645.7 L923.1 645.1 L923.2 645.2 L923.3 643.7 L923.3 643.3 L923.4 642.5 L923.5 642.1 L923.6 641.4 L923.7 640.6 L923.8 640.7 L923.8 639.6 L923.9 639.4 L924.0 638.5 L924.1 638.0 L924.1 637.5 L924.2 636.9 L924.3 636.8 L924.3 635.7 L924.4 634.9 L924.5 634.5 L924.5 633.8 L924.6 633.5 L924.7 632.5 L924.7 631.8 L924.8 631.3 L924.9 630.4 L924.9 630.2 L925.0 629.4 L925.0 629.3 L925.1 628.2 L925.2 628.1 L925.2 626.9 L925.3 627.0 L925.4 625.7 L925.4 625.6 L925.5 625.0 L925.6 624.6 L925.6 623.9 L925.7 623.2 L925.8 622.3 L925.8 622.4 L925.9 621.2 L926.0 620.8 L926.0 619.8 L926.1 619.2 L926.1 618.8 L926.2 618.3 L926.3 618.0 L926.3 617.4 L926.4 616.3 L926.5 616.1 L926.5 615.2 L926.6 614.5 L926.7 614.6 L926.8 613.0 L926.8 612.8 L926.9 612.3 L927.0 611.3 L927.1 611.1 L927.1 610.3 L927.2 610.3 L927.3 608.9 L927.4 608.9 L927.4 607.7 L927.5 607.3 L927.6 606.8 L927.7 606.0 L927.8 605.7 L927.8 604.5 L927.9 603.8 L928.0 603.4 L928.1 602.8 L928.1 602.4 L928.2 601.8 L928.3 600.8 L928.4 600.2 L928.4 599.4 L928.5 599.9 L928.6 598.9 L928.7 597.8 L928.8 597.2 L928.8 597.0 L928.9 596.0 L929.0 595.6 L929.1 595.1 L929.2 594.1 L929.3 594.1 L929.3 593.2 L929.4 593.0 L929.5 591.8 L929.6 591.3 L929.7 590.5 L929.8 590.2 L929.9 589.9 L930.0 589.4 L930.1 588.2 L930.2 587.4 L930.2 587.5 L930.3 586.9 L930.4 586.4 L930.5 585.7 L930.6 584.7 L930.7 584.9 L930.8 583.6 L930.9 582.6 L931.0 582.0 L931.1 581.6 L931.2 581.5 L931.2 581.5 L931.3 579.7 L931.4 579.3 L931.6 578.3 L931.7 578.3 L931.8 578.2 L931.9 577.5 L932.1 577.5 L932.2 576.6 L932.3 576.2 L932.5 573.8 L932.6 574.5 L932.7 572.5 L932.8 573.0 L933.0 571.8 L933.1 571.5 L933.2 572.1 L933.4 569.9 L933.5 570.1 L933.6 570.9 L933.7 567.9 L933.9 567.6 L934.0 566.4 L934.2 567.0 L934.3 567.9 L934.5 566.1 L934.6 565.0 L934.8 563.2 L934.9 564.2 L935.1 562.9 L935.3 562.2 L935.4 563.2 L935.6 560.8 L935.7 560.6 L935.9 558.9 L936.0 558.8 L936.2 559.7 L936.3 558.1 L936.5 557.8 L936.7 556.5 L936.9 558.5 L937.0 554.7 L937.2 555.2 L937.4 555.1 L937.6 556.3 L937.7 555.3 L937.9 551.9 L938.1 552.5 L938.3 552.4 L938.4 550.5 L938.6 550.9 L938.8 550.1 L938.9 548.2 L939.1 550.9 L939.2 550.6 L939.4 548.4 L939.5 546.2 L939.7 545.8 L939.8 546.0 L940.0 544.3 L940.2 543.7 L940.3 542.7 L940.5 541.8 L940.6 545.0 L940.8 543.2 L940.9 541.6 L941.1 543.6 L941.2 540.9 L941.4 542.3 L941.5 541.5 L941.7 538.9 L941.9 537.7 L942.0 541.0 L942.2 536.0 L942.3 537.5 L942.5 537.8 L942.6 533.8 L942.8 535.7 L943.0 536.5 L943.1 534.7 L943.3 532.3 L943.4 530.3 L943.5 531.2 L943.6 530.0 L943.7 529.0 L943.8 528.6 L943.9 528.9 L944.0 528.8 L944.2 530.3 L944.3 529.4 L944.4 528.6 L944.5 526.7 L944.6 527.9 L944.7 527.8 L944.8 523.8 L944.9 524.2 L945.0 521.7 L945.2 522.0 L945.3 523.2 L945.4 521.3 L945.5 522.7 L945.6 520.9 L945.7 519.7 L945.9 518.1 L946.1 520.2 L946.2 517.9 L946.4 519.3 L946.6 519.4 L946.8 518.2 L946.9 515.8 L947.1 513.4 L947.3 512.4 L947.5 513.5 L947.6 513.0 L947.8 513.7 L948.0 512.9 L948.2 512.1 L948.3 512.4 L948.4 508.6 L948.5 508.7 L948.6 508.0 L948.7 510.4 L948.8 509.7 L948.9 508.1 L949.0 509.0 L949.1 507.0 L949.2 504.9 L949.3 504.6 L949.4 503.6 L949.5 504.2 L949.6 501.8 L949.7 503.2 L949.8 501.3 L949.9 501.6 L950.1 500.3 L950.3 499.5 L950.4 497.3 L950.6 497.4 L950.7 496.6 L950.9 499.1 L951.0 496.7 L951.2 495.3 L951.3 496.5 L951.5 492.7 L951.6 492.8 L951.8 492.6 L951.9 493.2 L952.1 491.6 L952.2 492.4 L952.7 491.6 L953.1 491.9 L953.5 488.8 L953.9 488.6 L954.3 489.8 L954.7 488.0 L954.9 487.8 L955.1 489.8 L955.3 485.8 L955.5 485.6 L955.7 485.7 L955.9 485.1 L956.1 486.0 L956.3 484.0 L956.4 481.9 L956.5 484.2 L956.6 481.4 L956.7 480.8 L956.8 479.9 L956.8 483.9 L956.9 478.4 L957.0 478.5 L957.1 478.2 L957.2 479.4 L957.3 475.9 L957.4 475.7 L957.4 476.6 L957.5 474.2 L957.6 476.1 L957.7 472.6 L957.8 475.1 L957.9 473.5 L958.0 471.5 L958.5 472.2 L959.0 475.5 L959.6 473.5 L959.7 473.5 L959.8 471.7 L960.0 471.5 L960.1 472.6 L960.2 469.7 L960.3 471.2 L960.5 468.3 L960.6 468.4 L960.7 470.5 L960.8 467.3 L961.0 468.7 L961.1 466.3 L961.2 465.2 L961.4 465.9 L961.5 465.1 L961.6 464.5 L961.7 465.4 L961.9 462.5 L962.0 465.3 L962.1 464.7 L962.3 462.7 L962.4 461.7 L962.5 458.9 L962.6 457.6 L962.8 457.3 L962.9 458.2 L963.0 459.2 L963.2 455.4 L963.3 455.3 L963.4 457.8 L963.5 454.2 L963.7 453.6 L964.3 455.5 L964.9 456.6 L965.5 456.2 L966.1 454.8 L966.4 455.5 L966.6 457.8 L966.8 457.2 L967.1 457.2 L967.3 458.9 L967.5 458.1 L967.8 459.6 L968.0 460.2 L968.2 461.4 L968.4 459.8 L968.6 462.9 L968.9 464.7 L969.1 462.4 L969.3 462.3 L969.5 463.4 L969.8 464.8 L970.0 464.3 L970.2 465.5 L970.5 468.0 L970.7 468.1 L971.0 467.7 L971.3 467.1 L971.6 468.6 L971.8 467.7 L972.1 469.2 L972.4 473.3 L972.7 471.3 L972.9 471.2 L973.2 470.2 L973.5 473.9 L973.7 473.6 L974.0 475.1 L974.3 473.7 L974.6 477.2 L974.8 474.8 L975.1 475.1 L975.3 476.9 L975.4 475.8 L975.6 481.0 L975.7 478.5 L975.9 477.4 L976.0 482.0 L976.2 479.7 L976.3 478.6 L976.5 481.5 L976.6 479.9 L976.8 483.4 L976.9 481.8 L977.1 482.2 L977.2 484.5 L977.4 484.9 L977.6 485.6 L978.2 484.3 L978.8 488.3 L979.4 486.8 L980.0 484.0 L980.2 483.4 L980.5 484.0 L980.7 488.5 L981.0 485.4 L981.2 485.6 L981.5 490.2 L981.7 490.3 L982.0 489.0 L982.2 491.5 L982.4 490.7 L982.6 489.3 L982.7 491.2 L982.8 487.2 L983.0 487.2 L983.1 485.6 L983.2 486.3 L983.3 487.2 L983.5 487.5 L983.6 483.7 L983.7 485.5 L983.8 481.3 L984.0 481.4 L984.1 482.4 L984.3 481.7 L984.4 479.2 L984.6 481.0 L984.8 478.4 L985.0 480.6 L985.1 476.9 L985.3 477.3 L985.5 477.7 L985.7 476.9 L985.8 476.4 L986.0 475.6 L986.2 474.3 L986.4 474.4 L986.5 473.5 L987.1 476.3 L987.8 472.8 L988.4 471.1 L989.0 472.0 L989.1 472.9 L989.2 469.9 L989.2 472.3 L989.3 471.4 L989.4 470.1 L989.5 469.9 L989.6 469.0 L989.7 466.4 L989.8 467.2 L989.8 466.9 L989.9 464.5 L990.0 464.2 L990.1 464.7 L990.2 462.5 L990.3 465.0 L990.4 462.6 L990.4 460.1 L990.5 461.3 L990.6 460.1 L990.8 460.3 L991.1 461.5 L991.3 459.1 L991.5 460.7 L991.7 457.1 L991.9 458.9 L992.2 456.5 L992.4 459.0 L992.6 456.8 L992.8 457.2 L993.1 454.8 L993.2 453.0 L993.4 454.0 L993.5 452.9 L993.7 453.0 L993.8 452.3 L994.0 451.0 L994.1 449.0 L994.3 450.5 L994.4 451.8 L994.6 447.9 L994.7 448.9 L994.9 446.3 L995.1 446.2 L995.2 444.4 L995.4 446.8 L995.5 444.2 L995.6 447.3 L995.8 444.8 L995.9 442.3 L996.0 443.9 L996.2 443.6 L996.3 439.6 L996.4 439.9 L996.5 439.5 L996.7 437.3 L996.8 440.6 L996.9 437.4 L997.1 436.3 L997.2 438.0 L997.3 437.4 L997.4 437.4 L997.6 436.7 L997.7 435.8 L997.8 432.4 L998.0 432.4 L998.2 434.0 L998.5 434.1 L998.8 430.6 L999.0 431.7 L999.3 430.9 L999.6 429.1 L999.9 432.3 L1000.1 428.5 L1000.4 428.0 L1000.7 428.8 L1001.0 426.2 L1001.2 425.4 L1001.5 426.2 L1001.8 424.9 L1002.0 424.9 L1002.3 423.9 L1002.6 422.6 L1002.9 423.3 L1003.1 422.7 L1003.3 420.6 L1003.5 419.9 L1003.7 424.5 L1004.0 423.9 L1004.2 418.6 L1004.4 421.4 L1004.6 418.8 L1004.9 417.7 L1005.1 416.1 L1005.3 416.2 L1005.7 416.3 L1006.0 417.7 L1006.4 418.5 L1006.7 418.8 L1007.1 419.3 L1007.4 421.1 L1007.8 420.5 L1008.1 422.0 L1008.4 420.9 L1008.7 423.7 L1009.0 424.2 L1009.4 422.6 L1009.7 427.1 L1010.0 425.0 L1010.2 428.4 L1010.3 427.3 L1010.5 428.8 L1010.7 430.7 L1010.9 430.2 L1011.0 429.3 L1011.2 427.7 L1011.4 427.9 L1011.6 432.2 L1011.7 432.0 L1011.9 431.7 L1012.1 433.5 L1012.3 432.2 L1012.4 433.2 L1012.6 433.3 L1012.8 434.8 L1012.9 434.0 L1013.1 435.6 L1013.2 437.2 L1013.4 435.6 L1013.5 439.5 L1013.7 438.8 L1013.8 441.4 L1014.0 439.9 L1014.1 438.8 L1014.3 441.5 L1014.4 440.9 L1014.6 441.2 L1014.7 443.1 L1014.9 442.9 L1015.1 442.9 L1015.2 445.5 L1015.4 443.7 L1015.5 444.7 L1015.7 446.8 L1015.8 445.2 L1016.0 447.7 L1016.1 447.5 L1016.3 446.6 L1016.4 447.0 L1016.6 450.0 L1016.7 448.9 L1016.9 451.4 L1017.0 451.0 L1017.2 452.1 L1017.3 452.6 L1017.5 455.7 L1017.7 452.3 L1017.9 454.4 L1018.0 457.0 L1018.2 455.5 L1018.4 457.7 L1018.6 455.8 L1018.7 457.8 L1018.9 459.4 L1019.1 460.6 L1019.3 459.6 L1019.4 458.2 L1019.6 460.3 L1019.8 460.5 L1020.1 462.4 L1020.3 463.6 L1020.6 461.6 L1020.9 461.7 L1021.2 462.2 L1021.4 467.0 L1021.7 464.6 L1022.0 467.3 L1022.2 465.2 L1022.7 469.6 L1023.1 466.9 L1023.5 467.3 L1023.9 468.6 L1024.3 468.1 L1024.7 469.3 L1025.1 469.9 L1025.5 470.1 L1025.9 471.2 L1026.3 472.7 L1026.7 470.6 L1027.1 472.0 L1027.6 473.8 L1028.0 473.6 L1028.4 473.1 L1028.8 474.4 L1029.2 474.2 L1029.6 474.6 L1029.8 478.0 L1030.0 479.4 L1030.3 477.3 L1030.5 479.2 L1030.7 479.6 L1030.9 481.3 L1031.2 481.9 L1031.4 478.5 L1031.6 481.7 L1031.8 479.8 L1032.0 482.8 L1032.3 484.5 L1032.6 481.9 L1032.9 480.0 L1033.1 480.8 L1033.4 477.8 L1033.7 477.7 L1033.9 479.2 L1034.2 480.9 L1034.5 477.4 L1035.1 477.6 L1035.7 478.8 L1036.3 478.6 L1036.9 478.6 L1037.2 478.2 L1037.4 476.9 L1037.6 479.8 L1037.8 475.6 L1038.1 477.2 L1038.3 474.4 L1038.5 473.0 L1038.7 477.2 L1038.9 474.5 L1039.2 471.8 L1039.4 472.8 L1040.0 470.6 L1040.6 473.9 L1041.2 471.9 L1041.8 473.8 L1042.4 473.4 L1043.1 475.3 L1043.7 473.8 L1044.3 475.0 L1044.6 476.9 L1044.8 473.3 L1045.1 473.3 L1045.4 472.2 L1045.6 473.4 L1045.9 471.8 L1046.2 470.7 L1046.5 470.7 L1046.7 469.9 L1047.3 469.9 L1048.0 472.3 L1048.6 472.1 L1049.2 471.2 L1049.4 472.6 L1049.6 473.7 L1049.9 474.4 L1050.1 473.7 L1050.3 471.6 L1050.5 474.4 L1050.7 473.3 L1051.0 475.0 L1051.2 476.4 L1051.4 475.5 L1051.6 477.5 L1051.8 476.7 L1052.0 479.2 L1052.2 478.6 L1052.3 477.4 L1052.5 480.8 L1052.7 481.5 L1052.9 479.9 L1053.0 481.0 L1053.2 482.1 L1053.4 482.9 L1053.6 484.8 L1053.7 484.1 L1053.9 484.1 L1054.1 484.6 L1054.7 488.5 L1055.3 488.5 L1055.9 487.5 L1056.5 486.7 L1057.1 486.4 L1057.8 486.7 L1058.4 488.9 L1059.0 488.8 L1059.2 488.7 L1059.4 488.8 L1059.6 488.9 L1059.9 487.7 L1060.1 484.4 L1060.3 486.6 L1060.5 483.8 L1060.8 486.8 L1061.0 484.5 L1061.2 482.2 L1061.4 481.4 L1061.6 483.1 L1061.7 484.6 L1061.9 482.7 L1062.0 483.6 L1062.2 486.0 L1062.3 484.2 L1062.5 485.1 L1062.7 486.1 L1062.8 489.2 L1063.0 487.0 L1063.1 490.3 L1063.3 490.8 L1063.4 488.3 L1063.6 491.2 L1063.7 489.8 L1063.9 491.4 L1064.1 491.9 L1064.4 492.5 L1064.7 494.6 L1065.0 494.7 L1065.2 494.3 L1065.5 494.0 L1065.8 495.1 L1066.1 497.7 L1066.3 496.4 L1066.5 497.6 L1066.8 500.4 L1067.0 498.2 L1067.2 499.0 L1067.4 498.6 L1067.7 499.7 L1067.9 499.4 L1068.1 500.9 L1068.3 503.0 L1068.6 502.2 L1068.8 503.1 L1069.1 502.8 L1069.5 506.6 L1069.8 503.6 L1070.2 508.6 L1070.5 505.8 L1070.9 507.4 L1071.2 506.5 L1071.6 508.0 L1071.9 504.8 L1072.3 503.8 L1072.6 506.4 L1073.0 504.5 L1073.3 504.4 L1073.7 502.9 L1074.3 501.9 L1074.9 504.4 L1075.5 501.0 L1076.1 501.5 L1076.3 500.5 L1076.4 500.1 L1076.6 498.0 L1076.7 501.3 L1076.9 497.8 L1077.0 499.2 L1077.2 497.9 L1077.3 497.1 L1077.5 495.3 L1077.7 495.2 L1077.8 494.6 L1078.0 492.2 L1078.1 493.1 L1078.3 495.6 L1078.4 491.4 L1078.6 491.1 L1078.7 491.9 L1078.8 490.0 L1078.9 490.8 L1079.0 490.5 L1079.1 487.2 L1079.2 489.2 L1079.4 488.8 L1079.5 488.5 L1079.6 486.2 L1079.7 486.5 L1079.8 486.9 L1079.9 484.3 L1080.0 487.1 L1080.1 482.7 L1080.2 483.5 L1080.4 482.3 L1080.5 481.4 L1080.6 480.4 L1080.7 479.8 L1080.8 480.0 L1080.9 478.7 L1081.0 478.4 L1081.1 480.3 L1081.3 477.3 L1081.4 477.0 L1081.5 478.6 L1081.7 475.8 L1081.8 475.1 L1081.9 473.6 L1082.1 473.4 L1082.2 472.8 L1082.3 474.8 L1082.4 471.4 L1082.6 472.1 L1082.7 471.5 L1082.8 471.0 L1083.0 470.1 L1083.1 468.8 L1083.2 467.7 L1083.3 468.9 L1083.5 467.2 L1083.6 470.3 L1083.7 466.5 L1083.9 467.9 L1084.0 465.4 L1084.1 463.0 L1084.2 463.6 L1084.4 461.8 L1084.5 463.8 L1084.6 460.5 L1084.8 462.7 L1084.9 460.0 L1085.0 462.3 L1085.1 460.0 L1085.3 458.1 L1085.4 458.7 L1085.5 458.9 L1085.7 457.9 L1085.8 457.8 L1085.9 456.2 L1086.1 458.2 L1086.2 454.4 L1086.4 453.6 L1086.5 453.1 L1086.7 453.8 L1086.8 454.4 L1087.0 453.2 L1087.1 450.5 L1087.3 450.4 L1087.4 450.7 L1087.6 447.8 L1087.8 452.1 L1087.9 449.8 L1088.1 449.2 L1088.2 446.6 L1088.4 445.7 L1088.5 446.3 L1088.7 443.5 L1088.9 446.6 L1089.1 443.0 L1089.2 443.9 L1089.4 445.1 L1089.6 443.0 L1089.8 441.1 L1089.9 442.1 L1090.1 441.8 L1090.3 443.2 L1090.5 440.3 L1090.6 437.2 L1090.8 438.1 L1091.0 440.5 L1091.1 436.3 L1091.3 438.2 L1091.4 436.3 L1091.6 434.3 L1091.7 433.1 L1091.9 434.1 L1092.0 435.6 L1092.2 433.4 L1092.3 431.2 L1092.5 431.3 L1092.7 429.9 L1092.8 429.6 L1093.0 430.3 L1093.1 428.4 L1093.3 427.6 L1093.9 428.6 L1094.5 428.8 L1095.1 428.2 L1095.7 429.4 L1095.8 428.4 L1095.9 429.4 L1095.9 426.9 L1096.0 427.0 L1096.1 427.8 L1096.2 427.3 L1096.2 424.5 L1096.3 423.7 L1096.4 423.7 L1096.5 424.4 L1096.6 426.2 L1096.6 420.8 L1096.7 422.7 L1096.8 420.5 L1096.9 424.2 L1096.9 419.6 L1097.0 421.7 L1097.1 418.4 L1097.2 418.6 L1097.2 420.6 L1097.3 415.2 L1097.4 415.3 L1097.5 416.7 L1097.6 415.5 L1097.6 414.5 L1097.7 416.3 L1097.8 412.1 L1097.9 414.6 L1097.9 410.4 L1098.0 411.6 L1098.1 411.1 L1098.2 409.9 L1098.4 409.9 L1098.7 409.0 L1098.9 407.6 L1099.2 410.7 L1099.5 406.4 L1099.6 410.6 L1099.8 407.5 L1099.9 407.3 L1100.1 407.6 L1100.2 409.6 L1100.4 410.1 L1100.5 410.8 L1100.7 411.0 L1100.8 414.5 L1101.0 413.5 L1101.1 413.7 L1101.3 414.3 L1101.4 414.7 L1101.6 415.7 L1101.7 414.5 L1101.9 419.3 L1102.0 419.0 L1102.2 420.0 L1102.3 416.7 L1102.5 418.8 L1102.7 419.2 L1102.8 423.2 L1103.0 420.3 L1103.1 420.1 L1103.3 422.4 L1103.4 422.7 L1103.6 424.2 L1103.7 425.4 L1103.9 425.2 L1104.0 426.3 L1104.2 425.5 L1104.3 429.3 L1104.5 428.4 L1104.6 426.3 L1104.8 427.6 L1104.9 428.2 L1105.1 428.7 L1105.3 429.7 L1105.4 433.0 L1105.6 431.6 L1105.7 431.3 L1105.9 434.6 L1106.0 435.5 L1106.2 432.8 L1106.3 434.1 L1106.5 435.5 L1106.7 436.5 L1106.9 437.4 L1107.0 435.6 L1107.2 438.0 L1107.4 438.0 L1107.6 440.4 L1107.7 439.3 L1107.9 438.9 L1108.1 442.2 L1108.3 441.0 L1108.4 441.1 L1108.6 441.7 L1108.8 442.7 L1109.0 444.7 L1109.1 446.0 L1109.3 444.2 L1109.5 443.8 L1109.7 446.4 L1109.8 445.6 L1110.0 445.6 L1110.2 447.5 L1110.3 447.6 L1110.5 448.0 L1110.7 450.7 L1110.9 450.7 L1111.0 450.5 L1111.2 450.6 L1111.4 452.8 L1111.6 453.9 L1111.7 453.5 L1111.9 453.3 L1112.1 452.9 L1112.3 456.0 L1112.4 456.9 L1112.6 454.2 L1112.8 459.9 L1113.0 459.7 L1113.1 458.8 L1113.3 457.5 L1113.5 459.0 L1113.7 459.9 L1113.8 458.7 L1114.0 461.4 L1114.1 463.3 L1114.3 460.5 L1114.4 464.0 L1114.6 463.3 L1114.7 463.7 L1114.9 462.7 L1115.1 464.5 L1115.2 465.6 L1115.4 467.1 L1115.5 466.0 L1115.7 465.7 L1115.8 468.8 L1116.0 468.3 L1116.1 468.7 L1116.7 471.0 L1117.3 469.7 L1118.0 468.2 L1118.6 471.0 L1118.8 469.2 L1119.0 470.2 L1119.2 471.8 L1119.5 475.0 L1119.7 475.8 L1119.9 476.7 L1120.1 473.6 L1120.4 476.0 L1120.6 475.1 L1120.8 478.7 L1121.0 477.5 L1121.3 478.8 L1121.6 478.2 L1121.8 480.8 L1122.1 478.5 L1122.4 478.8 L1122.7 482.7 L1122.9 479.3 L1123.2 481.5 L1123.5 482.0 L1123.7 482.6 L1123.9 482.9 L1124.1 485.5 L1124.4 485.1 L1124.6 485.6 L1124.8 484.2 L1125.0 485.5 L1125.3 486.0 L1125.5 485.6 L1125.7 489.8 L1125.9 487.9 L1126.2 488.9 L1126.4 490.2 L1126.7 492.7 L1126.9 490.7 L1127.1 490.7 L1127.4 494.1 L1127.6 491.1 L1127.9 492.7 L1128.1 494.7 L1128.4 494.9 L1129.0 494.4 L1129.6 497.9 L1130.2 494.2 L1130.8 495.1 L1131.0 495.2 L1131.3 498.1 L1131.5 498.4 L1131.7 496.1 L1131.9 496.4 L1132.2 501.7 L1132.4 498.3 L1132.6 500.7 L1132.8 502.9 L1133.0 499.6 L1133.3 501.9 L1133.3 501.7 L1133.4 499.5 L1133.4 500.6 L1133.5 500.3 L1133.5 499.0 L1133.6 497.5 L1133.6 499.2 L1133.7 497.1 L1133.8 495.2 L1133.8 495.5 L1133.9 496.4 L1133.9 494.5 L1134.0 492.5 L1134.0 494.5 L1134.1 491.0 L1134.1 494.6 L1134.2 492.7 L1134.2 490.2 L1134.3 489.9 L1134.4 488.7 L1134.4 491.6 L1134.5 487.4 L1134.5 489.1 L1134.6 486.7 L1134.6 487.6 L1134.7 486.6 L1134.7 485.7 L1134.8 484.6 L1134.8 486.0 L1134.9 483.7 L1135.0 483.2 L1135.2 484.5 L1135.3 486.6 L1135.4 486.4 L1135.6 486.2 L1135.7 488.2 L1135.9 489.8 L1136.0 489.0 L1136.1 490.4 L1136.3 489.7 L1136.4 491.7 L1136.5 489.4 L1136.7 492.6 L1136.8 491.7 L1136.9 493.1 L1137.1 491.6 L1137.2 493.2 L1137.3 494.1 L1137.5 492.9 L1137.7 491.4 L1137.8 491.1 L1138.0 491.6 L1138.2 491.8 L1138.3 490.1 L1138.5 489.5 L1138.7 490.4 L1138.8 491.8 L1139.0 487.3 L1139.1 489.8 L1139.3 488.9 L1139.5 486.3 L1139.6 486.1 L1139.8 485.4 L1140.4 483.2 L1141.0 487.6 L1141.6 485.5 L1142.2 484.2 L1142.5 484.6 L1142.7 485.7 L1142.9 486.3 L1143.1 488.6 L1143.4 485.9 L1143.6 486.0 L1143.8 487.8 L1144.0 491.8 L1144.2 487.2 L1144.5 491.0 L1144.7 490.3 L1145.0 490.5 L1145.2 490.8 L1145.5 492.4 L1145.8 491.4 L1146.1 492.2 L1146.3 492.5 L1146.6 495.3 L1146.9 495.4 L1147.1 494.5 L1147.8 495.1 L1148.4 494.6 L1149.0 492.4 L1149.6 493.8 L1149.7 493.5 L1149.8 491.1 L1149.9 494.4 L1150.0 490.8 L1150.1 490.1 L1150.2 489.3 L1150.3 489.0 L1150.4 487.9 L1150.5 488.7 L1150.6 490.4 L1150.7 487.4 L1150.8 487.9 L1150.9 486.1 L1151.0 486.1 L1151.1 485.8 L1151.2 485.6 L1151.3 486.4 L1151.4 481.2 L1151.5 481.0 L1151.6 480.4 L1151.7 480.3 L1151.8 479.2 L1151.9 477.3 L1152.0 478.5 L1152.1 476.3 L1152.2 477.7 L1152.3 479.3 L1152.4 479.2 L1152.6 475.4 L1152.7 473.9 L1152.8 476.4 L1152.9 474.4 L1153.0 472.4 L1153.1 473.6 L1153.2 471.4 L1153.3 472.2 L1153.4 470.0 L1153.5 469.5 L1153.6 471.8 L1153.7 471.6 L1153.8 467.3 L1153.9 468.6 L1154.0 470.0 L1154.1 468.3 L1154.2 464.7 L1154.3 465.3 L1154.4 464.0 L1154.5 463.9 L1154.9 466.8 L1155.3 465.6 L1155.7 468.2 L1156.1 465.9 L1156.5 465.7 L1156.9 466.8 L1157.0 468.0 L1157.1 466.9 L1157.2 468.0 L1157.3 468.6 L1157.4 470.5 L1157.5 470.7 L1157.6 470.4 L1157.7 473.3 L1157.7 473.9 L1157.8 476.9 L1157.9 473.3 L1158.0 472.7 L1158.1 475.7 L1158.2 474.2 L1158.3 477.9 L1158.4 476.6 L1158.5 475.9 L1158.5 481.3 L1158.6 477.3 L1158.7 477.5 L1158.8 479.3 L1158.9 480.8 L1159.0 481.0 L1159.1 480.2 L1159.2 480.1 L1159.3 481.9 L1159.3 477.2 L1159.4 478.4 L1159.5 476.0 L1159.6 476.2 L1159.7 474.8 L1159.8 473.0 L1159.9 474.2 L1160.0 475.7 L1160.0 474.0 L1160.1 471.1 L1160.2 471.2 L1160.3 472.0 L1160.4 468.2 L1160.5 468.7 L1160.6 468.1 L1160.7 467.1 L1160.8 467.8 L1160.8 469.7 L1160.9 467.3 L1161.0 466.0 L1161.1 469.0 L1161.2 465.5 L1161.3 468.6 L1161.4 467.9 L1161.5 471.3 L1161.5 471.6 L1161.6 468.6 L1161.7 469.5 L1161.8 470.5 L1161.9 470.8 L1162.0 472.5 L1162.1 472.4 L1162.1 475.3 L1162.2 472.4 L1162.3 476.3 L1162.4 476.1 L1162.5 477.1 L1162.6 478.8 L1162.7 476.4 L1162.8 477.4 L1163.0 478.8 L1163.2 475.1 L1163.4 473.3 L1163.5 475.2 L1163.7 472.7 L1163.9 476.1 L1164.1 472.3 L1164.2 473.0 L1164.4 471.1 L1164.6 473.2 L1164.8 469.3 L1164.9 470.4 L1165.1 469.0 L1165.3 469.4 L1165.5 470.8 L1165.6 466.3 L1165.8 467.5 L1166.0 467.3 L1166.2 465.2 L1166.3 465.5 L1166.5 463.1 L1166.7 462.9 L1166.9 464.5 L1167.0 461.3 L1167.2 462.2 L1167.4 460.4 L1167.6 460.5 L1167.8 461.8 L1168.0 463.2 L1168.2 463.4 L1168.4 463.6 L1168.7 466.9 L1168.9 462.9 L1169.1 465.1 L1169.3 465.0 L1169.6 466.0 L1169.8 468.9 L1170.0 467.1 L1170.2 467.4 L1170.3 468.2 L1170.5 468.6 L1170.6 469.7 L1170.8 471.1 L1170.9 471.0 L1171.1 471.7 L1171.2 471.6 L1171.4 474.9 L1171.5 472.2 L1171.7 474.9 L1171.8 474.5 L1172.0 476.1 L1172.1 479.3 L1172.3 476.1 L1172.4 476.7 L1172.5 477.2 L1172.6 478.3 L1172.6 474.6 L1172.7 476.5 L1172.7 475.2 L1172.8 473.6 L1172.8 474.0 L1172.9 473.8 L1172.9 473.9 L1173.0 470.2 L1173.0 472.8 L1173.1 469.2 L1173.2 470.4 L1173.2 467.8 L1173.3 469.6 L1173.3 469.6 L1173.4 466.3 L1173.4 468.1 L1173.5 465.0 L1173.5 467.0 L1173.6 463.8 L1173.6 465.8 L1173.7 463.7 L1173.8 465.0 L1173.8 462.4 L1173.9 463.4 L1173.9 461.9 L1174.0 461.5 L1174.0 461.6 L1174.1 458.9 L1174.2 458.8 L1174.3 458.7 L1174.4 459.6 L1174.5 455.7 L1174.6 455.3 L1174.8 457.6 L1174.9 457.8 L1175.0 455.8 L1175.1 454.0 L1175.2 452.5 L1175.3 453.4 L1175.4 451.9 L1175.5 449.8 L1175.6 450.3 L1175.8 452.3 L1175.9 448.2 L1176.0 451.9 L1176.1 447.6 L1176.2 447.3 L1176.3 449.2 L1176.4 448.6 L1176.4 450.0 L1176.5 449.4 L1176.6 454.2 L1176.7 450.1 L1176.8 452.4 L1176.9 453.3 L1176.9 452.9 L1177.0 452.7 L1177.1 453.6 L1177.2 457.8 L1177.3 455.1 L1177.3 455.5 L1177.4 459.7 L1177.5 457.1 L1177.6 458.9 L1177.7 459.9 L1177.8 460.6 L1177.8 462.4 L1177.9 460.0 L1178.0 462.8 L1178.1 461.4 L1178.2 462.5 L1178.3 462.2 L1178.5 462.7 L1178.7 462.8 L1178.9 466.0 L1179.0 467.0 L1179.2 465.9 L1179.4 467.7 L1179.6 466.5 L1179.7 468.2 L1179.9 468.0 L1180.1 467.4 L1180.3 470.4 L1180.4 469.3 L1180.6 470.2 L1180.7 471.8 L1180.8 469.8 L1180.9 471.3 L1181.1 471.4 L1181.2 474.2 L1181.3 473.3 L1181.4 476.4 L1181.5 474.9 L1181.6 476.3 L1181.7 476.7 L1181.8 475.5 L1181.9 479.4 L1182.1 477.2 L1182.2 478.9 L1182.3 478.6 L1182.4 481.9 L1182.5 481.9 L1182.6 480.3 L1182.7 484.9 L1182.8 482.7 L1182.9 481.1 L1183.1 483.1 L1183.3 482.9 L1183.6 481.7 L1183.9 483.4 L1184.1 481.3 L1184.4 482.1 L1184.7 480.0 L1185.0 478.6 L1185.2 478.5 L1185.5 478.6 L1185.7 481.6 L1185.9 479.3 L1186.0 481.7 L1186.2 480.6 L1186.4 482.8 L1186.6 482.2 L1186.7 482.9 L1186.9 483.5 L1187.1 482.3 L1187.3 485.4 L1187.4 486.2 L1187.6 488.6 L1187.8 484.9 L1188.0 486.4 L1188.2 488.2 L1188.4 488.0 L1188.6 488.6 L1188.8 490.1 L1189.1 492.1 L1189.3 489.3 L1189.5 490.8 L1189.7 492.9 L1190.0 492.7 L1190.2 493.8 L1190.4 493.5 L1190.6 496.3 L1190.9 496.9 L1191.1 494.7 L1191.3 497.3 L1191.5 498.6 L1191.7 495.8 L1192.0 497.7 L1192.2 497.7 L1192.4 498.8 L1192.6 501.9 L1192.9 499.8 L1193.0 498.0 L1193.2 497.1 L1193.4 497.6 L1193.6 499.9 L1193.7 498.7 L1193.9 500.1 L1194.1 495.3 L1194.3 499.1 L1194.4 494.2 L1194.6 496.4 L1194.8 496.5 L1195.0 494.3 L1195.1 492.3 L1195.3 491.4 L1195.5 490.3 L1195.7 491.3 L1195.8 491.2 L1196.0 490.5 L1196.2 490.8 L1196.4 487.4 L1196.5 489.8 L1196.7 486.0 L1196.9 488.3 L1197.1 485.2 L1197.2 484.2 L1197.4 487.4 L1197.6 486.9 L1197.8 484.5 L1198.0 484.3 L1198.2 482.6 L1198.4 483.0 L1198.6 482.3 L1198.9 481.0 L1199.1 483.8 L1199.3 477.9 L1199.5 480.0 L1199.8 477.1 L1200.0 477.8 L1200.2 476.6 L1200.4 475.9 L1200.5 479.2 L1200.7 473.9 L1200.8 474.1 L1201.0 475.9 L1201.1 471.8 L1201.3 474.8 L1201.4 474.3 L1201.6 473.6 L1201.7 472.3 L1201.9 469.0 L1202.0 468.6 L1202.2 471.7 L1202.3 467.5 L1202.5 469.1 L1202.7 467.2 L1202.8 470.9 L1202.9 468.7 L1203.1 470.0 L1203.2 468.5 L1203.4 470.6 L1203.5 469.0 L1203.7 472.1 L1203.8 474.2 L1204.0 475.5 L1204.1 472.3 L1204.3 473.6" fill="none" stroke="#6f6f6f" stroke-width="2.6" stroke-linejoin="round" clip-path="url(#cbr)"/>
<path d="M691.6 503.0 C692.1 504.6 693.5 511.7 694.5 512.8 C695.6 513.8 696.7 512.2 697.8 509.5 C698.9 506.8 700.0 501.1 701.1 496.4 C702.1 491.8 703.2 485.8 704.3 481.7 C705.4 477.7 706.5 473.8 707.6 471.9 C708.7 470.0 709.8 469.8 710.9 470.3 C711.9 470.9 712.9 472.5 714.1 475.2 C715.3 477.9 716.8 483.1 718.2 486.6 C719.6 490.2 720.9 494.3 722.3 496.4 C723.6 498.6 725.1 500.5 726.4 499.7 C727.6 498.9 728.4 495.9 729.6 491.5 C730.9 487.2 732.5 479.3 733.7 473.6 C734.9 467.9 735.9 461.2 737.0 457.2 C738.1 453.3 739.2 451.0 740.2 449.9 C741.3 448.8 742.4 449.2 743.5 450.7 C744.6 452.2 745.7 455.6 746.8 458.9 C747.9 462.1 748.8 466.1 750.0 470.3 C751.3 474.5 752.8 481.2 754.1 484.2 C755.5 487.2 757.0 489.2 758.2 488.3 C759.4 487.3 760.4 482.8 761.5 478.5 C762.6 474.1 763.6 467.6 764.7 462.1 C765.8 456.7 766.9 450.7 768.0 445.8 C769.1 440.9 770.2 436.3 771.3 432.8 C772.4 429.2 773.4 426.4 774.5 424.6 C775.6 422.8 776.7 422.1 777.8 422.1 C778.9 422.1 780.0 422.8 781.1 424.6 C782.1 426.4 783.1 428.9 784.3 432.8 C785.6 436.6 787.0 442.3 788.4 447.4 C789.8 452.6 791.1 458.6 792.5 463.8 C793.9 468.9 795.2 474.7 796.6 478.5 C797.9 482.3 799.6 485.8 800.7 486.6 C801.7 487.4 802.1 486.1 803.1 483.4 C804.1 480.6 805.1 474.7 806.4 470.3 C807.6 466.0 809.1 460.9 810.4 457.2 C811.8 453.6 813.3 449.8 814.5 448.3 C815.8 446.8 816.7 446.0 817.8 448.3 C818.9 450.6 820.0 456.3 821.1 462.1 C822.1 468.0 823.4 476.6 824.3 483.4 C825.3 490.2 826.0 497.0 826.8 503.0 C827.6 508.9 828.4 514.5 829.2 519.3 C830.0 524.0 830.4 529.6 831.7 531.5 C832.9 533.4 834.9 531.7 836.6 530.7 C838.2 529.8 840.0 525.8 841.5 525.8 C843.0 525.8 844.3 528.3 845.6 530.7 C846.8 533.2 848.1 538.1 848.8 540.5 C849.5 542.9 849.2 542.8 849.8 544.9 C850.4 547.0 851.3 549.8 852.2 553.1 C853.2 556.3 854.4 560.4 855.5 564.5 C856.6 568.6 857.6 573.1 858.8 577.6 C860.0 582.0 861.5 587.9 862.9 591.4 C864.2 595.0 865.4 596.9 866.9 598.8 C868.4 600.7 870.2 601.2 871.8 602.9 C873.5 604.5 875.1 606.0 876.7 608.6 C878.4 611.2 880.0 615.0 881.6 618.4 C883.3 621.8 884.9 625.4 886.5 629.0 C888.2 632.5 889.8 636.2 891.4 639.6 C893.1 643.0 894.7 646.1 896.3 649.4 C898.0 652.7 899.6 655.9 901.2 659.2 C902.9 662.4 904.6 666.3 906.1 669.0 C907.6 671.7 909.0 673.6 910.2 675.5 C911.4 677.4 912.2 679.7 913.5 680.4 C914.7 681.1 916.1 681.5 917.6 679.6 C919.0 677.7 920.8 672.7 922.4 669.0 C924.1 665.3 925.7 661.1 927.3 657.6 C929.0 654.0 930.6 650.5 932.2 647.8 C933.9 645.0 935.5 643.4 937.1 641.2 C938.8 639.0 940.4 637.4 942.0 634.7 C943.7 632.0 945.4 628.7 946.9 624.9 C948.4 621.1 949.8 616.2 951.0 611.8 C952.2 607.5 953.3 602.9 954.3 598.8 C955.2 594.7 955.9 590.6 956.7 587.3 C957.6 584.1 958.4 581.6 959.2 579.2 C960.0 576.7 960.5 574.7 961.6 572.7 C962.7 570.6 964.1 568.3 965.7 566.9 C967.3 565.6 969.7 564.1 971.4 564.5 C973.2 564.9 974.7 568.0 976.3 569.4 C978.0 570.7 979.7 572.9 981.2 572.7 C982.7 572.4 984.2 570.5 985.3 567.8 C986.4 565.0 986.9 560.1 987.8 556.3 C988.6 552.5 989.5 547.6 990.2 544.9 C990.9 542.2 991.2 544.8 991.8 540.0 C992.4 535.2 993.1 522.5 993.9 516.0 C994.6 509.6 995.5 505.7 996.3 501.3 C997.1 497.0 997.8 493.7 998.8 489.9 C999.7 486.1 1001.0 481.7 1002.0 478.5 C1003.1 475.2 1004.1 472.2 1005.3 470.3 C1006.5 468.4 1008.6 467.6 1009.4 467.0 C1010.2 466.5 1009.1 466.5 1010.0 467.0 C1010.9 467.6 1013.3 468.3 1014.9 470.3 C1016.5 472.3 1018.2 477.2 1019.8 479.3 C1021.4 481.3 1022.9 482.1 1024.7 482.6 C1026.5 483.0 1028.5 482.0 1030.4 481.7 C1032.3 481.5 1034.2 480.1 1036.1 480.9 C1038.0 481.7 1039.9 485.1 1041.8 486.6 C1043.7 488.1 1045.6 489.5 1047.6 489.9 C1049.5 490.3 1051.8 488.4 1053.3 489.1 C1054.8 489.8 1055.4 491.4 1056.5 494.0 C1057.6 496.6 1058.6 501.2 1059.8 504.6 C1061.0 508.0 1062.5 512.3 1063.9 514.4 C1065.2 516.5 1066.6 517.6 1068.0 517.3 C1069.3 517.1 1070.7 514.9 1072.0 512.8 C1073.4 510.6 1074.8 508.4 1076.1 504.6 C1077.5 500.8 1078.8 495.6 1080.2 489.9 C1081.6 484.2 1082.9 477.4 1084.3 470.3 C1085.6 463.2 1087.0 454.0 1088.4 447.4 C1089.7 440.9 1091.2 435.7 1092.4 431.1 C1093.7 426.5 1094.6 422.3 1095.7 419.7 C1096.8 417.1 1097.9 415.1 1099.0 415.6 C1100.1 416.2 1101.0 418.7 1102.2 423.0 C1103.5 427.2 1105.0 434.7 1106.3 440.9 C1107.7 447.2 1109.0 454.8 1110.4 460.5 C1111.8 466.2 1113.0 471.1 1114.5 475.2 C1116.0 479.3 1117.8 482.8 1119.4 485.0 C1121.0 487.2 1122.5 487.7 1124.3 488.3 C1126.1 488.8 1128.1 488.3 1130.0 488.3 C1131.9 488.3 1133.8 489.4 1135.7 488.3 C1137.6 487.2 1139.7 483.9 1141.4 481.7 C1143.2 479.6 1144.7 475.9 1146.3 475.2 C1148.0 474.5 1149.6 476.6 1151.2 477.7 C1152.9 478.7 1154.6 482.4 1156.1 481.7 C1157.6 481.1 1158.8 477.1 1160.2 473.6 C1161.6 470.0 1162.8 464.3 1164.3 460.5 C1165.8 456.7 1167.7 453.2 1169.2 450.7 C1170.7 448.3 1171.9 446.6 1173.3 445.8 C1174.6 445.0 1176.0 444.5 1177.3 445.8 C1178.7 447.2 1180.1 450.7 1181.4 454.0 C1182.8 457.2 1184.1 461.6 1185.5 465.4 C1186.9 469.2 1188.2 473.8 1189.6 476.8 C1191.0 479.8 1192.3 483.1 1193.7 483.4 C1195.0 483.6 1196.5 481.2 1197.8 478.5 C1199.0 475.7 1199.9 471.1 1201.0 467.0 C1202.1 463.0 1203.7 456.2 1204.3 454.0" fill="none" stroke="#14979d" stroke-width="1.70" stroke-dasharray="1.8 5" stroke-linecap="butt" clip-path="url(#cbr)"/>
<path d="M691.6 489.9 C692.1 491.3 693.5 497.4 694.5 498.1 C695.6 498.7 696.7 496.7 697.8 494.0 C698.9 491.3 700.0 486.2 701.1 481.7 C702.1 477.2 703.2 470.7 704.3 467.0 C705.4 463.4 706.5 461.1 707.6 459.7 C708.7 458.3 709.8 458.3 710.9 458.9 C711.9 459.4 712.9 460.9 714.1 463.0 C715.3 465.0 716.8 468.8 718.2 471.1 C719.6 473.4 720.9 476.3 722.3 476.8 C723.6 477.4 725.0 476.4 726.4 474.4 C727.7 472.3 729.1 468.8 730.4 464.6 C731.8 460.4 733.3 453.6 734.5 449.1 C735.8 444.6 736.7 440.4 737.8 437.7 C738.9 434.9 740.0 433.2 741.1 432.8 C742.1 432.3 743.2 433.0 744.3 435.2 C745.4 437.4 746.4 442.1 747.6 445.8 C748.8 449.5 750.3 454.1 751.7 457.2 C753.0 460.4 754.5 463.1 755.8 464.6 C757.0 466.1 757.9 467.2 759.0 466.2 C760.1 465.3 761.1 462.6 762.3 458.9 C763.5 455.2 765.0 448.8 766.4 444.2 C767.7 439.6 769.2 434.8 770.4 431.1 C771.7 427.4 772.5 424.0 773.7 422.1 C774.9 420.3 776.6 420.2 777.8 420.0 C779.0 419.9 780.0 420.2 781.1 421.3 C782.1 422.5 783.1 424.0 784.3 427.0 C785.6 430.0 787.0 434.8 788.4 439.3 C789.8 443.8 791.1 449.8 792.5 454.0 C793.9 458.2 795.2 462.3 796.6 464.6 C797.9 466.9 799.3 468.3 800.7 467.9 C802.0 467.4 803.4 465.0 804.7 462.1 C806.1 459.3 807.5 454.8 808.8 450.7 C810.2 446.6 811.5 440.6 812.9 437.7 C814.3 434.7 815.9 433.2 817.0 432.8 C818.1 432.3 818.5 432.5 819.4 435.2 C820.4 437.9 821.6 443.5 822.7 449.1 C823.8 454.7 824.9 462.7 826.0 468.7 C827.0 474.7 828.1 480.8 829.2 485.0 C830.3 489.2 831.4 492.5 832.5 494.0 C833.6 495.5 834.7 495.2 835.8 494.0 C836.8 492.8 837.9 488.3 839.0 486.6 C840.1 485.0 841.2 484.2 842.3 484.2 C843.4 484.2 844.5 484.6 845.6 486.6 C846.6 488.7 847.6 492.6 848.8 496.4 C850.0 500.2 851.4 505.1 852.9 509.5 C854.4 513.8 856.6 518.7 857.8 522.6 C859.0 526.4 858.8 529.4 860.0 532.3 C861.2 535.3 864.0 539.2 864.9 540.5 C865.8 541.8 864.4 539.5 865.3 540.0 C866.2 540.5 868.4 541.9 870.2 543.3 C872.0 544.6 874.3 545.7 875.9 548.2 C877.6 550.6 878.6 553.9 880.0 558.0 C881.4 562.0 882.7 567.5 884.1 572.7 C885.4 577.8 886.8 583.5 888.2 589.0 C889.5 594.4 890.9 599.9 892.2 605.3 C893.6 610.7 895.0 616.2 896.3 621.6 C897.7 627.1 899.0 632.8 900.4 638.0 C901.8 643.1 903.1 648.0 904.5 652.7 C905.9 657.3 907.2 661.9 908.6 665.7 C909.9 669.5 911.7 673.5 912.7 675.5 C913.6 677.6 913.6 678.0 914.3 678.0 C915.0 678.0 915.8 677.6 916.7 675.5 C917.7 673.5 918.8 669.8 920.0 665.7 C921.2 661.6 922.7 656.2 924.1 651.0 C925.4 645.9 926.8 639.9 928.2 634.7 C929.5 629.5 930.7 625.2 932.2 620.0 C933.7 614.8 935.5 608.8 937.1 603.7 C938.8 598.5 940.4 593.9 942.0 589.0 C943.7 584.1 945.4 579.2 946.9 574.3 C948.4 569.4 949.8 564.2 951.0 559.6 C952.2 555.0 953.5 549.8 954.3 546.5 C955.1 543.3 955.2 544.5 955.9 540.0 C956.7 535.5 957.8 524.2 958.8 519.3 C959.8 514.3 960.8 512.1 962.0 510.3 C963.3 508.5 964.6 508.3 966.1 508.7 C967.6 509.1 969.7 510.4 971.0 512.8 C972.4 515.1 973.1 519.0 974.3 522.6 C975.5 526.1 977.1 531.0 978.4 534.0 C979.6 537.0 980.5 539.7 981.6 540.5 C982.7 541.3 983.8 541.1 984.9 538.9 C986.0 536.7 987.1 532.6 988.2 527.4 C989.3 522.3 990.3 514.9 991.4 507.9 C992.5 500.8 993.6 491.8 994.7 485.0 C995.8 478.2 996.9 472.2 998.0 467.0 C999.0 461.9 1000.1 457.2 1001.2 454.0 C1002.3 450.7 1003.3 449.2 1004.5 447.4 C1005.7 445.7 1007.7 444.0 1008.6 443.4 C1009.5 442.7 1008.9 442.1 1010.0 443.4 C1011.1 444.6 1013.3 448.4 1014.9 450.7 C1016.5 453.0 1018.2 455.5 1019.8 457.2 C1021.4 459.0 1022.9 460.9 1024.7 461.3 C1026.5 461.7 1028.5 459.6 1030.4 459.7 C1032.3 459.8 1034.2 460.5 1036.1 462.1 C1038.0 463.8 1039.9 468.0 1041.8 469.5 C1043.7 471.0 1045.6 471.0 1047.6 471.1 C1049.5 471.3 1051.6 469.6 1053.3 470.3 C1054.9 471.0 1055.9 472.5 1057.3 475.2 C1058.8 477.9 1060.7 484.2 1062.2 486.6 C1063.7 489.1 1064.7 489.6 1066.3 489.9 C1068.0 490.2 1070.3 489.6 1072.0 488.3 C1073.8 486.9 1075.3 484.7 1076.9 481.7 C1078.6 478.7 1080.3 475.2 1081.8 470.3 C1083.3 465.4 1084.6 458.3 1085.9 452.3 C1087.3 446.4 1088.8 439.3 1090.0 434.4 C1091.2 429.5 1092.2 425.5 1093.3 423.0 C1094.4 420.4 1095.4 419.4 1096.5 418.9 C1097.6 418.3 1098.6 417.9 1099.8 419.7 C1101.0 421.5 1102.5 425.7 1103.9 429.5 C1105.2 433.3 1106.6 437.7 1108.0 442.6 C1109.3 447.4 1110.7 454.4 1112.0 458.9 C1113.4 463.4 1114.6 467.3 1116.1 469.5 C1117.6 471.7 1119.4 471.8 1121.0 471.9 C1122.7 472.1 1124.1 470.4 1125.9 470.3 C1127.7 470.2 1129.7 470.9 1131.6 471.1 C1133.5 471.4 1135.4 472.9 1137.3 471.9 C1139.3 471.0 1141.3 467.0 1143.1 465.4 C1144.8 463.8 1146.2 462.0 1148.0 462.1 C1149.7 462.3 1151.9 465.3 1153.7 466.2 C1155.4 467.2 1156.9 469.1 1158.6 467.9 C1160.2 466.6 1161.8 462.0 1163.5 458.9 C1165.1 455.7 1166.7 451.5 1168.4 449.1 C1170.0 446.6 1171.8 445.1 1173.3 444.2 C1174.8 443.2 1176.0 442.6 1177.3 443.4 C1178.7 444.2 1179.9 446.5 1181.4 449.1 C1182.9 451.7 1184.8 456.0 1186.3 458.9 C1187.8 461.7 1189.0 465.4 1190.4 466.2 C1191.8 467.0 1193.1 465.8 1194.5 463.8 C1195.9 461.7 1197.3 457.5 1198.6 454.0 C1199.8 450.4 1200.9 445.3 1201.8 442.6 C1202.8 439.8 1203.9 438.5 1204.3 437.7" fill="none" stroke="#b872fa" stroke-width="1.45" stroke-dasharray="9.4 10.2" stroke-linecap="butt" clip-path="url(#cbr)"/>
<path d="M691.6 475.2 C691.9 476.0 692.8 479.3 693.7 480.1 C694.6 480.9 695.9 481.2 697.0 480.1 C698.1 479.0 699.2 477.1 700.2 473.6 C701.3 470.0 702.4 462.7 703.5 458.9 C704.6 455.1 705.6 452.6 706.8 450.7 C708.0 448.9 709.5 447.8 710.9 447.8 C712.2 447.8 713.6 449.1 714.9 450.7 C716.3 452.3 717.7 455.7 719.0 457.2 C720.4 458.7 721.7 460.0 723.1 459.7 C724.5 459.4 725.8 457.9 727.2 455.6 C728.5 453.3 729.9 449.4 731.3 445.8 C732.6 442.3 734.1 437.4 735.3 434.4 C736.6 431.4 737.5 429.2 738.6 427.9 C739.7 426.5 740.8 426.0 741.9 426.2 C743.0 426.5 743.9 427.3 745.1 429.5 C746.4 431.7 747.9 436.3 749.2 439.3 C750.6 442.3 751.9 445.7 753.3 447.4 C754.7 449.2 756.0 449.9 757.4 449.9 C758.7 449.9 760.1 449.2 761.5 447.4 C762.8 445.7 764.2 442.4 765.6 439.3 C766.9 436.2 768.3 431.8 769.6 428.7 C771.0 425.5 772.4 422.4 773.7 420.5 C775.1 418.6 776.6 417.7 777.8 417.2 C779.0 416.8 780.0 417.1 781.1 417.7 C782.1 418.4 783.2 419.4 784.3 421.3 C785.4 423.3 786.4 426.2 787.6 429.5 C788.8 432.8 790.3 437.4 791.7 440.9 C793.0 444.5 794.4 448.5 795.8 450.7 C797.1 452.9 798.5 454.0 799.8 454.0 C801.2 454.0 802.6 452.9 803.9 450.7 C805.3 448.5 806.6 444.3 808.0 440.9 C809.4 437.5 810.7 433.0 812.1 430.3 C813.4 427.6 815.1 425.5 816.2 424.6 C817.3 423.6 817.8 423.8 818.6 424.6 C819.4 425.4 820.1 426.2 821.1 429.5 C822.0 432.8 823.2 439.3 824.3 444.2 C825.4 449.1 826.5 455.2 827.6 458.9 C828.7 462.6 829.8 465.1 830.9 466.2 C831.9 467.3 832.9 466.6 834.1 465.4 C835.3 464.2 836.8 460.9 838.2 458.9 C839.6 456.8 841.2 454.1 842.3 453.2 C843.4 452.2 843.8 452.5 844.7 453.2 C845.7 453.8 846.6 454.9 848.0 457.2 C849.4 459.6 851.3 463.8 852.9 467.0 C854.5 470.3 856.6 474.5 857.8 476.8 C859.0 479.1 858.8 479.7 860.0 480.9 C861.2 482.1 863.3 483.6 864.9 484.2 C866.5 484.7 868.2 484.3 869.8 484.2 C871.4 484.0 873.2 483.0 874.7 483.4 C876.2 483.8 877.6 485.0 878.8 486.6 C880.0 488.3 881.0 490.2 882.0 493.2 C883.1 496.2 884.2 499.7 885.3 504.6 C886.4 509.5 887.5 516.6 888.6 522.6 C889.7 528.5 891.2 537.6 891.8 540.5 C892.4 543.4 891.8 537.6 892.2 540.0 C892.7 542.4 893.7 549.3 894.7 554.7 C895.6 560.1 896.9 566.4 898.0 572.7 C899.0 578.9 900.1 585.4 901.2 592.2 C902.3 599.0 903.4 606.4 904.5 613.5 C905.6 620.5 906.7 628.7 907.8 634.7 C908.8 640.7 909.9 646.0 911.0 649.4 C912.1 652.8 913.2 654.6 914.3 655.1 C915.4 655.6 916.6 654.4 917.6 652.7 C918.5 650.9 919.2 648.0 920.0 644.5 C920.8 641.0 921.6 636.6 922.4 631.4 C923.3 626.3 924.1 619.5 924.9 613.5 C925.7 607.5 926.5 601.5 927.3 595.5 C928.2 589.5 929.0 583.3 929.8 577.6 C930.6 571.8 931.4 566.1 932.2 561.2 C933.1 556.3 933.9 551.7 934.7 548.2 C935.5 544.6 936.5 542.6 937.1 540.0 C937.8 537.4 937.5 535.8 938.4 532.3 C939.3 528.9 941.1 523.1 942.4 519.3 C943.8 515.5 945.2 513.3 946.5 509.5 C947.9 505.7 949.3 501.1 950.6 496.4 C952.0 491.8 953.3 486.6 954.7 481.7 C956.1 476.8 957.6 470.9 958.8 467.0 C960.0 463.2 961.0 460.4 962.0 458.9 C963.1 457.4 964.2 457.2 965.3 458.1 C966.4 458.9 967.3 460.9 968.6 463.8 C969.8 466.6 971.3 470.6 972.7 475.2 C974.0 479.8 975.4 486.1 976.7 491.5 C978.1 497.0 979.6 504.0 980.8 507.9 C982.0 511.7 983.0 514.1 984.1 514.4 C985.2 514.7 986.3 513.6 987.3 509.5 C988.4 505.4 989.5 496.7 990.6 489.9 C991.7 483.1 992.8 475.2 993.9 468.7 C995.0 462.1 996.1 455.9 997.1 450.7 C998.2 445.5 999.3 441.2 1000.4 437.7 C1001.5 434.1 1002.4 431.4 1003.7 429.5 C1004.9 427.6 1006.7 426.8 1007.8 426.2 C1008.8 425.7 1008.8 425.3 1010.0 426.2 C1011.2 427.2 1013.3 429.9 1014.9 431.9 C1016.5 434.0 1018.2 436.8 1019.8 438.5 C1021.4 440.1 1022.9 441.2 1024.7 441.7 C1026.5 442.3 1028.5 441.2 1030.4 441.7 C1032.3 442.3 1034.2 443.2 1036.1 445.0 C1038.0 446.8 1039.9 450.9 1041.8 452.3 C1043.7 453.8 1045.6 453.8 1047.6 453.7 C1049.5 453.5 1051.5 450.9 1053.3 451.5 C1055.0 452.1 1056.7 454.9 1058.2 457.2 C1059.7 459.6 1060.9 463.1 1062.2 465.4 C1063.6 467.7 1065.0 470.2 1066.3 471.1 C1067.7 472.1 1069.0 472.1 1070.4 471.1 C1071.8 470.2 1073.0 467.7 1074.5 465.4 C1076.0 463.1 1077.9 459.7 1079.4 457.2 C1080.9 454.8 1082.2 453.7 1083.5 450.7 C1084.7 447.7 1085.6 443.4 1086.7 439.3 C1087.8 435.2 1088.9 429.8 1090.0 426.2 C1091.1 422.7 1092.2 419.8 1093.3 418.1 C1094.4 416.3 1095.4 415.7 1096.5 415.6 C1097.6 415.5 1098.6 415.2 1099.8 417.2 C1101.0 419.3 1102.5 424.0 1103.9 427.9 C1105.2 431.7 1106.6 436.3 1108.0 440.1 C1109.3 443.9 1110.7 448.0 1112.0 450.7 C1113.4 453.4 1114.6 455.7 1116.1 456.4 C1117.6 457.1 1119.4 455.4 1121.0 454.8 C1122.7 454.2 1124.1 453.1 1125.9 452.7 C1127.7 452.3 1129.7 452.4 1131.6 452.3 C1133.5 452.3 1135.4 453.2 1137.3 452.3 C1139.3 451.5 1141.3 448.7 1143.1 447.4 C1144.8 446.2 1146.5 445.1 1148.0 445.0 C1149.5 444.9 1150.5 446.4 1152.0 447.1 C1153.5 447.8 1155.3 449.2 1156.9 449.1 C1158.6 449.0 1160.2 448.1 1161.8 446.6 C1163.5 445.1 1165.1 441.9 1166.7 440.1 C1168.4 438.3 1170.0 436.5 1171.6 435.7 C1173.3 434.9 1174.9 434.6 1176.5 435.2 C1178.2 435.8 1179.8 437.5 1181.4 439.3 C1183.1 441.1 1184.7 444.2 1186.3 445.8 C1188.0 447.4 1189.6 449.1 1191.2 449.1 C1192.9 449.1 1194.6 447.9 1196.1 445.8 C1197.6 443.8 1198.8 440.1 1200.2 436.8 C1201.6 433.6 1203.6 428.0 1204.3 426.2" fill="none" stroke="#dbc928" stroke-width="1.45" stroke-dasharray="10.2 5.3 2 5.3" stroke-linecap="butt" clip-path="url(#cbr)"/>
</svg>
<div class="cl" style="top:766.70px"><b>Figure 8.</b> Spectrum of KELT-19A (gray solid line) and three PHOENIX model atmospheres (colored lines; Husser et al. <span style="color:#1414c8">2013</span>), overplotted for illustration (i.e., not fit</div>
<div class="cl" style="top:787.15px">to the data). All models were generated with log<span style="margin-left:3.5px"></span><i>g</i><span class="st">&#9733;</span> <span class="m">=</span> 4.124 (cgs) and [Fe<span style="margin:0 1px">/</span>H] <span class="m" style="margin:0 4px 0 3px">=</span><span class="m" style="transform:scaleX(1.35);margin:0 2.5px 0 5px">+</span>0.5 and were broadened to 84.8 km s<sup>&#8722;1</sup> rotation, but have temperatures of 7000 K</div>
<div class="cl" style="top:807.60px">(blue-green dotted), 7500 K (purple dashed), and 8000 K (yellow dash&#8211;dotted). Bottom left: the H<i>&#945;</i> profile is consistent with a 7500 K atmosphere, like we find in the</div>
<div class="cl" style="top:828.05px">spectroscopy and the global fit. Top: iron lines are enhanced, and therefore more consistent with a cooler (7000 K) atmosphere. Bottom right: the Ca <span class="sc">II</span> K line is</div>
<div class="cl" style="top:848.50px">weaker than expected, with a profile similar to that of the 8000 K atmosphere. A spectral type that is &#8220;too late&#8221; in metals and a Ca <span class="sc">II</span> K spectral type that is &#8220;too early&#8221;</div>
<div class="cl last" style="top:868.95px">for the Balmer line spectral type is a hallmark of Am stars because of their photospheric metal enhancement and calcium deficiency.</div>

</body></html>
